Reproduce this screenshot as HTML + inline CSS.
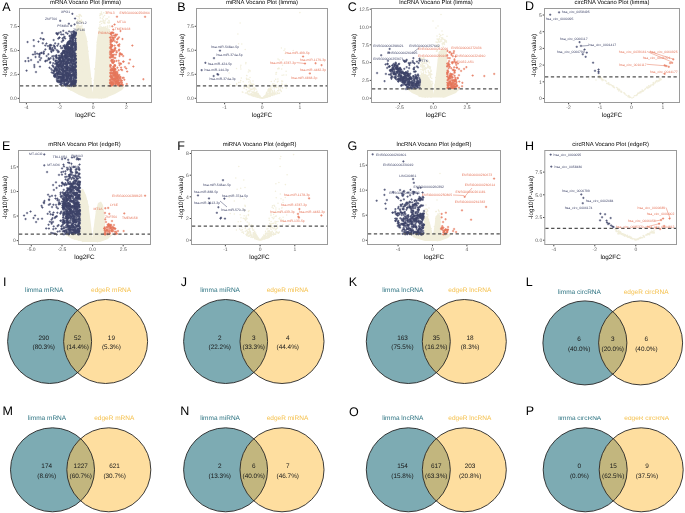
<!DOCTYPE html><html><head><meta charset="utf-8"><style>html,body{margin:0;padding:0;background:#fff}svg{display:block}</style></head><body>
<svg width="685" height="513" viewBox="0 0 685 513" style="font-family:'Liberation Sans',sans-serif;will-change:transform;text-rendering:geometricPrecision">
<defs><clipPath id="clipP"><rect x="540" y="416.3" width="145" height="10"/></clipPath></defs>
<polygon points="76,28 80,27 84,28 87,40 89.3,60 91.5,80 92.6,93 94,80 95.5,60 96.9,40 99,28 104,27 110,29 110,86 118,86 125,86.5 122,90 115,94 104,98.5 88,98.5 79,95 70,90 64,86.5 76,86" fill="#F1EEDB"/>
<path d="M72.2 87.6h0M103.7 83.4h0M91.2 78.6h0M77.2 57.2h0M78.2 43.5h0M77.3 59.9h0M81.7 28.5h0M103.2 40.3h0M108 77.9h0M82.5 69h0M117.8 87.5h0M94.8 69.1h0M106.9 75.2h0M86.9 58.4h0M95 82.7h0M94.6 97.2h0M95.3 95.1h0M99.2 59.8h0M80.4 66.2h0M98.2 57.5h0M98.8 41.3h0M85.8 51.7h0M96.8 71.6h0M101.4 59.8h0M79.6 87.2h0M105.1 33h0M107.4 59.5h0M83.6 60.9h0M100.9 85.4h0M105.4 65.9h0M77.6 73.4h0M88.1 68.2h0M83.6 72.1h0M82.7 88.4h0M82.9 94.2h0M109.4 56.8h0M79.4 27.6h0M98.8 39.3h0M106.9 63.4h0M87.1 51.8h0M76.6 75.2h0M82.1 62.7h0M83.8 89.3h0M76.3 50.4h0M84.7 42.2h0M105.1 86.9h0M93.6 97.5h0M78.3 78.9h0M84.8 47.8h0M68.5 88.9h0M112.1 86.2h0M84.8 71h0M98.8 43h0M80.9 83.3h0M104.9 33.6h0M71 90.3h0M78.7 80.2h0M87.1 96.4h0M79.5 61.1h0M100.4 59.2h0M83.1 31.5h0M77.1 71.2h0M106 74.3h0M79.8 65.7h0M82.7 44.6h0M103.8 73h0M82.7 50.4h0M83.3 87.6h0M84.4 65.9h0M99.3 69.6h0M79 28.5h0M78.9 32.2h0M81.7 83.6h0M94.1 88.7h0M83.3 91.6h0M113 91.9h0M106.1 39.7h0M107.6 74.7h0M79.4 31.6h0M97.5 65.7h0M88.1 51.2h0M79.7 28.7h0M103.4 56.8h0M98.8 31.5h0M85.7 36.9h0M88.5 70.8h0M78.2 27.5h0M96.3 62.8h0M103.6 58.3h0M105.9 79.3h0M78.5 62.4h0M89.1 67.1h0M80.8 73.2h0M95.2 89.7h0M106.2 87.7h0M86.7 77.1h0M108.9 69.5h0M116.2 91.1h0M77.3 67.7h0M105.6 78.3h0M85.2 63.8h0M80.3 92.3h0M111.3 87.2h0M104.2 77.1h0M91.1 93.1h0M100.6 56.2h0M79.1 80.6h0M102.3 70.3h0M81.4 65.8h0M80.7 68.9h0M79.3 75.9h0M93.9 88.2h0M87.4 47.3h0M97.3 96h0M98.9 49.3h0M82.6 55.6h0M87 41.6h0M100.5 90h0M82.6 39.2h0M101.8 65h0M87.7 57.4h0M88.7 88.6h0M99.7 79.5h0M94.1 80.3h0M103.1 73.4h0M102.4 56.1h0M102.4 72.3h0M85.3 45.9h0M107.2 89.5h0M95.1 80.2h0M104.1 28.4h0M94.9 94.6h0M106.1 55.7h0M106 70.3h0M76.7 41.9h0M68.6 86.4h0M95.2 79.7h0M107.5 85.3h0M80.5 70.6h0M78.2 67.1h0M107.1 87.3h0M102 49.6h0M90.3 81.5h0M102.2 38.8h0M101 45.7h0M86 80.7h0M78.7 78.3h0M107.8 48.8h0M100.4 90.6h0M77.2 29.5h0M106.9 85.3h0M84.9 86.9h0M99.4 42.2h0M107.6 50.6h0M100.2 92h0M112.6 88.3h0M83.5 54.4h0M99.4 92.7h0M88.4 89.9h0M115.2 91.8h0M80.7 35.4h0M102.9 80.2h0M105.9 87.5h0M104.4 54.9h0M102.5 96.3h0M103.1 44.4h0M100 52h0M100.9 67.1h0M85.5 56.5h0M76.2 89.9h0M89.9 74.4h0M107.5 80.1h0M108 80.8h0M116.1 87.9h0M86.6 97.4h0M88.1 77.6h0M108.7 49.4h0M113.2 88.2h0M82.5 57.4h0M79 66.8h0M84.1 51.2h0M99.6 34.5h0M103.8 59.1h0M96.7 91.1h0M85.1 68.1h0M103.7 49.4h0M82.2 52.2h0M83.8 80.5h0M83.9 50.4h0M93.3 92.3h0M113.8 93.2h0M99.1 98h0M109.5 52.9h0M88.6 60.2h0M105.9 67.2h0M89.1 79h0M97.3 46h0M102.6 64.6h0M74.6 88.6h0M81.3 90.7h0M100.5 88.9h0M105.2 65.9h0M108.3 85.2h0M76.3 80.4h0M99.7 29.9h0M98.9 66.4h0M96.1 65.8h0M88.9 72h0M82.8 48.6h0M94.9 68.9h0M97.5 96.8h0M98.5 53.3h0M88.5 94h0M86.7 80.6h0M85.6 56.7h0M79.9 88.3h0M100 47.5h0M95.3 79.9h0M106.2 58h0M107.6 62.1h0M93.3 95.1h0M88.3 78.7h0M101.3 98.2h0M97.5 65.2h0M85.1 94.6h0M97.7 57h0M105 35.5h0M80.2 46.9h0M105.3 33.2h0M87.8 74.8h0M81.9 63.3h0M87.6 91.7h0M76.3 64.2h0M89.4 90.5h0M94 91h0M97.2 42.3h0M80.3 65.6h0M90.9 81.3h0M80.7 77.5h0M100.5 95.6h0M96.5 70.5h0M81.1 76.7h0M80.3 42.3h0M86.4 60.6h0M84.6 70.3h0M75.1 89.9h0M106.3 65.2h0M106.1 73.1h0M113.5 90.7h0M83.2 62.3h0M84.1 36.1h0M106.9 67.3h0M105.8 43.2h0M76.2 67.6h0M82.6 71h0M105.5 97.4h0M84.8 70h0M84.1 37h0M79.3 82.1h0M105.6 29.9h0M80.4 30.6h0M88.4 93.8h0M102.9 44.3h0M105.5 46.6h0M105.4 71.4h0M96.2 67.4h0M96.7 55.2h0M77.1 58.1h0M97.3 44.9h0M80.5 64.9h0M103.9 65.9h0M97.2 87.3h0M108.1 75.9h0M105.6 38.1h0M115.3 87.6h0M84.5 90.5h0M73.7 87.7h0M87.3 58.4h0M80.5 74.7h0M87.1 67.2h0M89.8 93.7h0M88.9 70.3h0M79 84.8h0M78.6 67.2h0M85.8 38.3h0M111.4 92.5h0M83.1 89.9h0M85.1 74h0M87 48h0M106.7 72.4h0M105.1 90.7h0M107.3 96.7h0M87.4 86.6h0M97.1 67.9h0M120.5 87h0M102.7 79.6h0M84.9 44.1h0M111.3 93.9h0M99.7 63.7h0M90.1 83.8h0" stroke="#F1EEDB" stroke-width="1.6" stroke-linecap="round" fill="none"/>
<path d="M82 23.7h0M81.6 21.1h0M78.1 25.3h0M77 22.9h0M79.3 21.5h0M81.5 20.1h0M76.1 28.2h0M78.7 16.7h0M79.5 22.1h0M78.7 21.1h0M79.8 20.5h0M79.5 14.8h0M79.4 18.6h0M77.7 25.9h0M79.1 14.6h0M80.8 26.4h0M82.6 22.6h0M77.2 16.3h0M79 16.7h0M80 14.5h0M77.1 16.3h0M77.7 25.6h0M80.6 15.4h0M79.6 26.8h0M80.9 21.4h0M79.3 15.3h0M81.8 22h0M77.1 21.2h0M76.6 16.1h0M79.2 16.9h0M81.6 28.8h0M79 26.3h0M77.9 24.1h0M79 21.1h0M76.8 26.1h0M77.8 19.9h0M78.5 25.8h0M81 22.5h0M76.5 26.1h0M78.7 25.8h0M76.9 26.5h0M81.4 16.2h0M77.8 20.6h0M77 27.4h0M82 25.9h0" stroke="#F1EEDB" stroke-width="1.6" stroke-linecap="round" fill="none"/>
<path d="M102.9 28.6h0M100 24.9h0M101.4 12.1h0M99.9 15.6h0M107.3 18.8h0M104 23h0M101.6 23.5h0M106.2 28.6h0M104.3 27.4h0M109.6 25.8h0M103.3 16.9h0M99.6 27h0M100 22.1h0M103.7 12.8h0M101 26.8h0M104.7 28.6h0M106.3 12.8h0M103.4 20h0M109.5 22.7h0M100.7 21.2h0M104.5 15.5h0M102.6 27.8h0M109.8 26h0M99.2 28.3h0M103.8 27h0M100.5 14.7h0M108.9 17.1h0M109.9 27h0M103.1 29.9h0M107.7 27.2h0M105.9 19.1h0M108.9 20.5h0M109.2 21.9h0M109 20.6h0M103.4 22.6h0M102.1 14.7h0M105.3 27.3h0M101.7 27.6h0M107.6 26h0M103.3 30h0M107.6 22.4h0M99.8 22.3h0M98.7 28.2h0M102.4 18.6h0M104.8 23.5h0M105.2 20.7h0M105.8 27.2h0M103.6 21h0M100.3 17.9h0M101 28.1h0M100.2 13.9h0M102.1 21.2h0M107.9 29.9h0M108.3 23h0M105.8 26.8h0M101.6 29.4h0M104.8 22.3h0M105.6 13.3h0M100.5 28.9h0M101.6 13.5h0" stroke="#F1EEDB" stroke-width="1.6" stroke-linecap="round" fill="none"/>
<path d="M58.3 71.2h2.3m-1.1-1.1v2.3M58.2 57.9h2.3m-1.1-1.1v2.3M68.8 48.3h2.3m-1.1-1.1v2.3M71.9 84.7h2.3m-1.1-1.1v2.3M70.8 36.1h2.3m-1.1-1.1v2.3M59.1 82h2.3m-1.1-1.1v2.3M71.6 39.2h2.3m-1.1-1.1v2.3M62 51.7h2.3m-1.1-1.1v2.3M59.1 72.5h2.3m-1.1-1.1v2.3M72.2 34.2h2.3m-1.1-1.1v2.3M65.4 67.8h2.3m-1.1-1.1v2.3M71.9 54.9h2.3m-1.1-1.1v2.3M74.2 42.7h2.3m-1.1-1.1v2.3M59.6 84.1h2.3m-1.1-1.1v2.3M68.5 43.9h2.3m-1.1-1.1v2.3M74.4 33.7h2.3m-1.1-1.1v2.3M57.7 61.8h2.3m-1.1-1.1v2.3M52.1 73.3h2.3m-1.1-1.1v2.3M53.8 76.1h2.3m-1.1-1.1v2.3M63.1 52.1h2.3m-1.1-1.1v2.3M60.9 67.3h2.3m-1.1-1.1v2.3M67.6 48h2.3m-1.1-1.1v2.3M73.3 55h2.3m-1.1-1.1v2.3M66.2 67.9h2.3m-1.1-1.1v2.3M73.8 55.4h2.3m-1.1-1.1v2.3M68.1 50.6h2.3m-1.1-1.1v2.3M68 75.4h2.3m-1.1-1.1v2.3M73.7 76.9h2.3m-1.1-1.1v2.3M64.8 61.7h2.3m-1.1-1.1v2.3M63.4 57.8h2.3m-1.1-1.1v2.3M67.5 63.1h2.3m-1.1-1.1v2.3M71.6 56.3h2.3m-1.1-1.1v2.3M62.7 76.9h2.3m-1.1-1.1v2.3M67.4 60.3h2.3m-1.1-1.1v2.3M64.8 75.5h2.3m-1.1-1.1v2.3M65.8 46h2.3m-1.1-1.1v2.3M59 64.6h2.3m-1.1-1.1v2.3M72.4 44.5h2.3m-1.1-1.1v2.3M62.1 69.8h2.3m-1.1-1.1v2.3M73.1 69.6h2.3m-1.1-1.1v2.3M66.2 52.7h2.3m-1.1-1.1v2.3M61.9 66.7h2.3m-1.1-1.1v2.3M60 74.4h2.3m-1.1-1.1v2.3M52 72.6h2.3m-1.1-1.1v2.3M68.9 48.5h2.3m-1.1-1.1v2.3M65.4 74.5h2.3m-1.1-1.1v2.3M71.9 43.3h2.3m-1.1-1.1v2.3M74.6 66.9h2.3m-1.1-1.1v2.3M54.8 69.3h2.3m-1.1-1.1v2.3M73.9 64.8h2.3m-1.1-1.1v2.3M68 41.9h2.3m-1.1-1.1v2.3M69.5 59.2h2.3m-1.1-1.1v2.3M65.1 51.8h2.3m-1.1-1.1v2.3M64 56.9h2.3m-1.1-1.1v2.3M71.8 36h2.3m-1.1-1.1v2.3M65.8 65.3h2.3m-1.1-1.1v2.3M66.3 45.1h2.3m-1.1-1.1v2.3M69 79.5h2.3m-1.1-1.1v2.3M58.9 58.9h2.3m-1.1-1.1v2.3M60.4 61.9h2.3m-1.1-1.1v2.3M72 59.7h2.3m-1.1-1.1v2.3M59.2 64.6h2.3m-1.1-1.1v2.3M65.3 47.8h2.3m-1.1-1.1v2.3M64.5 46.9h2.3m-1.1-1.1v2.3M63.4 79h2.3m-1.1-1.1v2.3M69.1 72.5h2.3m-1.1-1.1v2.3M74.6 46.3h2.3m-1.1-1.1v2.3M73.1 84.8h2.3m-1.1-1.1v2.3M53.3 71.5h2.3m-1.1-1.1v2.3M71.5 35.6h2.3m-1.1-1.1v2.3M72.3 44.9h2.3m-1.1-1.1v2.3M64.6 56.4h2.3m-1.1-1.1v2.3M66.6 73.1h2.3m-1.1-1.1v2.3M72.7 37.3h2.3m-1.1-1.1v2.3M70.1 79.4h2.3m-1.1-1.1v2.3M55.2 77h2.3m-1.1-1.1v2.3M65.4 55.9h2.3m-1.1-1.1v2.3M70.1 67.9h2.3m-1.1-1.1v2.3M69 38.3h2.3m-1.1-1.1v2.3M73.8 75.8h2.3m-1.1-1.1v2.3M59.9 56.5h2.3m-1.1-1.1v2.3M72 67.6h2.3m-1.1-1.1v2.3M66 78.7h2.3m-1.1-1.1v2.3M60.7 55h2.3m-1.1-1.1v2.3M57.5 76.8h2.3m-1.1-1.1v2.3M72 81.2h2.3m-1.1-1.1v2.3M53.5 75.1h2.3m-1.1-1.1v2.3M72.2 60.7h2.3m-1.1-1.1v2.3M73 82.3h2.3m-1.1-1.1v2.3M69.2 52h2.3m-1.1-1.1v2.3M62.3 51h2.3m-1.1-1.1v2.3M61 57.5h2.3m-1.1-1.1v2.3M55.7 62.6h2.3m-1.1-1.1v2.3M71.9 70.4h2.3m-1.1-1.1v2.3M57.3 66.8h2.3m-1.1-1.1v2.3M55.8 78.2h2.3m-1.1-1.1v2.3M64.5 79.9h2.3m-1.1-1.1v2.3M72.9 77.6h2.3m-1.1-1.1v2.3M56.1 60.9h2.3m-1.1-1.1v2.3M74.5 71.2h2.3m-1.1-1.1v2.3M74 59.4h2.3m-1.1-1.1v2.3M71.9 78.3h2.3m-1.1-1.1v2.3M69.8 65.9h2.3m-1.1-1.1v2.3M67.2 50.5h2.3m-1.1-1.1v2.3M66 84.1h2.3m-1.1-1.1v2.3M71.4 49.7h2.3m-1.1-1.1v2.3M60.3 80.1h2.3m-1.1-1.1v2.3M59 59.6h2.3m-1.1-1.1v2.3M72.6 61.1h2.3m-1.1-1.1v2.3M72.6 61.3h2.3m-1.1-1.1v2.3M61.8 79.1h2.3m-1.1-1.1v2.3M65.2 57.6h2.3m-1.1-1.1v2.3M63.6 51.2h2.3m-1.1-1.1v2.3M56.6 73.2h2.3m-1.1-1.1v2.3M65.9 68.6h2.3m-1.1-1.1v2.3M71.8 36.7h2.3m-1.1-1.1v2.3M66.7 42.6h2.3m-1.1-1.1v2.3M59.7 63.1h2.3m-1.1-1.1v2.3M71.1 68.2h2.3m-1.1-1.1v2.3M74.5 33h2.3m-1.1-1.1v2.3M59.1 57.9h2.3m-1.1-1.1v2.3M60.3 62.2h2.3m-1.1-1.1v2.3M59.2 72h2.3m-1.1-1.1v2.3M64.9 85.8h2.3m-1.1-1.1v2.3M65.8 80.1h2.3m-1.1-1.1v2.3M65 58h2.3m-1.1-1.1v2.3M59.1 77h2.3m-1.1-1.1v2.3M63.1 83.3h2.3m-1.1-1.1v2.3M58.6 66.2h2.3m-1.1-1.1v2.3M73.2 43.7h2.3m-1.1-1.1v2.3M60 67.3h2.3m-1.1-1.1v2.3M64.9 63.1h2.3m-1.1-1.1v2.3M65.8 68.5h2.3m-1.1-1.1v2.3M61 60.2h2.3m-1.1-1.1v2.3M64.9 79.2h2.3m-1.1-1.1v2.3M61 56.3h2.3m-1.1-1.1v2.3M71 84.4h2.3m-1.1-1.1v2.3M57.4 71.4h2.3m-1.1-1.1v2.3M57.5 72h2.3m-1.1-1.1v2.3M65 69.8h2.3m-1.1-1.1v2.3M72.9 74.9h2.3m-1.1-1.1v2.3M64.8 58.8h2.3m-1.1-1.1v2.3M64.8 72.1h2.3m-1.1-1.1v2.3M55.7 63.8h2.3m-1.1-1.1v2.3M53 71.2h2.3m-1.1-1.1v2.3M70.7 55.6h2.3m-1.1-1.1v2.3M67.7 67.8h2.3m-1.1-1.1v2.3M69.3 51.3h2.3m-1.1-1.1v2.3M71 83.5h2.3m-1.1-1.1v2.3M64.9 84.4h2.3m-1.1-1.1v2.3M72 35.2h2.3m-1.1-1.1v2.3M66.9 59.5h2.3m-1.1-1.1v2.3M74.6 85.7h2.3m-1.1-1.1v2.3M74.7 49.8h2.3m-1.1-1.1v2.3M56 81.2h2.3m-1.1-1.1v2.3M66 48.6h2.3m-1.1-1.1v2.3M64.6 55.1h2.3m-1.1-1.1v2.3M62.4 61.8h2.3m-1.1-1.1v2.3M55.8 65.2h2.3m-1.1-1.1v2.3M73.8 64h2.3m-1.1-1.1v2.3M70 47.3h2.3m-1.1-1.1v2.3M74.4 38.4h2.3m-1.1-1.1v2.3M60.6 67.4h2.3m-1.1-1.1v2.3M68.7 65.4h2.3m-1.1-1.1v2.3M62 76h2.3m-1.1-1.1v2.3M62 77.1h2.3m-1.1-1.1v2.3M53.1 71h2.3m-1.1-1.1v2.3M62.2 78.1h2.3m-1.1-1.1v2.3M74.3 56.3h2.3m-1.1-1.1v2.3M60.8 81.3h2.3m-1.1-1.1v2.3M69.7 41.4h2.3m-1.1-1.1v2.3M69.7 62h2.3m-1.1-1.1v2.3M70.2 35.5h2.3m-1.1-1.1v2.3M73.2 44.4h2.3m-1.1-1.1v2.3M71.4 55.8h2.3m-1.1-1.1v2.3M72.3 37.5h2.3m-1.1-1.1v2.3M73.3 57.1h2.3m-1.1-1.1v2.3M64.3 55.1h2.3m-1.1-1.1v2.3M72.3 72h2.3m-1.1-1.1v2.3M65.9 44.1h2.3m-1.1-1.1v2.3M70.5 43.7h2.3m-1.1-1.1v2.3M62.3 79.4h2.3m-1.1-1.1v2.3M63.1 56h2.3m-1.1-1.1v2.3M68.9 48.4h2.3m-1.1-1.1v2.3M65.2 48.9h2.3m-1.1-1.1v2.3M69.2 41.4h2.3m-1.1-1.1v2.3M63.1 56.1h2.3m-1.1-1.1v2.3M62.4 61.1h2.3m-1.1-1.1v2.3M64.2 49.1h2.3m-1.1-1.1v2.3M70.8 83.4h2.3m-1.1-1.1v2.3M64.7 66.3h2.3m-1.1-1.1v2.3M68.5 49.3h2.3m-1.1-1.1v2.3M65.5 57h2.3m-1.1-1.1v2.3M63 53.3h2.3m-1.1-1.1v2.3M65.5 45.2h2.3m-1.1-1.1v2.3M69.8 80.9h2.3m-1.1-1.1v2.3M69.3 49.7h2.3m-1.1-1.1v2.3M73.5 50.6h2.3m-1.1-1.1v2.3M60.2 64.1h2.3m-1.1-1.1v2.3M67 54.1h2.3m-1.1-1.1v2.3M69.9 78.1h2.3m-1.1-1.1v2.3M61 69.7h2.3m-1.1-1.1v2.3M67.3 41.5h2.3m-1.1-1.1v2.3M60.8 80.7h2.3m-1.1-1.1v2.3M73.9 64.6h2.3m-1.1-1.1v2.3M69.8 77.3h2.3m-1.1-1.1v2.3M65.9 52.8h2.3m-1.1-1.1v2.3M68.2 47.9h2.3m-1.1-1.1v2.3M61.8 75.6h2.3m-1.1-1.1v2.3M68.7 85.3h2.3m-1.1-1.1v2.3M69.2 39.8h2.3m-1.1-1.1v2.3M61.9 61.3h2.3m-1.1-1.1v2.3M66.5 69.8h2.3m-1.1-1.1v2.3M74.2 82.9h2.3m-1.1-1.1v2.3M74.2 40.7h2.3m-1.1-1.1v2.3M74.1 38.5h2.3m-1.1-1.1v2.3M70.1 69.9h2.3m-1.1-1.1v2.3M57.3 58.8h2.3m-1.1-1.1v2.3M63.1 81.8h2.3m-1.1-1.1v2.3M72.4 50.8h2.3m-1.1-1.1v2.3M64 79.9h2.3m-1.1-1.1v2.3M68.4 43.1h2.3m-1.1-1.1v2.3M70.7 42.2h2.3m-1.1-1.1v2.3M70.2 75.9h2.3m-1.1-1.1v2.3M69.6 37.9h2.3m-1.1-1.1v2.3M68.4 85.7h2.3m-1.1-1.1v2.3M63.9 67.2h2.3m-1.1-1.1v2.3M69.1 54.2h2.3m-1.1-1.1v2.3M60.3 61.6h2.3m-1.1-1.1v2.3M67.2 56.7h2.3m-1.1-1.1v2.3M66 62.7h2.3m-1.1-1.1v2.3M53.1 76h2.3m-1.1-1.1v2.3M61.7 74.4h2.3m-1.1-1.1v2.3M61.4 78.4h2.3m-1.1-1.1v2.3M67.8 67.7h2.3m-1.1-1.1v2.3M72.7 74.1h2.3m-1.1-1.1v2.3M62.3 69.2h2.3m-1.1-1.1v2.3M63.9 63.6h2.3m-1.1-1.1v2.3M59.9 77.4h2.3m-1.1-1.1v2.3M57.5 66.5h2.3m-1.1-1.1v2.3M58.5 57.5h2.3m-1.1-1.1v2.3M70.2 84.9h2.3m-1.1-1.1v2.3M61.8 57.4h2.3m-1.1-1.1v2.3M64.2 68.4h2.3m-1.1-1.1v2.3M73.6 66.7h2.3m-1.1-1.1v2.3M64.4 54.1h2.3m-1.1-1.1v2.3M72.8 60.3h2.3m-1.1-1.1v2.3M62.8 71.6h2.3m-1.1-1.1v2.3M65.5 78.8h2.3m-1.1-1.1v2.3M54.4 67.3h2.3m-1.1-1.1v2.3M72.8 44.7h2.3m-1.1-1.1v2.3M58.9 65h2.3m-1.1-1.1v2.3M65 62.3h2.3m-1.1-1.1v2.3M65.5 46.9h2.3m-1.1-1.1v2.3M66.1 55.6h2.3m-1.1-1.1v2.3M59.2 84.4h2.3m-1.1-1.1v2.3M62.8 60.8h2.3m-1.1-1.1v2.3M68.1 56.6h2.3m-1.1-1.1v2.3M63.6 67.6h2.3m-1.1-1.1v2.3M69.3 68h2.3m-1.1-1.1v2.3M61.4 69h2.3m-1.1-1.1v2.3M65.6 57.8h2.3m-1.1-1.1v2.3M66.3 48.5h2.3m-1.1-1.1v2.3M74.2 80.2h2.3m-1.1-1.1v2.3M70.9 46h2.3m-1.1-1.1v2.3M71.1 74.6h2.3m-1.1-1.1v2.3M64.3 48.4h2.3m-1.1-1.1v2.3M74.8 77.9h2.3m-1.1-1.1v2.3M62.1 71.4h2.3m-1.1-1.1v2.3M72.8 61.3h2.3m-1.1-1.1v2.3M64.2 73.6h2.3m-1.1-1.1v2.3M67.8 62.5h2.3m-1.1-1.1v2.3M54.4 69h2.3m-1.1-1.1v2.3M65.8 66.4h2.3m-1.1-1.1v2.3M67.7 82.1h2.3m-1.1-1.1v2.3M62.1 65h2.3m-1.1-1.1v2.3M64 63.8h2.3m-1.1-1.1v2.3M67.5 42.2h2.3m-1.1-1.1v2.3M58.9 74.4h2.3m-1.1-1.1v2.3M71.8 36.8h2.3m-1.1-1.1v2.3M60 69.3h2.3m-1.1-1.1v2.3M64.8 46.4h2.3m-1.1-1.1v2.3M54.9 63.2h2.3m-1.1-1.1v2.3M57.6 78.2h2.3m-1.1-1.1v2.3M57.9 82.4h2.3m-1.1-1.1v2.3M58.3 57.6h2.3m-1.1-1.1v2.3M61.9 75.7h2.3m-1.1-1.1v2.3M56.1 73.5h2.3m-1.1-1.1v2.3M70.8 55.2h2.3m-1.1-1.1v2.3M71.4 51.2h2.3m-1.1-1.1v2.3M60 81.2h2.3m-1.1-1.1v2.3M74.6 74.6h2.3m-1.1-1.1v2.3M60.3 78.9h2.3m-1.1-1.1v2.3M57.8 69.3h2.3m-1.1-1.1v2.3M74.4 60.1h2.3m-1.1-1.1v2.3M54.3 69h2.3m-1.1-1.1v2.3M72.5 74.2h2.3m-1.1-1.1v2.3M69.7 69.9h2.3m-1.1-1.1v2.3M74.8 80.5h2.3m-1.1-1.1v2.3M70.2 69.2h2.3m-1.1-1.1v2.3M69.5 56.7h2.3m-1.1-1.1v2.3M71.7 39.1h2.3m-1.1-1.1v2.3M71.6 66.9h2.3m-1.1-1.1v2.3M72.2 69.9h2.3m-1.1-1.1v2.3M61.9 59.9h2.3m-1.1-1.1v2.3M60.1 66.7h2.3m-1.1-1.1v2.3M65.5 80.3h2.3m-1.1-1.1v2.3M61.8 61.9h2.3m-1.1-1.1v2.3M61.6 72.8h2.3m-1.1-1.1v2.3M66.2 83h2.3m-1.1-1.1v2.3M58.6 65.3h2.3m-1.1-1.1v2.3M66.5 42.9h2.3m-1.1-1.1v2.3M58.1 64.2h2.3m-1.1-1.1v2.3M57.9 76.8h2.3m-1.1-1.1v2.3M54.3 74.3h2.3m-1.1-1.1v2.3M55.4 70.6h2.3m-1.1-1.1v2.3M69.8 82.9h2.3m-1.1-1.1v2.3M72.6 33.3h2.3m-1.1-1.1v2.3M67.1 81.2h2.3m-1.1-1.1v2.3M69.6 56.5h2.3m-1.1-1.1v2.3M69.1 47.3h2.3m-1.1-1.1v2.3M70.3 53.9h2.3m-1.1-1.1v2.3M74.2 33.5h2.3m-1.1-1.1v2.3M69.5 84.4h2.3m-1.1-1.1v2.3M63.2 77.4h2.3m-1.1-1.1v2.3M70.3 54.2h2.3m-1.1-1.1v2.3M53.8 68.3h2.3m-1.1-1.1v2.3M72.6 36.5h2.3m-1.1-1.1v2.3M65.9 50.8h2.3m-1.1-1.1v2.3M58.9 61h2.3m-1.1-1.1v2.3M66.1 77.9h2.3m-1.1-1.1v2.3M71.5 41.2h2.3m-1.1-1.1v2.3M66.3 79.3h2.3m-1.1-1.1v2.3M57.6 64.6h2.3m-1.1-1.1v2.3M74.6 66.3h2.3m-1.1-1.1v2.3M68 48.8h2.3m-1.1-1.1v2.3M74.7 76.9h2.3m-1.1-1.1v2.3M71.9 74.4h2.3m-1.1-1.1v2.3M64.6 81.4h2.3m-1.1-1.1v2.3M71.5 65.6h2.3m-1.1-1.1v2.3M59.1 81.1h2.3m-1.1-1.1v2.3M56.8 74.7h2.3m-1.1-1.1v2.3M68 48.8h2.3m-1.1-1.1v2.3M56.9 66.4h2.3m-1.1-1.1v2.3M63.6 74.9h2.3m-1.1-1.1v2.3M63.9 70.6h2.3m-1.1-1.1v2.3M73.8 56.7h2.3m-1.1-1.1v2.3M65.8 81.1h2.3m-1.1-1.1v2.3M74.3 34.3h2.3m-1.1-1.1v2.3M71.9 42.4h2.3m-1.1-1.1v2.3M56.3 80.9h2.3m-1.1-1.1v2.3M66.2 69h2.3m-1.1-1.1v2.3M74.3 33.6h2.3m-1.1-1.1v2.3M71.1 83.3h2.3m-1.1-1.1v2.3M72.9 36.6h2.3m-1.1-1.1v2.3M57.8 61.3h2.3m-1.1-1.1v2.3M71.9 60.6h2.3m-1.1-1.1v2.3M64.1 47.1h2.3m-1.1-1.1v2.3M60.9 80.7h2.3m-1.1-1.1v2.3M72.1 71.3h2.3m-1.1-1.1v2.3M65.5 76.9h2.3m-1.1-1.1v2.3M72.1 35.5h2.3m-1.1-1.1v2.3M61.3 53h2.3m-1.1-1.1v2.3M56.3 70.1h2.3m-1.1-1.1v2.3M73.9 81.1h2.3m-1.1-1.1v2.3M70.3 77.3h2.3m-1.1-1.1v2.3M70.7 62.6h2.3m-1.1-1.1v2.3M70.5 82.5h2.3m-1.1-1.1v2.3M74.2 67.8h2.3m-1.1-1.1v2.3M71.9 35.4h2.3m-1.1-1.1v2.3M59.6 57.6h2.3m-1.1-1.1v2.3M63.6 51.8h2.3m-1.1-1.1v2.3M70.6 63.4h2.3m-1.1-1.1v2.3M71.3 55.9h2.3m-1.1-1.1v2.3M73.5 51.2h2.3m-1.1-1.1v2.3M74.7 62.6h2.3m-1.1-1.1v2.3M60.5 65.5h2.3m-1.1-1.1v2.3M54.3 69.1h2.3m-1.1-1.1v2.3M65.6 75.5h2.3m-1.1-1.1v2.3M69.4 80.6h2.3m-1.1-1.1v2.3M66.2 73.3h2.3m-1.1-1.1v2.3M73.6 56.6h2.3m-1.1-1.1v2.3M63.6 80h2.3m-1.1-1.1v2.3M67.4 46.9h2.3m-1.1-1.1v2.3M65.4 73.4h2.3m-1.1-1.1v2.3M71.3 39h2.3m-1.1-1.1v2.3M55.7 69.1h2.3m-1.1-1.1v2.3M68.3 71.4h2.3m-1.1-1.1v2.3M63.1 52.7h2.3m-1.1-1.1v2.3M73.9 45.8h2.3m-1.1-1.1v2.3M67.1 43.8h2.3m-1.1-1.1v2.3M68.9 41.2h2.3m-1.1-1.1v2.3M60.4 66.4h2.3m-1.1-1.1v2.3M69.7 56.5h2.3m-1.1-1.1v2.3M70.4 57.5h2.3m-1.1-1.1v2.3M67.1 77h2.3m-1.1-1.1v2.3M64.8 62.4h2.3m-1.1-1.1v2.3M73.3 33.8h2.3m-1.1-1.1v2.3M59 61h2.3m-1.1-1.1v2.3M66.1 68.8h2.3m-1.1-1.1v2.3M59.8 77.6h2.3m-1.1-1.1v2.3M63.6 53.3h2.3m-1.1-1.1v2.3M74.7 44.5h2.3m-1.1-1.1v2.3M71.1 44h2.3m-1.1-1.1v2.3M73.4 68.4h2.3m-1.1-1.1v2.3M74.2 55.6h2.3m-1.1-1.1v2.3M71.1 64.7h2.3m-1.1-1.1v2.3M68.3 54.2h2.3m-1.1-1.1v2.3M59.6 82h2.3m-1.1-1.1v2.3M53.7 76.9h2.3m-1.1-1.1v2.3M69.1 40.7h2.3m-1.1-1.1v2.3M61.8 77.1h2.3m-1.1-1.1v2.3M63.6 59.4h2.3m-1.1-1.1v2.3M74.6 72.4h2.3m-1.1-1.1v2.3M68.1 79h2.3m-1.1-1.1v2.3M64.5 47.5h2.3m-1.1-1.1v2.3M60.1 61.4h2.3m-1.1-1.1v2.3M72.2 70h2.3m-1.1-1.1v2.3M67 46.2h2.3m-1.1-1.1v2.3M72 40.7h2.3m-1.1-1.1v2.3M74.8 75.2h2.3m-1.1-1.1v2.3M70.7 38h2.3m-1.1-1.1v2.3M64.5 67.4h2.3m-1.1-1.1v2.3M68.9 43.2h2.3m-1.1-1.1v2.3M72.5 79.2h2.3m-1.1-1.1v2.3M73.4 53h2.3m-1.1-1.1v2.3M53.8 76.1h2.3m-1.1-1.1v2.3M62 50.9h2.3m-1.1-1.1v2.3M61.7 70.3h2.3m-1.1-1.1v2.3M68.6 55.5h2.3m-1.1-1.1v2.3M74.1 35.6h2.3m-1.1-1.1v2.3M65.5 84.5h2.3m-1.1-1.1v2.3M65.1 84.4h2.3m-1.1-1.1v2.3M55.2 70.8h2.3m-1.1-1.1v2.3M71.2 38.2h2.3m-1.1-1.1v2.3M57.2 65.3h2.3m-1.1-1.1v2.3M72.8 70.4h2.3m-1.1-1.1v2.3M69.6 48.1h2.3m-1.1-1.1v2.3M71.4 39.5h2.3m-1.1-1.1v2.3M61 58.4h2.3m-1.1-1.1v2.3M62.1 63.8h2.3m-1.1-1.1v2.3M61.7 78.4h2.3m-1.1-1.1v2.3M73.1 80.6h2.3m-1.1-1.1v2.3M69.7 81.5h2.3m-1.1-1.1v2.3M64.6 57.4h2.3m-1.1-1.1v2.3M68.4 53.7h2.3m-1.1-1.1v2.3M64.3 46.7h2.3m-1.1-1.1v2.3M74.2 81.7h2.3m-1.1-1.1v2.3M57.4 71.2h2.3m-1.1-1.1v2.3M59 69h2.3m-1.1-1.1v2.3M66.5 47.7h2.3m-1.1-1.1v2.3M69.6 78.7h2.3m-1.1-1.1v2.3M72.7 69.5h2.3m-1.1-1.1v2.3M61.9 63.6h2.3m-1.1-1.1v2.3M69.4 49.1h2.3m-1.1-1.1v2.3M72.2 74.5h2.3m-1.1-1.1v2.3M67.8 73h2.3m-1.1-1.1v2.3M53 75.9h2.3m-1.1-1.1v2.3M62.1 69.1h2.3m-1.1-1.1v2.3M66.8 54.9h2.3m-1.1-1.1v2.3M68.8 78.3h2.3m-1.1-1.1v2.3M74.7 32.9h2.3m-1.1-1.1v2.3M72.9 73.9h2.3m-1.1-1.1v2.3M65.5 73.2h2.3m-1.1-1.1v2.3M59.9 53.8h2.3m-1.1-1.1v2.3M70.4 59.9h2.3m-1.1-1.1v2.3M65.9 76.5h2.3m-1.1-1.1v2.3M55.7 62.8h2.3m-1.1-1.1v2.3M68.5 63.5h2.3m-1.1-1.1v2.3M74.3 45.8h2.3m-1.1-1.1v2.3M67.5 74.1h2.3m-1.1-1.1v2.3M60.8 82.8h2.3m-1.1-1.1v2.3M74.5 81.4h2.3m-1.1-1.1v2.3M72.5 67.8h2.3m-1.1-1.1v2.3M63.4 66.7h2.3m-1.1-1.1v2.3M65.8 83.6h2.3m-1.1-1.1v2.3M60.9 53.2h2.3m-1.1-1.1v2.3M68.6 75.4h2.3m-1.1-1.1v2.3M68.9 40.6h2.3m-1.1-1.1v2.3M66.4 46.5h2.3m-1.1-1.1v2.3M67.3 75h2.3m-1.1-1.1v2.3M62.6 74.3h2.3m-1.1-1.1v2.3M70.6 37.2h2.3m-1.1-1.1v2.3M70.6 38.2h2.3m-1.1-1.1v2.3M71.2 81.1h2.3m-1.1-1.1v2.3M74.3 65.2h2.3m-1.1-1.1v2.3M70.7 40.6h2.3m-1.1-1.1v2.3M65.1 79.3h2.3m-1.1-1.1v2.3M71.8 41.3h2.3m-1.1-1.1v2.3M70.9 53.5h2.3m-1.1-1.1v2.3M63.6 75.1h2.3m-1.1-1.1v2.3M67.2 49.6h2.3m-1.1-1.1v2.3M71.5 82.3h2.3m-1.1-1.1v2.3M71.9 34.6h2.3m-1.1-1.1v2.3M73.3 83.1h2.3m-1.1-1.1v2.3M69.9 56.8h2.3m-1.1-1.1v2.3M57 66.6h2.3m-1.1-1.1v2.3M69.8 59.5h2.3m-1.1-1.1v2.3M72.2 82.7h2.3m-1.1-1.1v2.3M60.3 70.3h2.3m-1.1-1.1v2.3M67.3 46.8h2.3m-1.1-1.1v2.3M60.4 73h2.3m-1.1-1.1v2.3M56.7 81.8h2.3m-1.1-1.1v2.3M66 44.4h2.3m-1.1-1.1v2.3M71.2 51.4h2.3m-1.1-1.1v2.3M54.8 68.1h2.3m-1.1-1.1v2.3M61.7 65.7h2.3m-1.1-1.1v2.3M58.6 59.8h2.3m-1.1-1.1v2.3M71.1 45.1h2.3m-1.1-1.1v2.3M59.8 79h2.3m-1.1-1.1v2.3M74.8 73.7h2.3m-1.1-1.1v2.3M55.1 73.3h2.3m-1.1-1.1v2.3M53.9 75.2h2.3m-1.1-1.1v2.3M67.2 76.4h2.3m-1.1-1.1v2.3M67.2 75.1h2.3m-1.1-1.1v2.3M71.1 49.6h2.3m-1.1-1.1v2.3M69 62.6h2.3m-1.1-1.1v2.3M73.1 80.7h2.3m-1.1-1.1v2.3M70.2 69.7h2.3m-1.1-1.1v2.3M57.8 81.1h2.3m-1.1-1.1v2.3M53.5 69.2h2.3m-1.1-1.1v2.3M67.7 52h2.3m-1.1-1.1v2.3M70.5 42.2h2.3m-1.1-1.1v2.3M74 82.4h2.3m-1.1-1.1v2.3M70.1 50.5h2.3m-1.1-1.1v2.3M65.4 69.3h2.3m-1.1-1.1v2.3M73.6 72.7h2.3m-1.1-1.1v2.3M53.6 75.4h2.3m-1.1-1.1v2.3M71.3 44h2.3m-1.1-1.1v2.3M62.7 50.7h2.3m-1.1-1.1v2.3M65.5 83.3h2.3m-1.1-1.1v2.3M55.8 72.7h2.3m-1.1-1.1v2.3M69.6 60.9h2.3m-1.1-1.1v2.3M71.4 54.9h2.3m-1.1-1.1v2.3M55.4 63.7h2.3m-1.1-1.1v2.3M71.2 57.6h2.3m-1.1-1.1v2.3M73.3 58.7h2.3m-1.1-1.1v2.3M61.3 74.3h2.3m-1.1-1.1v2.3M73 80.7h2.3m-1.1-1.1v2.3M67 43.6h2.3m-1.1-1.1v2.3M59 62.1h2.3m-1.1-1.1v2.3M70 45.6h2.3m-1.1-1.1v2.3M66.8 48.4h2.3m-1.1-1.1v2.3M59 81.6h2.3m-1.1-1.1v2.3M65.1 58.8h2.3m-1.1-1.1v2.3M70.2 50h2.3m-1.1-1.1v2.3M67.3 82.8h2.3m-1.1-1.1v2.3M71 58.7h2.3m-1.1-1.1v2.3M55.7 79.8h2.3m-1.1-1.1v2.3M74.2 49.1h2.3m-1.1-1.1v2.3M63.9 48.5h2.3m-1.1-1.1v2.3M66.1 69.9h2.3m-1.1-1.1v2.3M61.8 70.5h2.3m-1.1-1.1v2.3M55.7 75.6h2.3m-1.1-1.1v2.3M69 75.4h2.3m-1.1-1.1v2.3M70.1 47.6h2.3m-1.1-1.1v2.3M60.8 83.6h2.3m-1.1-1.1v2.3M67.6 67.6h2.3m-1.1-1.1v2.3M60.6 55.6h2.3m-1.1-1.1v2.3M72.8 85.9h2.3m-1.1-1.1v2.3M59.5 63.7h2.3m-1.1-1.1v2.3M70.2 53.9h2.3m-1.1-1.1v2.3M66.9 74.1h2.3m-1.1-1.1v2.3M74.5 58.2h2.3m-1.1-1.1v2.3M67.5 43.8h2.3m-1.1-1.1v2.3M69.7 47.2h2.3m-1.1-1.1v2.3M66.1 72.8h2.3m-1.1-1.1v2.3M67.8 48.5h2.3m-1.1-1.1v2.3M55.6 69.6h2.3m-1.1-1.1v2.3M53.5 74.1h2.3m-1.1-1.1v2.3M67.5 66.6h2.3m-1.1-1.1v2.3M64.1 71h2.3m-1.1-1.1v2.3M61.4 65.3h2.3m-1.1-1.1v2.3M74.1 77.3h2.3m-1.1-1.1v2.3M61 54.4h2.3m-1.1-1.1v2.3M62.2 61.4h2.3m-1.1-1.1v2.3M71.5 67.9h2.3m-1.1-1.1v2.3M56.3 64.2h2.3m-1.1-1.1v2.3M70.7 45.4h2.3m-1.1-1.1v2.3M74.2 39.9h2.3m-1.1-1.1v2.3M66.4 51.5h2.3m-1.1-1.1v2.3M68.5 59h2.3m-1.1-1.1v2.3M56.9 78.4h2.3m-1.1-1.1v2.3" stroke="#3E4468" stroke-width="0.95" fill="none" stroke-opacity="0.75"/>
<path d="M58.5 60.2h2.3m-1.1-1.1v2.3M68.3 51.9h2.3m-1.1-1.1v2.3M70.6 48h2.3m-1.1-1.1v2.3M56.8 52.1h2.3m-1.1-1.1v2.3M61.9 58.9h2.3m-1.1-1.1v2.3M67.9 31.4h2.3m-1.1-1.1v2.3M74.5 69.6h2.3m-1.1-1.1v2.3M69.5 68.9h2.3m-1.1-1.1v2.3M74.4 77h2.3m-1.1-1.1v2.3M67.4 52.5h2.3m-1.1-1.1v2.3M72.4 81.6h2.3m-1.1-1.1v2.3M72.4 75.3h2.3m-1.1-1.1v2.3M71.6 74.5h2.3m-1.1-1.1v2.3M57 73.3h2.3m-1.1-1.1v2.3M70.4 34.1h2.3m-1.1-1.1v2.3M53.7 47h2.3m-1.1-1.1v2.3M32.8 46h2.3m-1.1-1.1v2.3M65.5 70.1h2.3m-1.1-1.1v2.3M73.2 67.4h2.3m-1.1-1.1v2.3M74.3 47.3h2.3m-1.1-1.1v2.3M69.5 52.9h2.3m-1.1-1.1v2.3M74.1 75.8h2.3m-1.1-1.1v2.3M73 32.8h2.3m-1.1-1.1v2.3M69.6 78h2.3m-1.1-1.1v2.3M61.7 40.4h2.3m-1.1-1.1v2.3M65.8 56.7h2.3m-1.1-1.1v2.3M69.9 32h2.3m-1.1-1.1v2.3M72 66.6h2.3m-1.1-1.1v2.3M73.4 53.2h2.3m-1.1-1.1v2.3M70.4 57.4h2.3m-1.1-1.1v2.3M74.4 53.6h2.3m-1.1-1.1v2.3M67.8 55.1h2.3m-1.1-1.1v2.3M59 76.7h2.3m-1.1-1.1v2.3M47.8 59.2h2.3m-1.1-1.1v2.3M72.7 63h2.3m-1.1-1.1v2.3M72.3 83.9h2.3m-1.1-1.1v2.3M62.1 61h2.3m-1.1-1.1v2.3M74.6 62.4h2.3m-1.1-1.1v2.3M62.1 64.2h2.3m-1.1-1.1v2.3M66.4 84.9h2.3m-1.1-1.1v2.3M61.4 74.4h2.3m-1.1-1.1v2.3M57.3 76.7h2.3m-1.1-1.1v2.3M66.3 49.3h2.3m-1.1-1.1v2.3M64.3 54.7h2.3m-1.1-1.1v2.3M70.5 53.4h2.3m-1.1-1.1v2.3M58.1 67.9h2.3m-1.1-1.1v2.3M73.3 47h2.3m-1.1-1.1v2.3M56.4 33.9h2.3m-1.1-1.1v2.3M71.5 57.7h2.3m-1.1-1.1v2.3M58.1 37.8h2.3m-1.1-1.1v2.3M74.2 84.9h2.3m-1.1-1.1v2.3M49.1 62.2h2.3m-1.1-1.1v2.3M63.2 67.3h2.3m-1.1-1.1v2.3M73.4 24.4h2.3m-1.1-1.1v2.3M66.5 78.1h2.3m-1.1-1.1v2.3M57.2 62.5h2.3m-1.1-1.1v2.3M69.5 75.3h2.3m-1.1-1.1v2.3M67.2 77.4h2.3m-1.1-1.1v2.3M65.6 45.4h2.3m-1.1-1.1v2.3M66.3 63.5h2.3m-1.1-1.1v2.3M70.6 85.3h2.3m-1.1-1.1v2.3M67.1 59.4h2.3m-1.1-1.1v2.3M69.8 84.1h2.3m-1.1-1.1v2.3M69.5 75.5h2.3m-1.1-1.1v2.3M70.7 54.4h2.3m-1.1-1.1v2.3M71.3 74.7h2.3m-1.1-1.1v2.3M56.9 76.8h2.3m-1.1-1.1v2.3M52.6 70.7h2.3m-1.1-1.1v2.3M61.2 48h2.3m-1.1-1.1v2.3M69.9 74.4h2.3m-1.1-1.1v2.3M69.8 75.6h2.3m-1.1-1.1v2.3M64.2 64.1h2.3m-1.1-1.1v2.3M72.5 59.9h2.3m-1.1-1.1v2.3M72.2 42.7h2.3m-1.1-1.1v2.3M69.5 50.9h2.3m-1.1-1.1v2.3M62.3 75.3h2.3m-1.1-1.1v2.3M70.5 45.2h2.3m-1.1-1.1v2.3M65.1 51h2.3m-1.1-1.1v2.3M69.2 69.4h2.3m-1.1-1.1v2.3M49.1 44.9h2.3m-1.1-1.1v2.3M50 68.9h2.3m-1.1-1.1v2.3M74.6 32.3h2.3m-1.1-1.1v2.3M56.2 74.3h2.3m-1.1-1.1v2.3M64.5 73.3h2.3m-1.1-1.1v2.3M45.3 43.5h2.3m-1.1-1.1v2.3M67.2 60.8h2.3m-1.1-1.1v2.3M74.4 42.2h2.3m-1.1-1.1v2.3M58.7 76.6h2.3m-1.1-1.1v2.3M72.3 79.3h2.3m-1.1-1.1v2.3M59.7 81.8h2.3m-1.1-1.1v2.3M58.3 37.5h2.3m-1.1-1.1v2.3M37.3 41.6h2.3m-1.1-1.1v2.3M71 53h2.3m-1.1-1.1v2.3M68.7 36.3h2.3m-1.1-1.1v2.3M67.1 43.8h2.3m-1.1-1.1v2.3M57.8 73.4h2.3m-1.1-1.1v2.3M71.4 46.6h2.3m-1.1-1.1v2.3M71.5 51h2.3m-1.1-1.1v2.3M65.8 76.7h2.3m-1.1-1.1v2.3M56.6 68.3h2.3m-1.1-1.1v2.3M73.3 54.5h2.3m-1.1-1.1v2.3M62.9 46h2.3m-1.1-1.1v2.3M70.9 60.3h2.3m-1.1-1.1v2.3M68.1 75.2h2.3m-1.1-1.1v2.3M63.5 80.9h2.3m-1.1-1.1v2.3M74.5 70.9h2.3m-1.1-1.1v2.3M71 71.8h2.3m-1.1-1.1v2.3M63.8 71.9h2.3m-1.1-1.1v2.3M67.7 81.6h2.3m-1.1-1.1v2.3M52.3 50.2h2.3m-1.1-1.1v2.3M72.6 74.5h2.3m-1.1-1.1v2.3M63.4 55.9h2.3m-1.1-1.1v2.3M50.5 72.4h2.3m-1.1-1.1v2.3M72.2 64h2.3m-1.1-1.1v2.3M74.5 82.8h2.3m-1.1-1.1v2.3M74.5 70.2h2.3m-1.1-1.1v2.3M57.6 58.9h2.3m-1.1-1.1v2.3M74.5 59.1h2.3m-1.1-1.1v2.3M72.4 85.6h2.3m-1.1-1.1v2.3M55.8 66.8h2.3m-1.1-1.1v2.3M71.6 31.8h2.3m-1.1-1.1v2.3M66.4 33.7h2.3m-1.1-1.1v2.3M71.9 70.4h2.3m-1.1-1.1v2.3M61.3 68.3h2.3m-1.1-1.1v2.3M52.4 59.7h2.3m-1.1-1.1v2.3M63.5 62.2h2.3m-1.1-1.1v2.3M58.1 64.7h2.3m-1.1-1.1v2.3M62.9 52.5h2.3m-1.1-1.1v2.3M69 55.7h2.3m-1.1-1.1v2.3M50.3 51.9h2.3m-1.1-1.1v2.3M59.5 77.1h2.3m-1.1-1.1v2.3M73.8 84.2h2.3m-1.1-1.1v2.3M56.9 62.5h2.3m-1.1-1.1v2.3M48.6 46.8h2.3m-1.1-1.1v2.3M70.5 69.8h2.3m-1.1-1.1v2.3M61 53.3h2.3m-1.1-1.1v2.3M74.7 58.9h2.3m-1.1-1.1v2.3M58.3 68.9h2.3m-1.1-1.1v2.3M73.4 57.8h2.3m-1.1-1.1v2.3M69.5 70.5h2.3m-1.1-1.1v2.3M60.6 41.8h2.3m-1.1-1.1v2.3M69.6 44.6h2.3m-1.1-1.1v2.3M62.6 37.5h2.3m-1.1-1.1v2.3M74.1 33.9h2.3m-1.1-1.1v2.3M62.6 61.4h2.3m-1.1-1.1v2.3M70.9 66.8h2.3m-1.1-1.1v2.3M60.7 56.9h2.3m-1.1-1.1v2.3M60.9 54.3h2.3m-1.1-1.1v2.3M51.9 66.2h2.3m-1.1-1.1v2.3M64.5 60.7h2.3m-1.1-1.1v2.3M72.3 52.1h2.3m-1.1-1.1v2.3M68.3 80.1h2.3m-1.1-1.1v2.3M70.3 61h2.3m-1.1-1.1v2.3M73.7 48.7h2.3m-1.1-1.1v2.3M61.4 38.4h2.3m-1.1-1.1v2.3M55.1 55.9h2.3m-1.1-1.1v2.3M64 85.5h2.3m-1.1-1.1v2.3M52.5 40h2.3m-1.1-1.1v2.3M65 58.1h2.3m-1.1-1.1v2.3M60 55.5h2.3m-1.1-1.1v2.3M64.6 52.1h2.3m-1.1-1.1v2.3M72.7 56.2h2.3m-1.1-1.1v2.3M72 68.9h2.3m-1.1-1.1v2.3M72.3 75.2h2.3m-1.1-1.1v2.3M71 47.5h2.3m-1.1-1.1v2.3M55.1 57.1h2.3m-1.1-1.1v2.3M69.5 76.8h2.3m-1.1-1.1v2.3M68.7 60.8h2.3m-1.1-1.1v2.3M66.1 64.9h2.3m-1.1-1.1v2.3M62.1 40.3h2.3m-1.1-1.1v2.3M66.6 70h2.3m-1.1-1.1v2.3M52.7 45.4h2.3m-1.1-1.1v2.3M44.5 60.8h2.3m-1.1-1.1v2.3M66.2 60.7h2.3m-1.1-1.1v2.3M48.3 67.7h2.3m-1.1-1.1v2.3M55.2 33.1h2.3m-1.1-1.1v2.3M66.2 53.4h2.3m-1.1-1.1v2.3M65.3 63.9h2.3m-1.1-1.1v2.3M70.2 72h2.3m-1.1-1.1v2.3M71.7 52.6h2.3m-1.1-1.1v2.3M66.2 64.1h2.3m-1.1-1.1v2.3M65.9 53.3h2.3m-1.1-1.1v2.3M50 51h2.3m-1.1-1.1v2.3M66.2 58.9h2.3m-1.1-1.1v2.3M67.3 62.7h2.3m-1.1-1.1v2.3M65.4 67.3h2.3m-1.1-1.1v2.3M70.8 37.8h2.3m-1.1-1.1v2.3M69.4 60.1h2.3m-1.1-1.1v2.3M50.1 45.3h2.3m-1.1-1.1v2.3M68.4 73.6h2.3m-1.1-1.1v2.3M70.6 61.6h2.3m-1.1-1.1v2.3M69.1 64.8h2.3m-1.1-1.1v2.3M57.7 55.7h2.3m-1.1-1.1v2.3M73.5 35.9h2.3m-1.1-1.1v2.3M70.5 54h2.3m-1.1-1.1v2.3M62.1 30.8h2.3m-1.1-1.1v2.3M56.9 50.9h2.3m-1.1-1.1v2.3M74.5 66h2.3m-1.1-1.1v2.3M61.4 76.9h2.3m-1.1-1.1v2.3M63.4 50.8h2.3m-1.1-1.1v2.3M64.9 32.7h2.3m-1.1-1.1v2.3M71.6 71.1h2.3m-1.1-1.1v2.3M60 48.1h2.3m-1.1-1.1v2.3M62.6 81.5h2.3m-1.1-1.1v2.3M73.8 56.9h2.3m-1.1-1.1v2.3M74 42.4h2.3m-1.1-1.1v2.3M64.2 84.4h2.3m-1.1-1.1v2.3M73.5 76.5h2.3m-1.1-1.1v2.3M72.5 85.9h2.3m-1.1-1.1v2.3M73 83.1h2.3m-1.1-1.1v2.3M65.7 67h2.3m-1.1-1.1v2.3M70.3 54.6h2.3m-1.1-1.1v2.3M71.6 49.2h2.3m-1.1-1.1v2.3M54 43.3h2.3m-1.1-1.1v2.3M67.7 23.7h2.3m-1.1-1.1v2.3M71.3 63.9h2.3m-1.1-1.1v2.3M57.1 38.6h2.3m-1.1-1.1v2.3M50.9 70.2h2.3m-1.1-1.1v2.3M71.2 68.3h2.3m-1.1-1.1v2.3M66.7 73.3h2.3m-1.1-1.1v2.3M74.3 72.2h2.3m-1.1-1.1v2.3M55.5 66.1h2.3m-1.1-1.1v2.3M70 81.8h2.3m-1.1-1.1v2.3M59.5 32.1h2.3m-1.1-1.1v2.3M69.8 49.8h2.3m-1.1-1.1v2.3M74.4 48.1h2.3m-1.1-1.1v2.3M59.8 74.1h2.3m-1.1-1.1v2.3M61.6 69.1h2.3m-1.1-1.1v2.3M61.3 71.2h2.3m-1.1-1.1v2.3M72.5 73.2h2.3m-1.1-1.1v2.3M55.2 55.2h2.3m-1.1-1.1v2.3M73.5 80.9h2.3m-1.1-1.1v2.3M73.1 32.1h2.3m-1.1-1.1v2.3M46.1 60.4h2.3m-1.1-1.1v2.3M65.6 65.9h2.3m-1.1-1.1v2.3M73.9 82.1h2.3m-1.1-1.1v2.3M52 63.1h2.3m-1.1-1.1v2.3M60.5 61.7h2.3m-1.1-1.1v2.3M33.9 54.1h2.3m-1.1-1.1v2.3M61 74h2.3m-1.1-1.1v2.3M65.4 65.8h2.3m-1.1-1.1v2.3M72.7 63.7h2.3m-1.1-1.1v2.3M61.6 52.2h2.3m-1.1-1.1v2.3M59 79h2.3m-1.1-1.1v2.3M48 59.1h2.3m-1.1-1.1v2.3M61.6 76.7h2.3m-1.1-1.1v2.3M70 86h2.3m-1.1-1.1v2.3M63.8 84.8h2.3m-1.1-1.1v2.3M68.4 52.9h2.3m-1.1-1.1v2.3M62.7 74.8h2.3m-1.1-1.1v2.3M74.6 43.6h2.3m-1.1-1.1v2.3M72.5 59.7h2.3m-1.1-1.1v2.3M71.3 66.5h2.3m-1.1-1.1v2.3M74.2 63.4h2.3m-1.1-1.1v2.3M66.8 85.6h2.3m-1.1-1.1v2.3M42.8 51.4h2.3m-1.1-1.1v2.3M66.1 61.2h2.3m-1.1-1.1v2.3M71.9 76.2h2.3m-1.1-1.1v2.3M72.3 52.7h2.3m-1.1-1.1v2.3M71.9 84.4h2.3m-1.1-1.1v2.3M69.7 70.4h2.3m-1.1-1.1v2.3M44.2 61.3h2.3m-1.1-1.1v2.3M70.8 48.2h2.3m-1.1-1.1v2.3M68.5 43.2h2.3m-1.1-1.1v2.3M68.4 69.8h2.3m-1.1-1.1v2.3M57.6 51.8h2.3m-1.1-1.1v2.3M70.6 57h2.3m-1.1-1.1v2.3M51.8 50.6h2.3m-1.1-1.1v2.3M63 84.4h2.3m-1.1-1.1v2.3M61.3 69.9h2.3m-1.1-1.1v2.3M74.1 65.1h2.3m-1.1-1.1v2.3M74.7 62.2h2.3m-1.1-1.1v2.3M62.2 73h2.3m-1.1-1.1v2.3M51.3 65.4h2.3m-1.1-1.1v2.3M71.4 82.9h2.3m-1.1-1.1v2.3M52.4 66.9h2.3m-1.1-1.1v2.3M68.7 73.6h2.3m-1.1-1.1v2.3M65.8 79.4h2.3m-1.1-1.1v2.3M47.4 58.2h2.3m-1.1-1.1v2.3M71.5 70.3h2.3m-1.1-1.1v2.3M67.7 58.5h2.3m-1.1-1.1v2.3M38.1 54.2h2.3m-1.1-1.1v2.3M49.1 48.1h2.3m-1.1-1.1v2.3M63.6 70.5h2.3m-1.1-1.1v2.3M70.3 55h2.3m-1.1-1.1v2.3M57.7 65.1h2.3m-1.1-1.1v2.3M49 47.7h2.3m-1.1-1.1v2.3M57.6 66.3h2.3m-1.1-1.1v2.3M55.9 57.8h2.3m-1.1-1.1v2.3M52.7 56h2.3m-1.1-1.1v2.3M61.9 76.4h2.3m-1.1-1.1v2.3M56.5 72.7h2.3m-1.1-1.1v2.3M68.7 68.7h2.3m-1.1-1.1v2.3M66.2 76.1h2.3m-1.1-1.1v2.3M65.5 46.5h2.3m-1.1-1.1v2.3M65.1 74.7h2.3m-1.1-1.1v2.3M44.1 45.4h2.3m-1.1-1.1v2.3M67.3 60.1h2.3m-1.1-1.1v2.3M60.8 76.1h2.3m-1.1-1.1v2.3M62 34.5h2.3m-1.1-1.1v2.3M74.8 48h2.3m-1.1-1.1v2.3M66.1 61.6h2.3m-1.1-1.1v2.3M68.8 59.6h2.3m-1.1-1.1v2.3M49.5 58.1h2.3m-1.1-1.1v2.3M42.6 53.7h2.3m-1.1-1.1v2.3M48.7 45.4h2.3m-1.1-1.1v2.3M62.5 71.9h2.3m-1.1-1.1v2.3M65.5 77h2.3m-1.1-1.1v2.3M63.9 76.8h2.3m-1.1-1.1v2.3M72.2 48.4h2.3m-1.1-1.1v2.3M64.7 75.3h2.3m-1.1-1.1v2.3M59.3 46.2h2.3m-1.1-1.1v2.3M67.7 70.6h2.3m-1.1-1.1v2.3M58.4 74.3h2.3m-1.1-1.1v2.3M61.9 80.3h2.3m-1.1-1.1v2.3M54.3 69.1h2.3m-1.1-1.1v2.3M63.4 36.7h2.3m-1.1-1.1v2.3M72.1 71.7h2.3m-1.1-1.1v2.3M72.5 63.3h2.3m-1.1-1.1v2.3M54.3 61.1h2.3m-1.1-1.1v2.3M71.3 35.1h2.3m-1.1-1.1v2.3M52.3 58.3h2.3m-1.1-1.1v2.3M64 38.5h2.3m-1.1-1.1v2.3M70.9 52.2h2.3m-1.1-1.1v2.3M45.5 56h2.3m-1.1-1.1v2.3M38.1 56.9h2.3m-1.1-1.1v2.3M63.2 59.9h2.3m-1.1-1.1v2.3M61.6 58.2h2.3m-1.1-1.1v2.3M59.3 63.6h2.3m-1.1-1.1v2.3M56.3 34.3h2.3m-1.1-1.1v2.3M70.5 69.2h2.3m-1.1-1.1v2.3M68.1 79h2.3m-1.1-1.1v2.3M59.8 66.4h2.3m-1.1-1.1v2.3M67.6 42.7h2.3m-1.1-1.1v2.3M55.1 58h2.3m-1.1-1.1v2.3M73.4 70.6h2.3m-1.1-1.1v2.3M69.9 61.9h2.3m-1.1-1.1v2.3M55.8 33.6h2.3m-1.1-1.1v2.3M46.7 46h2.3m-1.1-1.1v2.3M53.2 46.3h2.3m-1.1-1.1v2.3M57.2 43.9h2.3m-1.1-1.1v2.3M68.1 47.6h2.3m-1.1-1.1v2.3M41.9 39.2h2.3m-1.1-1.1v2.3M54.6 56.1h2.3m-1.1-1.1v2.3M51.1 56.3h2.3m-1.1-1.1v2.3M66.8 77.6h2.3m-1.1-1.1v2.3M53.8 63.8h2.3m-1.1-1.1v2.3M68.2 70.8h2.3m-1.1-1.1v2.3M74.5 78.4h2.3m-1.1-1.1v2.3M69.6 77.1h2.3m-1.1-1.1v2.3M65.9 44.8h2.3m-1.1-1.1v2.3M53.9 48.6h2.3m-1.1-1.1v2.3M59.1 60.7h2.3m-1.1-1.1v2.3M58.1 55.7h2.3m-1.1-1.1v2.3M74.6 46h2.3m-1.1-1.1v2.3M74.3 49.5h2.3m-1.1-1.1v2.3M48.6 48.9h2.3m-1.1-1.1v2.3M40.4 52.8h2.3m-1.1-1.1v2.3M66.6 72.1h2.3m-1.1-1.1v2.3M51.4 47.9h2.3m-1.1-1.1v2.3M69.8 79.3h2.3m-1.1-1.1v2.3M57.6 32.9h2.3m-1.1-1.1v2.3M68.4 35.8h2.3m-1.1-1.1v2.3M70.7 69.3h2.3m-1.1-1.1v2.3M65.2 54.6h2.3m-1.1-1.1v2.3M73.5 81h2.3m-1.1-1.1v2.3M72.7 31.4h2.3m-1.1-1.1v2.3M74.1 35.6h2.3m-1.1-1.1v2.3M69.9 66.1h2.3m-1.1-1.1v2.3M59.3 81.6h2.3m-1.1-1.1v2.3M54.7 60.4h2.3m-1.1-1.1v2.3M64 47.3h2.3m-1.1-1.1v2.3M64.5 67.2h2.3m-1.1-1.1v2.3M62.2 46h2.3m-1.1-1.1v2.3M62.9 80.4h2.3m-1.1-1.1v2.3M73.2 43.4h2.3m-1.1-1.1v2.3M60.2 85.1h2.3m-1.1-1.1v2.3M66.1 80.4h2.3m-1.1-1.1v2.3M71.4 66.5h2.3m-1.1-1.1v2.3M64.6 71.9h2.3m-1.1-1.1v2.3M47.2 54.2h2.3m-1.1-1.1v2.3M57.5 80.4h2.3m-1.1-1.1v2.3M74.5 55.4h2.3m-1.1-1.1v2.3M73.7 77.7h2.3m-1.1-1.1v2.3M42.5 39.3h2.3m-1.1-1.1v2.3M72.6 54.5h2.3m-1.1-1.1v2.3M65.2 84.5h2.3m-1.1-1.1v2.3M71.5 60.3h2.3m-1.1-1.1v2.3M51 49.4h2.3m-1.1-1.1v2.3M68.8 76.2h2.3m-1.1-1.1v2.3M65.6 56.8h2.3m-1.1-1.1v2.3M56.2 45.7h2.3m-1.1-1.1v2.3M62.4 64.9h2.3m-1.1-1.1v2.3M63.5 45.2h2.3m-1.1-1.1v2.3M71.9 80.6h2.3m-1.1-1.1v2.3M65.9 70.5h2.3m-1.1-1.1v2.3M64.5 67.1h2.3m-1.1-1.1v2.3M55.9 64.5h2.3m-1.1-1.1v2.3M68.3 41.8h2.3m-1.1-1.1v2.3M54.5 61h2.3m-1.1-1.1v2.3M64.8 50.1h2.3m-1.1-1.1v2.3M63 83h2.3m-1.1-1.1v2.3M61.8 59.2h2.3m-1.1-1.1v2.3M49.6 49h2.3m-1.1-1.1v2.3M64.3 71.8h2.3m-1.1-1.1v2.3M60.6 76.9h2.3m-1.1-1.1v2.3M74.3 34.7h2.3m-1.1-1.1v2.3M48.9 62.8h2.3m-1.1-1.1v2.3M66.7 56.6h2.3m-1.1-1.1v2.3M55.7 50.1h2.3m-1.1-1.1v2.3M70.6 76.2h2.3m-1.1-1.1v2.3M63.6 47.1h2.3m-1.1-1.1v2.3M41.6 43.2h2.3m-1.1-1.1v2.3M61.6 56.5h2.3m-1.1-1.1v2.3M44.2 49.4h2.3m-1.1-1.1v2.3M58.5 69.9h2.3m-1.1-1.1v2.3M74.5 72.6h2.3m-1.1-1.1v2.3M60.1 34.4h2.3m-1.1-1.1v2.3M62 79.4h2.3m-1.1-1.1v2.3M71.9 67.4h2.3m-1.1-1.1v2.3" stroke="#3E4468" stroke-width="0.95" fill="none" stroke-opacity="0.75"/>
<path d="M38.8 66.6h2.3m-1.1-1.1v2.3M42.3 53h2.3m-1.1-1.1v2.3M31.8 54.5h2.3m-1.1-1.1v2.3M36 53.6h2.3m-1.1-1.1v2.3M25.4 70.6h2.3m-1.1-1.1v2.3M39.5 38.4h2.3m-1.1-1.1v2.3M39.9 58.1h2.3m-1.1-1.1v2.3M33.2 67h2.3m-1.1-1.1v2.3M32.5 40.1h2.3m-1.1-1.1v2.3M38.4 53.7h2.3m-1.1-1.1v2.3M24.2 61.1h2.3m-1.1-1.1v2.3M34.8 72h2.3m-1.1-1.1v2.3M33.1 65h2.3m-1.1-1.1v2.3" stroke="#3E4468" stroke-width="0.95" fill="none" stroke-opacity="0.75"/>
<path d="M120.8 83h2.3m-1.1-1.1v2.3M109.9 57.1h2.3m-1.1-1.1v2.3M114.3 78.9h2.3m-1.1-1.1v2.3M112.5 80.6h2.3m-1.1-1.1v2.3M112.2 66.6h2.3m-1.1-1.1v2.3M111.8 82.9h2.3m-1.1-1.1v2.3M117.4 79.2h2.3m-1.1-1.1v2.3M111 77.3h2.3m-1.1-1.1v2.3M111.1 83.9h2.3m-1.1-1.1v2.3M109 54.3h2.3m-1.1-1.1v2.3M109.5 73.7h2.3m-1.1-1.1v2.3M112.9 60.9h2.3m-1.1-1.1v2.3M109.7 83h2.3m-1.1-1.1v2.3M109.5 82.6h2.3m-1.1-1.1v2.3M113.7 75.7h2.3m-1.1-1.1v2.3M115.2 79.5h2.3m-1.1-1.1v2.3M111.6 55.3h2.3m-1.1-1.1v2.3M109.9 46.8h2.3m-1.1-1.1v2.3M113.6 73.6h2.3m-1.1-1.1v2.3M111.9 62.8h2.3m-1.1-1.1v2.3M111.1 79h2.3m-1.1-1.1v2.3M113.9 74.1h2.3m-1.1-1.1v2.3M114.6 83.8h2.3m-1.1-1.1v2.3M118.2 85.9h2.3m-1.1-1.1v2.3M119.3 82.1h2.3m-1.1-1.1v2.3M110.7 49.7h2.3m-1.1-1.1v2.3M111.6 54.9h2.3m-1.1-1.1v2.3M113.1 72h2.3m-1.1-1.1v2.3M118.2 84.1h2.3m-1.1-1.1v2.3M114.1 84.2h2.3m-1.1-1.1v2.3M117.6 80.3h2.3m-1.1-1.1v2.3M109.5 73.8h2.3m-1.1-1.1v2.3M109.5 70.1h2.3m-1.1-1.1v2.3M111.6 78.8h2.3m-1.1-1.1v2.3M112.1 79.2h2.3m-1.1-1.1v2.3M111.8 74.8h2.3m-1.1-1.1v2.3M109.5 42.5h2.3m-1.1-1.1v2.3M111.7 59.7h2.3m-1.1-1.1v2.3M113.5 69.4h2.3m-1.1-1.1v2.3M111.3 79.3h2.3m-1.1-1.1v2.3M108.9 85.8h2.3m-1.1-1.1v2.3M111.6 84.9h2.3m-1.1-1.1v2.3M118.3 78.2h2.3m-1.1-1.1v2.3M110.1 39.7h2.3m-1.1-1.1v2.3M109.6 70.1h2.3m-1.1-1.1v2.3M110.3 76.2h2.3m-1.1-1.1v2.3M116.5 74.7h2.3m-1.1-1.1v2.3M119.2 80.1h2.3m-1.1-1.1v2.3M114.5 73.1h2.3m-1.1-1.1v2.3M112.4 83.8h2.3m-1.1-1.1v2.3M112.8 78.4h2.3m-1.1-1.1v2.3M114.5 75.1h2.3m-1.1-1.1v2.3M110.5 85.5h2.3m-1.1-1.1v2.3M109.4 41.1h2.3m-1.1-1.1v2.3M115.6 77.7h2.3m-1.1-1.1v2.3M115.1 81.6h2.3m-1.1-1.1v2.3M108.9 52.8h2.3m-1.1-1.1v2.3M113.5 69.5h2.3m-1.1-1.1v2.3M109.7 68h2.3m-1.1-1.1v2.3M109.2 79.6h2.3m-1.1-1.1v2.3M114.4 75.1h2.3m-1.1-1.1v2.3M109 57.7h2.3m-1.1-1.1v2.3M111 49.9h2.3m-1.1-1.1v2.3M110.1 53.3h2.3m-1.1-1.1v2.3M121.5 85h2.3m-1.1-1.1v2.3M119.1 78.6h2.3m-1.1-1.1v2.3M111.1 45.4h2.3m-1.1-1.1v2.3M116 81.1h2.3m-1.1-1.1v2.3M111 72.9h2.3m-1.1-1.1v2.3M110.9 51.7h2.3m-1.1-1.1v2.3M115.7 75.2h2.3m-1.1-1.1v2.3M109.5 75.8h2.3m-1.1-1.1v2.3M109.6 43.9h2.3m-1.1-1.1v2.3M114.9 77.3h2.3m-1.1-1.1v2.3M114.5 69.1h2.3m-1.1-1.1v2.3M113.5 70.1h2.3m-1.1-1.1v2.3M113.2 68.8h2.3m-1.1-1.1v2.3M109.5 44.7h2.3m-1.1-1.1v2.3M116.4 77.9h2.3m-1.1-1.1v2.3M109.2 83.5h2.3m-1.1-1.1v2.3M113.9 73.8h2.3m-1.1-1.1v2.3M118.3 85.6h2.3m-1.1-1.1v2.3M109.8 40.4h2.3m-1.1-1.1v2.3M112.3 67.2h2.3m-1.1-1.1v2.3M119.3 84.9h2.3m-1.1-1.1v2.3M115.7 81.2h2.3m-1.1-1.1v2.3M113.2 65.1h2.3m-1.1-1.1v2.3M109.1 66.6h2.3m-1.1-1.1v2.3M114.2 72.5h2.3m-1.1-1.1v2.3M111 61.8h2.3m-1.1-1.1v2.3M110 79.1h2.3m-1.1-1.1v2.3M110.9 60.9h2.3m-1.1-1.1v2.3M112.1 75.6h2.3m-1.1-1.1v2.3M110 47.5h2.3m-1.1-1.1v2.3M110.4 49.6h2.3m-1.1-1.1v2.3M110.2 69.7h2.3m-1.1-1.1v2.3M110.2 52.5h2.3m-1.1-1.1v2.3M117.7 83.3h2.3m-1.1-1.1v2.3M117.5 80.2h2.3m-1.1-1.1v2.3M116.4 83h2.3m-1.1-1.1v2.3M110.8 41.5h2.3m-1.1-1.1v2.3M113.6 68.8h2.3m-1.1-1.1v2.3M115.7 83h2.3m-1.1-1.1v2.3M114.9 75.9h2.3m-1.1-1.1v2.3M114.8 73.9h2.3m-1.1-1.1v2.3M113.1 69.6h2.3m-1.1-1.1v2.3M114.6 81.6h2.3m-1.1-1.1v2.3M113.8 65.4h2.3m-1.1-1.1v2.3M110 77h2.3m-1.1-1.1v2.3M112 84.3h2.3m-1.1-1.1v2.3M110.7 80.9h2.3m-1.1-1.1v2.3M108.9 47.7h2.3m-1.1-1.1v2.3" stroke="#E6765B" stroke-width="0.95" fill="none" stroke-opacity="0.75"/>
<path d="M113.2 74.5h2.3m-1.1-1.1v2.3M117.2 82.3h2.3m-1.1-1.1v2.3M111.4 77.3h2.3m-1.1-1.1v2.3M115.9 82h2.3m-1.1-1.1v2.3M117.5 76h2.3m-1.1-1.1v2.3M110.8 85.1h2.3m-1.1-1.1v2.3M116.2 81.4h2.3m-1.1-1.1v2.3M114.1 81h2.3m-1.1-1.1v2.3M111.9 73.2h2.3m-1.1-1.1v2.3M114.8 83h2.3m-1.1-1.1v2.3M112.7 70.4h2.3m-1.1-1.1v2.3M109.9 82.8h2.3m-1.1-1.1v2.3M116.3 84h2.3m-1.1-1.1v2.3M117.5 82.9h2.3m-1.1-1.1v2.3M113.6 72.6h2.3m-1.1-1.1v2.3M112.3 72h2.3m-1.1-1.1v2.3M117.5 83.3h2.3m-1.1-1.1v2.3M113.5 78.2h2.3m-1.1-1.1v2.3M117.4 83h2.3m-1.1-1.1v2.3M110.3 82.1h2.3m-1.1-1.1v2.3M117 84.9h2.3m-1.1-1.1v2.3M111.6 83h2.3m-1.1-1.1v2.3M115.6 71.5h2.3m-1.1-1.1v2.3M114.1 79.8h2.3m-1.1-1.1v2.3M116.1 80.7h2.3m-1.1-1.1v2.3M111.1 84h2.3m-1.1-1.1v2.3M116.3 74.2h2.3m-1.1-1.1v2.3M117 76h2.3m-1.1-1.1v2.3M113.4 70.1h2.3m-1.1-1.1v2.3M113 79.8h2.3m-1.1-1.1v2.3M114.7 76.4h2.3m-1.1-1.1v2.3M114.5 83h2.3m-1.1-1.1v2.3M113.4 80h2.3m-1.1-1.1v2.3M110.5 70.7h2.3m-1.1-1.1v2.3M117.8 83.7h2.3m-1.1-1.1v2.3M113.8 76h2.3m-1.1-1.1v2.3M116.3 72.9h2.3m-1.1-1.1v2.3M109.9 77.3h2.3m-1.1-1.1v2.3M112.8 81.7h2.3m-1.1-1.1v2.3M116.4 81h2.3m-1.1-1.1v2.3M115.8 76.4h2.3m-1.1-1.1v2.3M110.5 73.5h2.3m-1.1-1.1v2.3M109.1 72.6h2.3m-1.1-1.1v2.3M120.3 80.6h2.3m-1.1-1.1v2.3M109.5 81.2h2.3m-1.1-1.1v2.3M115.5 73h2.3m-1.1-1.1v2.3M113.7 82.8h2.3m-1.1-1.1v2.3M112.6 73.5h2.3m-1.1-1.1v2.3M121.5 85.2h2.3m-1.1-1.1v2.3M118.2 82.5h2.3m-1.1-1.1v2.3M116.2 78.7h2.3m-1.1-1.1v2.3M111.4 82.1h2.3m-1.1-1.1v2.3M120.6 82.2h2.3m-1.1-1.1v2.3M109.1 76.5h2.3m-1.1-1.1v2.3M110 83.2h2.3m-1.1-1.1v2.3M109.1 85.8h2.3m-1.1-1.1v2.3" stroke="#E6765B" stroke-width="0.95" fill="none" stroke-opacity="0.75"/>
<path d="M125.6 84h2.3m-1.1-1.1v2.3M111.9 56.7h2.3m-1.1-1.1v2.3M109.7 55.3h2.3m-1.1-1.1v2.3M110.2 45.1h2.3m-1.1-1.1v2.3M108.9 37.5h2.3m-1.1-1.1v2.3M117.9 63.1h2.3m-1.1-1.1v2.3M114.7 54.6h2.3m-1.1-1.1v2.3M112.9 57.9h2.3m-1.1-1.1v2.3M112.7 73.2h2.3m-1.1-1.1v2.3M123.8 67h2.3m-1.1-1.1v2.3M112.8 49.8h2.3m-1.1-1.1v2.3M109.4 33.6h2.3m-1.1-1.1v2.3M112.2 39.9h2.3m-1.1-1.1v2.3M110.8 33.1h2.3m-1.1-1.1v2.3M122 61.7h2.3m-1.1-1.1v2.3M116.8 85.2h2.3m-1.1-1.1v2.3M112.7 67.9h2.3m-1.1-1.1v2.3M109.6 39.1h2.3m-1.1-1.1v2.3M113.5 45.6h2.3m-1.1-1.1v2.3M113.2 61.4h2.3m-1.1-1.1v2.3M110.4 77.9h2.3m-1.1-1.1v2.3M116.6 83.9h2.3m-1.1-1.1v2.3M112.7 35.5h2.3m-1.1-1.1v2.3M118 49.5h2.3m-1.1-1.1v2.3M114 71.7h2.3m-1.1-1.1v2.3M115.3 60.9h2.3m-1.1-1.1v2.3M117.5 60.7h2.3m-1.1-1.1v2.3M110.5 59.9h2.3m-1.1-1.1v2.3M109.5 37.3h2.3m-1.1-1.1v2.3M116.3 67.6h2.3m-1.1-1.1v2.3M122.5 77.7h2.3m-1.1-1.1v2.3M116.6 77.1h2.3m-1.1-1.1v2.3M126 71.5h2.3m-1.1-1.1v2.3M111.1 62.8h2.3m-1.1-1.1v2.3M116.9 83.3h2.3m-1.1-1.1v2.3M109.6 65.3h2.3m-1.1-1.1v2.3M113.3 75.4h2.3m-1.1-1.1v2.3M111.9 83.6h2.3m-1.1-1.1v2.3M115.5 52.5h2.3m-1.1-1.1v2.3M120 84.4h2.3m-1.1-1.1v2.3M116.2 78.5h2.3m-1.1-1.1v2.3M117.5 70.2h2.3m-1.1-1.1v2.3M109.7 51.5h2.3m-1.1-1.1v2.3M111.6 73.5h2.3m-1.1-1.1v2.3M111.4 55.9h2.3m-1.1-1.1v2.3M110 54.3h2.3m-1.1-1.1v2.3M119.3 54.1h2.3m-1.1-1.1v2.3M114.4 34.5h2.3m-1.1-1.1v2.3M122.4 61.5h2.3m-1.1-1.1v2.3M120.6 54.4h2.3m-1.1-1.1v2.3M113.9 35.7h2.3m-1.1-1.1v2.3M117.9 46.1h2.3m-1.1-1.1v2.3M113.7 48.2h2.3m-1.1-1.1v2.3M120 69.5h2.3m-1.1-1.1v2.3M115.5 51.2h2.3m-1.1-1.1v2.3M125.1 68.5h2.3m-1.1-1.1v2.3M109.9 34.5h2.3m-1.1-1.1v2.3M118.2 75h2.3m-1.1-1.1v2.3M111.5 40.8h2.3m-1.1-1.1v2.3M112.6 70.9h2.3m-1.1-1.1v2.3M109.9 84.7h2.3m-1.1-1.1v2.3M115.9 42.1h2.3m-1.1-1.1v2.3M110.7 32.6h2.3m-1.1-1.1v2.3M113.8 65.2h2.3m-1.1-1.1v2.3M114.8 35.7h2.3m-1.1-1.1v2.3M112.6 50.8h2.3m-1.1-1.1v2.3M116.7 38.5h2.3m-1.1-1.1v2.3M111 45.6h2.3m-1.1-1.1v2.3M110.1 32.8h2.3m-1.1-1.1v2.3M109.7 75.9h2.3m-1.1-1.1v2.3M113.9 66.1h2.3m-1.1-1.1v2.3M118.6 77.2h2.3m-1.1-1.1v2.3M112.3 39.3h2.3m-1.1-1.1v2.3M109.1 51.2h2.3m-1.1-1.1v2.3M119.8 63.8h2.3m-1.1-1.1v2.3M110.8 45.3h2.3m-1.1-1.1v2.3M111.3 70h2.3m-1.1-1.1v2.3M114 74.8h2.3m-1.1-1.1v2.3M113.6 50.6h2.3m-1.1-1.1v2.3M112.8 72.8h2.3m-1.1-1.1v2.3M109.5 46.7h2.3m-1.1-1.1v2.3M118.5 54.1h2.3m-1.1-1.1v2.3M121.2 77.9h2.3m-1.1-1.1v2.3M110.6 56.1h2.3m-1.1-1.1v2.3M110.6 35.8h2.3m-1.1-1.1v2.3M111.1 46h2.3m-1.1-1.1v2.3M114.3 48.1h2.3m-1.1-1.1v2.3M120.5 80.5h2.3m-1.1-1.1v2.3M119.9 67.5h2.3m-1.1-1.1v2.3M110.7 77.5h2.3m-1.1-1.1v2.3M111.4 51.5h2.3m-1.1-1.1v2.3M117.3 45h2.3m-1.1-1.1v2.3M109.5 48.6h2.3m-1.1-1.1v2.3M111.3 37.7h2.3m-1.1-1.1v2.3M108.9 80.4h2.3m-1.1-1.1v2.3M109.2 83.3h2.3m-1.1-1.1v2.3M113.6 41.2h2.3m-1.1-1.1v2.3M111.8 51.8h2.3m-1.1-1.1v2.3M114.8 77.6h2.3m-1.1-1.1v2.3M115.3 42.4h2.3m-1.1-1.1v2.3M109.7 40.9h2.3m-1.1-1.1v2.3M114.4 85.1h2.3m-1.1-1.1v2.3M111.6 37.6h2.3m-1.1-1.1v2.3M119.4 63.5h2.3m-1.1-1.1v2.3M113.5 78.6h2.3m-1.1-1.1v2.3M108.9 82.6h2.3m-1.1-1.1v2.3M113.8 49.1h2.3m-1.1-1.1v2.3M120.5 54.3h2.3m-1.1-1.1v2.3M114.1 57.9h2.3m-1.1-1.1v2.3M109.9 60.9h2.3m-1.1-1.1v2.3M112.2 70.4h2.3m-1.1-1.1v2.3M108.9 57.2h2.3m-1.1-1.1v2.3M112.1 70.2h2.3m-1.1-1.1v2.3M120.2 84.3h2.3m-1.1-1.1v2.3M117 76.8h2.3m-1.1-1.1v2.3M123.2 79.7h2.3m-1.1-1.1v2.3M111.9 51.6h2.3m-1.1-1.1v2.3M116.9 45.3h2.3m-1.1-1.1v2.3M116.1 39.4h2.3m-1.1-1.1v2.3M112.5 38h2.3m-1.1-1.1v2.3M118.3 56h2.3m-1.1-1.1v2.3M112.3 62.6h2.3m-1.1-1.1v2.3M118.3 65.1h2.3m-1.1-1.1v2.3M122 56h2.3m-1.1-1.1v2.3M112.8 54.6h2.3m-1.1-1.1v2.3M111 57h2.3m-1.1-1.1v2.3M110.8 60.2h2.3m-1.1-1.1v2.3M111.5 69h2.3m-1.1-1.1v2.3M109.8 72.3h2.3m-1.1-1.1v2.3M118.9 53.1h2.3m-1.1-1.1v2.3M109.4 65.6h2.3m-1.1-1.1v2.3M113.7 37.4h2.3m-1.1-1.1v2.3M110.7 83.5h2.3m-1.1-1.1v2.3M116.4 77.4h2.3m-1.1-1.1v2.3M119.3 76.9h2.3m-1.1-1.1v2.3M112.4 75.6h2.3m-1.1-1.1v2.3M120.9 70.1h2.3m-1.1-1.1v2.3M118.2 83h2.3m-1.1-1.1v2.3M111.5 32.5h2.3m-1.1-1.1v2.3M117.7 50.6h2.3m-1.1-1.1v2.3M115.5 77.9h2.3m-1.1-1.1v2.3M112.4 33h2.3m-1.1-1.1v2.3M111 68.7h2.3m-1.1-1.1v2.3M109.2 64.9h2.3m-1.1-1.1v2.3" stroke="#E6765B" stroke-width="0.95" fill="none" stroke-opacity="0.75"/>
<path d="M115.8 16.7h2.3m-1.1-1.1v2.3M143.9 16.8h2.3m-1.1-1.1v2.3M113.4 24.5h2.3m-1.1-1.1v2.3M111.1 26.3h2.3m-1.1-1.1v2.3M112.1 29.6h2.3m-1.1-1.1v2.3M119.3 31h2.3m-1.1-1.1v2.3M115.8 34.5h2.3m-1.1-1.1v2.3M117.8 37.3h2.3m-1.1-1.1v2.3M121.3 39h2.3m-1.1-1.1v2.3M131.2 45.5h2.3m-1.1-1.1v2.3M118.3 44.3h2.3m-1.1-1.1v2.3M128.8 59.6h2.3m-1.1-1.1v2.3M127.7 63.2h2.3m-1.1-1.1v2.3M132.2 66.5h2.3m-1.1-1.1v2.3M142.2 79.2h2.3m-1.1-1.1v2.3" stroke="#E6765B" stroke-width="0.95" fill="none" stroke-opacity="0.75"/>
<path d="M71.2 13.8h2.3m-1.1-1.1v2.3M59 20.8h2.3m-1.1-1.1v2.3M70 25.8h2.3m-1.1-1.1v2.3M73.9 18.5h2.3m-1.1-1.1v2.3M40.9 33h2.3m-1.1-1.1v2.3M26.4 42h2.3m-1.1-1.1v2.3M33.9 52h2.3m-1.1-1.1v2.3M26.9 58h2.3m-1.1-1.1v2.3M29.9 60h2.3m-1.1-1.1v2.3M27.4 61h2.3m-1.1-1.1v2.3M34.4 57h2.3m-1.1-1.1v2.3M38.9 60h2.3m-1.1-1.1v2.3M36.9 62h2.3m-1.1-1.1v2.3M38.4 55h2.3m-1.1-1.1v2.3M39.9 53h2.3m-1.1-1.1v2.3" stroke="#3E4468" stroke-width="0.95" fill="none" stroke-opacity="0.75"/>
<line x1="20" y1="85.9" x2="151" y2="85.9" stroke="#505050" stroke-width="1.25" stroke-dasharray="3.3 2.54"/>
<text x="61" y="13.2" font-size="3.4" fill="#3E4468" text-anchor="start">XPO1</text>
<text x="44.9" y="20" font-size="3.4" fill="#3E4468" text-anchor="start">ZNF706</text>
<text x="57.2" y="26.8" font-size="3.4" fill="#3E4468" text-anchor="start">PSMB4</text>
<text x="75.9" y="23.7" font-size="3.4" fill="#3E4468" text-anchor="start">SCYL2</text>
<text x="73" y="30.8" font-size="3.4" fill="#3E4468" text-anchor="start">ZNF146</text>
<text x="105.3" y="14.4" font-size="3.4" fill="#E6765B" text-anchor="start">TRIL3</text>
<text x="119.4" y="14.4" font-size="3.4" fill="#E6765B" text-anchor="start">ENSG00000250964</text>
<text x="117" y="22.6" font-size="3.4" fill="#E6765B" text-anchor="start">MT1A</text>
<text x="114.7" y="30.2" font-size="3.4" fill="#E6765B" text-anchor="start">TMEM168</text>
<text x="98.3" y="33.9" font-size="3.4" fill="#E6765B" text-anchor="start">RGMACH</text>
<line x1="17.7" y1="98.4" x2="19.5" y2="98.4" stroke="#333333" stroke-width="0.9"/>
<text x="16.9" y="100.2" font-size="5.0" fill="#555555" text-anchor="end">0.0</text>
<line x1="17.7" y1="74.4" x2="19.5" y2="74.4" stroke="#333333" stroke-width="0.9"/>
<text x="16.9" y="76.2" font-size="5.0" fill="#555555" text-anchor="end">2.5</text>
<line x1="17.7" y1="50.5" x2="19.5" y2="50.5" stroke="#333333" stroke-width="0.9"/>
<text x="16.9" y="52.3" font-size="5.0" fill="#555555" text-anchor="end">5.0</text>
<line x1="17.7" y1="26.5" x2="19.5" y2="26.5" stroke="#333333" stroke-width="0.9"/>
<text x="16.9" y="28.3" font-size="5.0" fill="#555555" text-anchor="end">7.5</text>
<line x1="26.4" y1="102.5" x2="26.4" y2="104.3" stroke="#333333" stroke-width="0.9"/>
<text x="26.4" y="109.1" font-size="5.0" fill="#555555" text-anchor="middle">-4</text>
<line x1="59.8" y1="102.5" x2="59.8" y2="104.3" stroke="#333333" stroke-width="0.9"/>
<text x="59.8" y="109.1" font-size="5.0" fill="#555555" text-anchor="middle">-2</text>
<line x1="93.1" y1="102.5" x2="93.1" y2="104.3" stroke="#333333" stroke-width="0.9"/>
<text x="93.1" y="109.1" font-size="5.0" fill="#555555" text-anchor="middle">0</text>
<line x1="126.4" y1="102.5" x2="126.4" y2="104.3" stroke="#333333" stroke-width="0.9"/>
<text x="126.4" y="109.1" font-size="5.0" fill="#555555" text-anchor="middle">2</text>
<text x="85.5" y="4.4" font-size="5.85" fill="#000" text-anchor="middle">mRNA Vocano Plot (limma)</text>
<text x="85.5" y="116.5" font-size="6.3" fill="#000" text-anchor="middle">log2FC</text>
<text transform="translate(7 55.5) rotate(-90)" font-size="6.3" text-anchor="middle" fill="#000">-log10(P-value)</text>
<text x="2.2" y="10.5" font-size="12.5" fill="#000" text-anchor="start">A</text>
<rect x="19.5" y="8.5" width="132" height="94" fill="none" stroke="#9a9a9a" stroke-width="1"/>
<path d="M254.7 87.8h0M271.6 94h0M246.4 78.2h0M250.1 91.1h0M252.7 85.5h0M252 94h0M267 97.2h0M275.6 87.1h0M257.8 94.8h0M264.8 97h0M262.8 98h0M244.9 84.5h0M278.5 86.7h0M262.4 98.2h0M264.7 96.1h0M259.6 96.1h0M278 90.8h0M249.7 94.4h0M263.8 97.4h0M242.3 92.1h0M268.7 96h0M260.6 97.8h0M248.7 88.1h0M265.5 97.5h0M240.9 69h0M262.1 98.3h0M272.3 92.5h0M254.8 96.3h0M260.1 96.7h0M249.4 84.4h0M260.1 97.8h0M255.7 92.5h0M270.4 96.2h0M257.1 96.4h0M248.6 91h0M261.8 98.2h0M259.3 96.9h0M269.3 96.5h0M259 97.4h0M259.1 97.3h0M268.3 96.1h0M258.2 93.6h0M257 93.7h0M254.8 96.2h0M273 94.8h0M270.7 89.4h0M267.9 94.7h0M284.7 85h0M272.7 83.9h0M264.3 97.6h0M276.2 91.9h0M270.8 95.4h0M263.3 97.4h0M269.2 93.2h0M278 59h0M268.7 88.9h0M261.8 98.1h0M248.3 71.9h0M249.9 85.7h0M274.3 93.4h0M264.6 97.6h0M277.7 92.7h0M251.3 93.5h0M254.3 94.8h0M263.6 97.5h0M272.1 95.3h0M269.6 89h0M252.5 92.2h0M256.5 92h0M270.7 94.1h0M260 97.1h0M276.5 72.5h0M263.8 96.8h0M268.7 89.9h0M263.6 97.8h0M229.9 84.4h0M260.5 98h0M263.5 97.4h0M274.4 91.2h0M247.8 91.3h0M248 79.1h0M250 70.5h0M268.6 88.9h0M257.6 96.7h0M265.2 96h0M268 93h0M266.4 94.7h0M249.7 84.6h0M260.6 97.7h0M267.9 96.9h0M286.1 84.2h0M249.9 90.9h0M267.7 91.1h0M250.2 80.9h0M269 89.4h0M265.7 96.6h0M252 95.4h0M255 96.6h0M256.2 94.1h0M279.2 59.9h0M264.2 97h0M271.3 81.6h0M248 86.2h0M251.2 84h0M269.1 94.9h0M270.5 91.8h0M266.3 97.3h0M279 68.8h0M271 93.6h0M252.4 94.5h0M270.1 92.4h0M266.3 93.7h0M266.2 97.2h0M244.1 88.2h0M240.1 22.9h0M251.6 93.9h0M245.8 84.7h0M254.4 95.7h0M271.9 88h0M249.5 94.7h0M260.1 97.7h0M281.7 69h0M253.3 88.5h0M253.5 92h0M262.8 98.1h0M275.3 93.4h0M254.9 88.3h0M237.9 34.1h0M293.2 50.6h0M266.6 97.2h0M264.2 97.9h0M258.7 95.8h0M257.5 94.2h0M254.1 92.7h0M247.2 87.2h0M272.9 95.4h0M271.3 94.8h0M273.4 93.4h0M269.9 90.7h0M272.1 94h0M254.5 92.8h0M281.9 83.2h0M261.6 97.8h0M259.6 97.3h0M263.2 98.1h0M267.9 95.1h0M274.4 87.6h0M255.7 95.8h0M236.5 68.5h0M272 94.4h0M259.8 97.4h0M263.8 97.2h0M240.2 82.3h0M248.5 94.5h0M271.8 93.6h0M274.8 92.5h0M263.1 98.1h0M250 71.4h0M245.4 93h0M260.2 97.8h0M246.9 93h0M278.9 90.7h0M274.4 81h0M261.7 97.9h0M247.2 92.3h0M272.3 90.8h0M274 83.9h0M250.6 82.7h0M257.1 97.1h0M263 97.9h0M262.6 98.2h0M251.9 91.3h0M246.3 89.7h0M257.7 96h0M269.9 85.9h0M278.8 68h0M271.3 94.8h0M264.7 97.4h0M251 94.1h0M266.2 94.5h0M257.6 95.3h0M253 81.1h0M264.3 97.4h0M272.7 91.8h0M260 97h0M240.9 65.2h0M270.2 94.7h0M248.2 93.9h0M263.6 97h0M266.5 96.6h0M253.6 95.3h0M255.8 96.4h0M252.9 84h0M254.7 94.1h0M253.9 95.7h0M266.9 94.8h0M247 75.8h0M254.3 90.8h0M264.4 97.8h0M278.1 81.3h0M275.7 84.7h0M260.3 97.4h0M266.3 94.4h0M253.4 95.8h0M265.5 97.5h0M247.1 93.6h0M267.9 93.9h0M268.9 91.1h0M267.1 96.4h0M254.8 95.8h0M269.7 90.6h0M267.9 94.5h0M247.3 92.5h0M249.5 94.5h0M281.6 80.9h0M252.1 94.2h0M236.6 83.4h0M280.2 89.6h0M242.9 92.3h0M258.1 96.8h0M277.4 82h0M256.7 97h0M266.5 95.4h0M238.6 43.8h0M265.7 97.5h0M264.1 97.2h0M264.1 97.2h0M282.5 88.1h0M250.6 89.1h0M254.2 95.8h0M260 97.1h0M258.7 95.1h0M277.9 78.9h0M266.7 93.7h0M259.9 96.6h0M262.1 98.3h0M274 86.7h0M262.4 98.2h0M270.6 91.2h0M248.8 70h0M276 74.2h0M269.3 95.9h0M252.6 84.4h0M240.6 67.1h0M259.1 97.3h0M253.5 96.2h0M255 93.1h0M246.7 79.4h0M264.8 97.6h0M249.9 90.3h0M253.6 96.2h0M283.8 75h0M260.7 97.5h0M258.8 94.9h0M261.7 98.2h0M280.6 87.7h0M281.4 91.6h0M270.7 95.4h0M266.7 92.3h0M270.4 88.3h0M268.7 90.8h0M259.8 97.8h0M257.9 96.6h0M285.2 53.5h0M269.6 93.8h0M256.5 95.2h0M260 96.1h0M270.1 95.8h0M286.2 74.9h0M252.6 84.8h0M241.3 78.1h0M266 94.4h0M266.3 94.7h0M269.6 92.8h0M264.8 97.3h0M277.6 90.8h0M243.2 81.7h0M268 91.3h0M258.8 97.3h0M256.8 94.6h0M256.6 93.9h0M251.4 89.3h0M267.2 96.7h0M267.7 95.2h0M248.8 82h0M265.4 95.8h0M229.1 72.9h0M257 91.3h0M246.5 87.1h0M264.4 97.4h0M269.3 95.2h0M249.1 92.1h0M249 88.1h0M280.7 90.5h0M267.9 96.6h0M259.6 96.2h0M260.4 96.7h0M252.9 86.7h0M251.5 95.4h0M286.1 71.3h0M258.9 95.9h0M267.6 96.3h0M282.5 65.3h0M274.2 88.1h0M253.8 92.2h0M259.9 97.5h0M250 77.5h0M259.5 97.7h0M253.6 88.6h0M255.2 93.3h0M274.3 90.2h0M268.9 96h0M258.7 97.1h0M265 96.9h0M250.2 86.5h0M253.7 88.2h0M263.6 97.6h0M266.7 96.3h0M274.1 85.6h0M269.6 96.1h0M275.7 79.2h0M249.8 94.3h0M251.2 93.2h0M259.5 97.6h0M269.4 92h0M284.9 48.9h0M264 97.2h0M258.6 97.1h0M270.1 91.8h0M251.2 94.5h0M266.5 92.8h0M256.9 92.8h0M259.3 97.1h0M259.3 97.1h0M265.1 97.6h0M254.1 95.6h0M251.8 95.3h0M267.7 97h0M269.9 96.2h0M267.3 96.9h0M279 87h0M258.1 94.9h0M249.1 79.6h0M277.7 68.8h0M268.5 95.5h0M252.8 95.9h0M269.8 92.7h0M251.3 84.5h0M263.9 97h0M241.8 44.1h0M258 97.3h0M260.5 97.7h0M258.9 96.4h0M257 95.6h0M261.7 98.1h0M265.2 97.3h0M247.6 91.6h0M262.7 98.1h0M264.7 96.1h0M268.4 95.1h0M269.9 94.6h0M245.9 62.6h0M240.7 80.4h0M276.6 85.6h0M270.9 86.6h0M256 94.7h0M277.6 93.6h0M255.9 96.7h0M270.3 94.3h0M277.7 81.4h0M274.5 94.8h0M248.8 94h0M246.8 86.4h0M264.7 96.7h0M261.7 98.2h0M279 93.5h0M263.1 98h0M265.1 97h0M258.8 96.9h0M251.4 94.3h0M266.8 93.7h0M276.7 94.1h0M266.4 97.1h0M257.8 97.2h0M253.9 84.5h0M262.6 98.2h0M282.1 75.2h0M266.8 96.3h0M259.2 95.2h0M263 97.6h0M269.5 93.2h0M253 94h0M262.2 98.3h0M248.5 85.5h0M260.7 97.9h0M270.5 92.8h0M270.7 91.5h0M276.7 87.6h0M259.8 97h0M236.6 85h0M272.8 93.1h0M270.1 87.9h0M275.1 85.2h0M279.6 93.1h0M264.7 97.3h0M254.4 93.1h0M258.6 96.4h0M254.3 89.8h0M266.4 96.9h0M282.2 84.5h0M256 89.3h0M255.2 96.6h0M282.6 81.3h0M246.6 75.5h0M255 95.5h0M247.7 86.2h0M278.6 89h0M249.1 87.9h0M257.4 97.2h0M262.6 98.2h0M250.4 94.7h0M261.9 98.2h0M245.8 63.8h0M249.3 88h0M253.1 95.9h0M273.2 92.5h0M259.9 97.6h0M258.6 97.2h0M252.1 89.2h0M272.3 93.5h0M275.5 86.3h0M228.7 78.3h0M262.4 98.2h0M274.7 87.3h0M254.5 94.9h0M267.2 96.3h0M238.7 82.4h0M259.6 97h0M264.1 96.6h0M272.2 93.1h0M258.4 97h0M271.5 89.8h0M281.4 48h0M252.9 95.7h0M255.5 94h0M264 96.5h0M263.4 97.8h0M261.4 97.8h0M258.6 96.5h0M286.2 88.1h0M244.2 87.1h0M255.1 95h0M258.6 95h0M255.2 94.8h0M282.3 87.4h0M253.3 92.8h0M264.2 97.5h0M263.3 98.1h0M284 50.5h0M263.2 98h0M282.8 59.7h0M255.1 96.2h0M257.9 96.4h0M255.5 93.7h0M261.7 98.1h0M257.6 94.1h0M267.6 96.3h0M281.6 85h0M252.3 94.7h0M267.4 96.4h0M268 89.7h0M279.1 68.6h0M272.1 85.6h0M245.2 49.6h0M275.3 93.9h0M257.2 95.6h0M276 72.8h0" stroke="#F1EEDB" stroke-width="1.5" stroke-linecap="round" fill="none"/>
<path d="M299.9 12.6h0" stroke="#F1EEDB" stroke-width="1.6" stroke-linecap="round" fill="none"/>
<path d="M218.8 50.6h2.3m-1.1-1.1v2.3M212.8 58.1h2.3m-1.1-1.1v2.3M204.2 62.8h2.3m-1.1-1.1v2.3M200.5 70.1h2.3m-1.1-1.1v2.3M216.2 74.1h2.3m-1.1-1.1v2.3M217 74.6h2.3m-1.1-1.1v2.3M212.5 76h2.3m-1.1-1.1v2.3" stroke="#3E4468" stroke-width="0.95" fill="none" stroke-opacity="0.75"/>
<path d="M301.9 56.5h2.3m-1.1-1.1v2.3M303.8 63.5h2.3m-1.1-1.1v2.3M314.4 63.2h2.3m-1.1-1.1v2.3M320.4 65.1h2.3m-1.1-1.1v2.3M308.7 73.4h2.3m-1.1-1.1v2.3" stroke="#E6765B" stroke-width="0.95" fill="none" stroke-opacity="0.75"/>
<line x1="197" y1="85.8" x2="327" y2="85.8" stroke="#505050" stroke-width="1.25" stroke-dasharray="3.3 2.54"/>
<text x="225.1" y="48" font-size="3.4" fill="#3E4468" text-anchor="middle">hsa-miR-548ac-5p</text>
<text x="229.5" y="55.8" font-size="3.4" fill="#3E4468" text-anchor="middle">hsa-miR-374a-5p</text>
<text x="219.8" y="64.7" font-size="3.4" fill="#3E4468" text-anchor="middle">hsa-miR-424-5p</text>
<text x="216.7" y="71.4" font-size="3.4" fill="#3E4468" text-anchor="middle">hsa-miR-144-3p</text>
<text x="222.6" y="79.6" font-size="3.4" fill="#3E4468" text-anchor="middle">hsa-miR-374a-3p</text>
<text x="297.6" y="54.3" font-size="3.4" fill="#E6765B" text-anchor="middle">hsa-miR-499-5p</text>
<text x="283" y="64" font-size="3.4" fill="#E6765B" text-anchor="middle">hsa-miR-6787-3p</text>
<text x="313" y="61.2" font-size="3.4" fill="#E6765B" text-anchor="middle">hsa-miR-1179-3p</text>
<text x="313" y="70.5" font-size="3.4" fill="#E6765B" text-anchor="middle">hsa-miR-4482-3p</text>
<text x="304.3" y="78.5" font-size="3.4" fill="#E6765B" text-anchor="middle">hsa-miR-6868-3p</text>
<line x1="296.5" y1="62.6" x2="304" y2="63.4" stroke="#E6765B" stroke-width="0.5"/>
<line x1="194.7" y1="98.3" x2="196.5" y2="98.3" stroke="#333333" stroke-width="0.9"/>
<text x="193.9" y="100.1" font-size="5.0" fill="#555555" text-anchor="end">0.0</text>
<line x1="194.7" y1="74.3" x2="196.5" y2="74.3" stroke="#333333" stroke-width="0.9"/>
<text x="193.9" y="76.1" font-size="5.0" fill="#555555" text-anchor="end">2.5</text>
<line x1="194.7" y1="50.3" x2="196.5" y2="50.3" stroke="#333333" stroke-width="0.9"/>
<text x="193.9" y="52.1" font-size="5.0" fill="#555555" text-anchor="end">5.0</text>
<line x1="194.7" y1="26.3" x2="196.5" y2="26.3" stroke="#333333" stroke-width="0.9"/>
<text x="193.9" y="28.1" font-size="5.0" fill="#555555" text-anchor="end">7.5</text>
<line x1="224.6" y1="102.5" x2="224.6" y2="104.3" stroke="#333333" stroke-width="0.9"/>
<text x="224.6" y="109.1" font-size="5.0" fill="#555555" text-anchor="middle">-1</text>
<line x1="262.2" y1="102.5" x2="262.2" y2="104.3" stroke="#333333" stroke-width="0.9"/>
<text x="262.2" y="109.1" font-size="5.0" fill="#555555" text-anchor="middle">0</text>
<line x1="299.8" y1="102.5" x2="299.8" y2="104.3" stroke="#333333" stroke-width="0.9"/>
<text x="299.8" y="109.1" font-size="5.0" fill="#555555" text-anchor="middle">1</text>
<text x="262" y="4.4" font-size="5.85" fill="#000" text-anchor="middle">miRNA Vocano Plot (limma)</text>
<text x="262" y="116.5" font-size="6.3" fill="#000" text-anchor="middle">log2FC</text>
<text transform="translate(183.6 55.5) rotate(-90)" font-size="6.3" text-anchor="middle" fill="#000">-log10(P-value)</text>
<text x="177.2" y="10.5" font-size="12.5" fill="#000" text-anchor="start">B</text>
<rect x="196.5" y="8.5" width="131" height="94" fill="none" stroke="#9a9a9a" stroke-width="1"/>
<polygon points="420,76 424,74 428,76 430.5,80 432.5,86 433.4,94 434.6,85 436.5,70 438.5,52 442,49 447,51 447,88.5 460,88.5 456,93 445,97.5 422,97.5 412,93 406.8,89 420,88.5" fill="#F1EEDB"/>
<path d="M423.1 73.4h0M424.8 75.3h0M420.2 82.8h0M423.4 63.5h0M430.9 71.2h0M428.3 60.8h0M428.3 83.8h0M426.8 79.7h0M429.9 74.9h0M423.9 57h0M431.3 71.1h0M429.3 84.1h0M429.3 85.5h0M425.1 81.6h0M425.8 85.9h0M421.8 62.9h0M428.1 65.6h0M426.6 68.3h0M424.6 74.7h0M427.6 84.9h0M428.9 85.7h0M431.1 87.7h0M428.7 61.2h0M431.2 86.9h0M431.8 74.2h0M429.3 62.8h0M430.8 74.4h0M423.7 58h0M431.1 87.7h0M421.2 81.6h0M425.3 60.8h0M423.8 80.6h0M429.3 66.6h0M431.5 87.4h0M426.6 88h0M424 58.5h0M422.6 69.1h0M427.9 61h0M420.6 83.8h0M424.1 86.7h0M426 72.6h0M428.4 75.1h0M427.3 75.8h0M425.6 79h0M423.1 65.6h0M425.4 74.6h0M420.3 75.7h0M428.2 70.9h0M428.8 67.3h0M429.2 79.6h0M420.3 57.9h0M428.8 86.8h0M423.3 70.6h0M427.7 66.2h0M424.7 66h0M424.8 75.1h0M423.9 68.1h0M427.4 79.5h0M424 63.1h0M422.4 69.9h0M424.2 66.7h0M430.8 70h0M424.4 76.8h0M422.9 59.9h0M426.9 62.1h0M430.5 82.8h0M422.4 64.9h0M430.5 76.5h0M430.5 67h0M421.7 65.3h0M424.5 69.3h0M425.5 69.1h0M420.1 86.2h0M431.4 87.6h0M425.6 86.4h0M429.7 82.8h0M428.6 72.6h0M423.8 66.9h0M423 58.2h0M427.7 65.2h0M431.7 78.2h0M432 84.7h0M431.7 74.5h0M420.2 79.8h0M422.2 65.6h0M428.6 72.8h0M425.4 86h0M428 66.9h0M423.3 83.6h0M426.2 81h0M424.6 62.3h0M427 82.1h0M422.2 81.3h0M432 81.8h0M428.2 83.6h0M420.6 64.7h0M423.5 72.9h0M425.5 71.1h0M420.7 60.1h0M421.6 58.2h0M432.7 83.3h0M421.1 72.1h0M424.1 66.1h0M424.6 76.7h0M427.6 67.5h0M422.5 66.5h0M421.6 73.8h0M429.3 68.2h0M421 61.7h0M424.9 75.3h0M430.2 68.2h0M430.4 75.9h0M425.6 67.9h0M426.4 78.5h0M425.5 78.2h0M426 63.8h0M427 78.2h0M420.9 69.6h0M425.5 84.1h0M431.7 81.3h0M423.4 70.9h0M421.6 82h0M428.6 84.4h0M430.3 77.4h0M429.5 74h0M421.3 74.8h0M420.1 60.6h0M421.2 59.2h0M420.3 82.9h0M421.6 83h0M428.8 82.8h0M430 72.4h0M429.7 85.9h0M420.8 66.4h0M427.3 82.5h0M423.1 61.8h0M423.2 75.7h0M429.8 68.6h0M424.8 68.7h0M424.6 69.4h0M421.1 72h0M429 80.2h0M428.8 72.5h0M426.3 76.6h0M421.2 79.9h0M425.8 79h0M422.4 64.6h0M422.6 74.7h0M424.1 63.4h0M429 86.5h0M423.8 78.6h0M425.4 83.3h0M427.6 64.5h0M426.2 68.2h0M422.2 67.5h0M424.2 80.8h0M421.9 87.7h0M426.2 75.2h0M426.1 82.7h0M430.7 73.8h0M426.3 79.1h0M429.5 86.7h0M426.1 63.3h0M423.1 79h0M428.8 86.7h0M422.5 64.3h0M422.4 78.6h0M431.2 84.8h0M423.3 83.7h0M424.1 69.5h0" stroke="#F1EEDB" stroke-width="1.6" stroke-linecap="round" fill="none"/>
<path d="M445.6 53.2h0M411.7 89.4h0M437.7 81.8h0M421.4 81.3h0M412.8 92h0M422.5 81.8h0M441.6 88.1h0M420.9 85.6h0M445 81.9h0M441.1 79.6h0M416.3 92.2h0M441.7 55h0M424.4 83.9h0M438.6 75.9h0M441.2 71.2h0M446.9 75.3h0M446.1 66.4h0M435.6 86.4h0M425.6 90.1h0M429 85.1h0M438.3 56.1h0M449.5 92.2h0M436.2 77.3h0M440.5 96.4h0M443.3 63.5h0M438.8 84.3h0M442 72.9h0M441.2 70.5h0M436.9 95.5h0M435.5 94.1h0M424 91.2h0M443.8 55.5h0M446.2 65.7h0M449.7 94.2h0M444 75.1h0M429.3 80.5h0M416.4 92.6h0M445.1 66.8h0M438.5 59.9h0M444.2 51.5h0M439.9 65.8h0M445.5 62.3h0M443.1 96h0M449.6 93.5h0M423 78.4h0M422.4 90.2h0M424.6 82h0M446.2 84.6h0M445.1 78.4h0M444.6 67.8h0M444.6 50.1h0M431.6 85.8h0M442.8 53.7h0M419.4 89.9h0M441 91.6h0M419 95.9h0M429.1 86.9h0M439 87.2h0M417.4 92.3h0M418.7 89.2h0M439.5 80.1h0M447.3 91.3h0M425.2 78.3h0M445.5 52.7h0M445.9 69.5h0M441.3 78.4h0M439.4 94.2h0M422.3 94.3h0M445.2 63.3h0M425.1 85h0M446.5 62.9h0M444.1 96.4h0M425.9 90.4h0M440.2 81.7h0M441 92.5h0M442.2 94h0M443.2 97.1h0M423.6 74.3h0M428.7 90.3h0M450.8 94.2h0M437.4 75.7h0M444.5 93.2h0M441 58.5h0M427.2 89.2h0M420.1 96.5h0M434.8 85h0M421.8 95.6h0M419.4 95.4h0M414.5 92.9h0M442.7 80.4h0M416.9 88.9h0M427.5 96.9h0M425.5 93.4h0M425.7 95.1h0M425.2 85.3h0M438.4 94.2h0M458.1 89.7h0M443.3 74.5h0M425.9 78.2h0M452.7 89.5h0M422.1 96.4h0M424.9 80.3h0M421.8 95.9h0M435.1 91.4h0M410 90.4h0M427.2 96.6h0M436 91.9h0M429.7 91.1h0M444.6 66.5h0M441.5 91.4h0M439.5 55.8h0M435.5 93.7h0M435.2 84.8h0M450.9 89.6h0M443.1 54.9h0M432.1 92.2h0M440.2 81h0M454.4 89.1h0M437.8 91.9h0M431.7 90.6h0M422.7 92.6h0M439.8 66.2h0M447.7 93.1h0M417.1 91.3h0M418.3 88.9h0M427.2 90.3h0M420.8 82.7h0M444 59.4h0M442.5 78.6h0M438.6 79.5h0M448.7 90.7h0M421.1 92.6h0M443.3 59.8h0M425.2 97.3h0M444.9 65.4h0M445.8 77.3h0M435.5 90.9h0M437.8 89h0M422.9 92.3h0M446.6 63.1h0M445.9 66h0M420.1 82.8h0M423.8 84.2h0M435.4 93.8h0M437.2 73.8h0M445.8 92.8h0M446.7 59.9h0M431.1 96.3h0M424.2 86h0M426.6 91.2h0M446.4 73.5h0M443.4 69.7h0M435.7 77.4h0M433.7 95.2h0M436.4 85.2h0M446.1 72.5h0M446.1 56.2h0M435.7 81.4h0M438.9 56.8h0M431 97.2h0" stroke="#F1EEDB" stroke-width="1.5" stroke-linecap="round" fill="none"/>
<path d="M440.5 40h0M437 36h0M442 31h0M438 26h0M441 14.5h0M433 21h0M436 28h0" stroke="#F1EEDB" stroke-width="1.5" stroke-linecap="round" fill="none"/>
<path d="M442.7 38h0M439.1 46.3h0M441.7 39.2h0M444.8 40.4h0M444.9 41.5h0M443.3 39.2h0M438.5 41.6h0M444.8 39.6h0M438.5 40.9h0M437.1 39h0M442.3 43.4h0M442.6 38.5h0M439.7 36.7h0M442.3 38h0M444.4 44.4h0M443.3 47h0M441.7 41.1h0M439.4 34.2h0M444.7 42.5h0M437.1 50.6h0M442.4 44.8h0M440.8 35.4h0M447 36.2h0M440 52h0M437.3 42.5h0M441.3 37.7h0M446.2 40.9h0M436.1 42h0M436.1 46.5h0M445.6 50.2h0M436.5 45.8h0M439.4 42h0M439.3 38.8h0M437.5 44.9h0M437 51.3h0M436.5 51.3h0M444.2 43.1h0M444.5 42.7h0M442.9 34.6h0M443.4 42.7h0M436.8 45.8h0M446.2 41h0M443.8 43.7h0M440.3 41.8h0M439.4 47h0M438.8 42h0M438.8 39.8h0M443.2 47.1h0M446.5 42.1h0M438.2 39.4h0" stroke="#F1EEDB" stroke-width="1.6" stroke-linecap="round" fill="none"/>
<path d="M390.1 69.5h2.3m-1.1-1.1v2.3M406.2 78.8h2.3m-1.1-1.1v2.3M395.7 68h2.3m-1.1-1.1v2.3M391.3 68h2.3m-1.1-1.1v2.3M415.3 77.6h2.3m-1.1-1.1v2.3M398.7 74.3h2.3m-1.1-1.1v2.3M395 69.2h2.3m-1.1-1.1v2.3M394.3 78.6h2.3m-1.1-1.1v2.3M407.9 81.7h2.3m-1.1-1.1v2.3M402.9 73h2.3m-1.1-1.1v2.3M403.7 74.3h2.3m-1.1-1.1v2.3M394.5 73.4h2.3m-1.1-1.1v2.3M408.1 81.4h2.3m-1.1-1.1v2.3M415.5 83.5h2.3m-1.1-1.1v2.3M410.1 88h2.3m-1.1-1.1v2.3M406.5 87.2h2.3m-1.1-1.1v2.3M392.8 68.9h2.3m-1.1-1.1v2.3M398 74.6h2.3m-1.1-1.1v2.3M398 73.1h2.3m-1.1-1.1v2.3M395.8 69h2.3m-1.1-1.1v2.3M397.6 68.9h2.3m-1.1-1.1v2.3M404.9 77.5h2.3m-1.1-1.1v2.3M400.5 76.2h2.3m-1.1-1.1v2.3M416.8 82.3h2.3m-1.1-1.1v2.3M396 68.6h2.3m-1.1-1.1v2.3M416 86.4h2.3m-1.1-1.1v2.3M397.8 80.1h2.3m-1.1-1.1v2.3M400.5 72.1h2.3m-1.1-1.1v2.3M408.3 78.3h2.3m-1.1-1.1v2.3M396 66.6h2.3m-1.1-1.1v2.3M393.5 71.7h2.3m-1.1-1.1v2.3M391.8 71.4h2.3m-1.1-1.1v2.3M404.9 73.7h2.3m-1.1-1.1v2.3M398.5 70.8h2.3m-1.1-1.1v2.3M403.2 83h2.3m-1.1-1.1v2.3M401.7 82.7h2.3m-1.1-1.1v2.3M403 73.1h2.3m-1.1-1.1v2.3M404.1 84.7h2.3m-1.1-1.1v2.3M399.8 72.5h2.3m-1.1-1.1v2.3M405 75.5h2.3m-1.1-1.1v2.3M403.5 74.8h2.3m-1.1-1.1v2.3M402.8 81.4h2.3m-1.1-1.1v2.3M404.8 84.5h2.3m-1.1-1.1v2.3M414.1 85.4h2.3m-1.1-1.1v2.3M411 83.4h2.3m-1.1-1.1v2.3M418.8 80.4h2.3m-1.1-1.1v2.3M415 77.2h2.3m-1.1-1.1v2.3M391.1 65.6h2.3m-1.1-1.1v2.3M409.8 82.1h2.3m-1.1-1.1v2.3M407.3 82.7h2.3m-1.1-1.1v2.3M394.2 76.9h2.3m-1.1-1.1v2.3M404.3 80.2h2.3m-1.1-1.1v2.3M412.7 85h2.3m-1.1-1.1v2.3M396.9 69.4h2.3m-1.1-1.1v2.3M401.7 73.2h2.3m-1.1-1.1v2.3M404.2 81h2.3m-1.1-1.1v2.3M398.1 71.9h2.3m-1.1-1.1v2.3M411.7 82.9h2.3m-1.1-1.1v2.3M416.7 81.7h2.3m-1.1-1.1v2.3M406.5 73.6h2.3m-1.1-1.1v2.3M395 66h2.3m-1.1-1.1v2.3M399.1 78.5h2.3m-1.1-1.1v2.3M408.2 75h2.3m-1.1-1.1v2.3M408.5 78.5h2.3m-1.1-1.1v2.3M407.2 75.9h2.3m-1.1-1.1v2.3M404.3 75.8h2.3m-1.1-1.1v2.3M403.1 74.6h2.3m-1.1-1.1v2.3M396.4 66.8h2.3m-1.1-1.1v2.3M405.5 77.9h2.3m-1.1-1.1v2.3M402.2 77.6h2.3m-1.1-1.1v2.3M397.2 80h2.3m-1.1-1.1v2.3M413.1 80.3h2.3m-1.1-1.1v2.3M397.3 79.1h2.3m-1.1-1.1v2.3M406.2 75.9h2.3m-1.1-1.1v2.3M414.6 76.5h2.3m-1.1-1.1v2.3M405.2 72.6h2.3m-1.1-1.1v2.3M404.7 72.2h2.3m-1.1-1.1v2.3M393.2 65.8h2.3m-1.1-1.1v2.3M414.3 78h2.3m-1.1-1.1v2.3M397.1 69.7h2.3m-1.1-1.1v2.3M414.6 84h2.3m-1.1-1.1v2.3M401.4 81h2.3m-1.1-1.1v2.3M414 86.8h2.3m-1.1-1.1v2.3M409.7 78.9h2.3m-1.1-1.1v2.3M411.5 80.7h2.3m-1.1-1.1v2.3M396.4 72.7h2.3m-1.1-1.1v2.3M401.4 80.3h2.3m-1.1-1.1v2.3M415.2 82h2.3m-1.1-1.1v2.3M416.7 80.9h2.3m-1.1-1.1v2.3M399.2 76.2h2.3m-1.1-1.1v2.3M411.2 83.9h2.3m-1.1-1.1v2.3M399.6 72.4h2.3m-1.1-1.1v2.3M408.1 75.6h2.3m-1.1-1.1v2.3M394.3 77.8h2.3m-1.1-1.1v2.3M415.3 78.2h2.3m-1.1-1.1v2.3M414.9 85.6h2.3m-1.1-1.1v2.3M413.8 88.3h2.3m-1.1-1.1v2.3M405.9 84.1h2.3m-1.1-1.1v2.3M399.2 71.1h2.3m-1.1-1.1v2.3M415.9 80.1h2.3m-1.1-1.1v2.3M399.9 77.5h2.3m-1.1-1.1v2.3M401.6 79.6h2.3m-1.1-1.1v2.3M418.2 85.6h2.3m-1.1-1.1v2.3M413.4 79.8h2.3m-1.1-1.1v2.3M404.3 72.8h2.3m-1.1-1.1v2.3M406.3 74.7h2.3m-1.1-1.1v2.3M408.1 82.3h2.3m-1.1-1.1v2.3M405.8 87.1h2.3m-1.1-1.1v2.3M408.4 78h2.3m-1.1-1.1v2.3M412.5 79.1h2.3m-1.1-1.1v2.3M416.8 83.6h2.3m-1.1-1.1v2.3M402.8 82.4h2.3m-1.1-1.1v2.3M400.1 76.6h2.3m-1.1-1.1v2.3M411.7 82.5h2.3m-1.1-1.1v2.3M390.5 69.8h2.3m-1.1-1.1v2.3M404.9 85h2.3m-1.1-1.1v2.3M411.5 84.1h2.3m-1.1-1.1v2.3M406 79.2h2.3m-1.1-1.1v2.3M398.2 73.7h2.3m-1.1-1.1v2.3M418.6 87.8h2.3m-1.1-1.1v2.3M394.5 67.7h2.3m-1.1-1.1v2.3M415.8 84h2.3m-1.1-1.1v2.3M395.6 79.6h2.3m-1.1-1.1v2.3M407.3 84.1h2.3m-1.1-1.1v2.3M412.2 85.5h2.3m-1.1-1.1v2.3M414.5 84.4h2.3m-1.1-1.1v2.3M405.3 85.4h2.3m-1.1-1.1v2.3M409.6 77.4h2.3m-1.1-1.1v2.3M391.1 69.7h2.3m-1.1-1.1v2.3M417.9 77.9h2.3m-1.1-1.1v2.3M410.9 85.8h2.3m-1.1-1.1v2.3M415.5 83.5h2.3m-1.1-1.1v2.3M400.8 78.6h2.3m-1.1-1.1v2.3M391.8 69.4h2.3m-1.1-1.1v2.3M401.1 82.1h2.3m-1.1-1.1v2.3M413.3 87.4h2.3m-1.1-1.1v2.3M402.7 81h2.3m-1.1-1.1v2.3M390.4 70h2.3m-1.1-1.1v2.3M389.2 70.5h2.3m-1.1-1.1v2.3M410 88.2h2.3m-1.1-1.1v2.3M407.6 84.9h2.3m-1.1-1.1v2.3M413.4 81.4h2.3m-1.1-1.1v2.3M400.1 69.8h2.3m-1.1-1.1v2.3M393.1 77.2h2.3m-1.1-1.1v2.3M398.1 78h2.3m-1.1-1.1v2.3M405 79.2h2.3m-1.1-1.1v2.3M393.1 69.9h2.3m-1.1-1.1v2.3M408.8 87.6h2.3m-1.1-1.1v2.3M407.1 87.1h2.3m-1.1-1.1v2.3M404.4 82.3h2.3m-1.1-1.1v2.3M404.1 78h2.3m-1.1-1.1v2.3M402.5 80h2.3m-1.1-1.1v2.3M416.1 83.4h2.3m-1.1-1.1v2.3M409.8 79.2h2.3m-1.1-1.1v2.3M399.7 81.1h2.3m-1.1-1.1v2.3M406.4 73.4h2.3m-1.1-1.1v2.3M401.7 77.6h2.3m-1.1-1.1v2.3M410.1 78.6h2.3m-1.1-1.1v2.3M411 85.5h2.3m-1.1-1.1v2.3M410 85.2h2.3m-1.1-1.1v2.3M393.3 66.2h2.3m-1.1-1.1v2.3M399.9 75.9h2.3m-1.1-1.1v2.3M410.8 78.1h2.3m-1.1-1.1v2.3M394.1 64.6h2.3m-1.1-1.1v2.3M402.9 76.5h2.3m-1.1-1.1v2.3M416.7 83.1h2.3m-1.1-1.1v2.3M391.6 67.9h2.3m-1.1-1.1v2.3M399.7 80.4h2.3m-1.1-1.1v2.3M399.1 79.8h2.3m-1.1-1.1v2.3M417.3 83.3h2.3m-1.1-1.1v2.3M407.5 79.1h2.3m-1.1-1.1v2.3M397.8 79.5h2.3m-1.1-1.1v2.3M408.1 78.2h2.3m-1.1-1.1v2.3M403.3 82.3h2.3m-1.1-1.1v2.3M416.5 85.9h2.3m-1.1-1.1v2.3M392.5 73.6h2.3m-1.1-1.1v2.3M391.3 65.3h2.3m-1.1-1.1v2.3M395.9 71.6h2.3m-1.1-1.1v2.3M402 77.3h2.3m-1.1-1.1v2.3M398.7 75.4h2.3m-1.1-1.1v2.3M398.8 67.9h2.3m-1.1-1.1v2.3M407.4 76.5h2.3m-1.1-1.1v2.3M403.7 73.4h2.3m-1.1-1.1v2.3M415.7 77.6h2.3m-1.1-1.1v2.3M394.5 67.8h2.3m-1.1-1.1v2.3M407.4 84.3h2.3m-1.1-1.1v2.3M412.5 82.4h2.3m-1.1-1.1v2.3M412.4 86.8h2.3m-1.1-1.1v2.3M414.5 85h2.3m-1.1-1.1v2.3M409.3 78h2.3m-1.1-1.1v2.3M403.1 77.7h2.3m-1.1-1.1v2.3M397.7 68.4h2.3m-1.1-1.1v2.3M403.9 80.4h2.3m-1.1-1.1v2.3M393.8 74.6h2.3m-1.1-1.1v2.3M392.3 67.2h2.3m-1.1-1.1v2.3M404.3 72.6h2.3m-1.1-1.1v2.3M397.8 71.5h2.3m-1.1-1.1v2.3M392.5 63.9h2.3m-1.1-1.1v2.3M401.7 85h2.3m-1.1-1.1v2.3M397 70.6h2.3m-1.1-1.1v2.3M396.7 79.1h2.3m-1.1-1.1v2.3M395.7 72.9h2.3m-1.1-1.1v2.3M395.1 65.5h2.3m-1.1-1.1v2.3M392.2 68.9h2.3m-1.1-1.1v2.3M417.8 82.6h2.3m-1.1-1.1v2.3M395.7 71.7h2.3m-1.1-1.1v2.3M398.9 68.8h2.3m-1.1-1.1v2.3M406.8 74.6h2.3m-1.1-1.1v2.3M402.7 78.8h2.3m-1.1-1.1v2.3M401.8 72.9h2.3m-1.1-1.1v2.3M390.9 70.5h2.3m-1.1-1.1v2.3M416.1 87h2.3m-1.1-1.1v2.3M395.7 68.6h2.3m-1.1-1.1v2.3M399.7 79.5h2.3m-1.1-1.1v2.3M401.3 80h2.3m-1.1-1.1v2.3M402.2 79.4h2.3m-1.1-1.1v2.3M399 68.3h2.3m-1.1-1.1v2.3M397 76.5h2.3m-1.1-1.1v2.3M400.5 72.3h2.3m-1.1-1.1v2.3M398.2 68.9h2.3m-1.1-1.1v2.3M403.7 78.5h2.3m-1.1-1.1v2.3M416.1 83.2h2.3m-1.1-1.1v2.3M407.8 88h2.3m-1.1-1.1v2.3M405.3 80.4h2.3m-1.1-1.1v2.3M408.3 85h2.3m-1.1-1.1v2.3M394.7 77.1h2.3m-1.1-1.1v2.3M414.6 84.7h2.3m-1.1-1.1v2.3M409.3 76.9h2.3m-1.1-1.1v2.3M415.9 79.1h2.3m-1.1-1.1v2.3M396.8 68.3h2.3m-1.1-1.1v2.3M406.6 75.1h2.3m-1.1-1.1v2.3M401.8 82h2.3m-1.1-1.1v2.3M406.8 74.6h2.3m-1.1-1.1v2.3M397.3 75.1h2.3m-1.1-1.1v2.3M389.3 69.9h2.3m-1.1-1.1v2.3M399.8 76.7h2.3m-1.1-1.1v2.3M406.3 81.4h2.3m-1.1-1.1v2.3M397.8 79.1h2.3m-1.1-1.1v2.3M399.8 78.6h2.3m-1.1-1.1v2.3M411.4 87.1h2.3m-1.1-1.1v2.3M395.6 68.3h2.3m-1.1-1.1v2.3M416.7 87.6h2.3m-1.1-1.1v2.3M412.4 76.2h2.3m-1.1-1.1v2.3M408.3 81h2.3m-1.1-1.1v2.3M391.1 70h2.3m-1.1-1.1v2.3M418.7 82.1h2.3m-1.1-1.1v2.3M415.7 82.2h2.3m-1.1-1.1v2.3M392.4 73.1h2.3m-1.1-1.1v2.3M417.3 84.8h2.3m-1.1-1.1v2.3M418.6 84h2.3m-1.1-1.1v2.3M410 82.6h2.3m-1.1-1.1v2.3M389.4 71.3h2.3m-1.1-1.1v2.3M388.8 70.3h2.3m-1.1-1.1v2.3M395.9 65.9h2.3m-1.1-1.1v2.3M399.3 76.4h2.3m-1.1-1.1v2.3M406.4 87.1h2.3m-1.1-1.1v2.3M390.5 69.9h2.3m-1.1-1.1v2.3M407.6 79.9h2.3m-1.1-1.1v2.3M407.5 73.6h2.3m-1.1-1.1v2.3M396.8 69.7h2.3m-1.1-1.1v2.3M393.1 72.4h2.3m-1.1-1.1v2.3M405.7 72.8h2.3m-1.1-1.1v2.3M406.4 84.6h2.3m-1.1-1.1v2.3" stroke="#3E4468" stroke-width="0.95" fill="none" stroke-opacity="0.75"/>
<path d="M406.3 82.8h2.3m-1.1-1.1v2.3M416.8 74.4h2.3m-1.1-1.1v2.3M410.4 84.9h2.3m-1.1-1.1v2.3M409.2 73.7h2.3m-1.1-1.1v2.3M404.8 89h2.3m-1.1-1.1v2.3M391 76.9h2.3m-1.1-1.1v2.3M413.6 78.2h2.3m-1.1-1.1v2.3M396.1 65.4h2.3m-1.1-1.1v2.3M409.5 86.8h2.3m-1.1-1.1v2.3M409.9 83.2h2.3m-1.1-1.1v2.3M397 81.4h2.3m-1.1-1.1v2.3M397.4 64.2h2.3m-1.1-1.1v2.3M386 67.9h2.3m-1.1-1.1v2.3M390.5 76.1h2.3m-1.1-1.1v2.3M403.1 68.8h2.3m-1.1-1.1v2.3M413.8 71.6h2.3m-1.1-1.1v2.3M401.8 78.7h2.3m-1.1-1.1v2.3M398 63.8h2.3m-1.1-1.1v2.3M417.2 81.3h2.3m-1.1-1.1v2.3M402.9 73.4h2.3m-1.1-1.1v2.3M405.5 67.1h2.3m-1.1-1.1v2.3M418.8 81.9h2.3m-1.1-1.1v2.3M393.4 64.6h2.3m-1.1-1.1v2.3M414.9 88.4h2.3m-1.1-1.1v2.3M412 76.1h2.3m-1.1-1.1v2.3M402.9 82.3h2.3m-1.1-1.1v2.3M412.6 83.9h2.3m-1.1-1.1v2.3M417.2 75.8h2.3m-1.1-1.1v2.3M406.6 71.2h2.3m-1.1-1.1v2.3M416 77.9h2.3m-1.1-1.1v2.3M402.2 80h2.3m-1.1-1.1v2.3M415.9 86h2.3m-1.1-1.1v2.3M393.1 73.6h2.3m-1.1-1.1v2.3M386.3 63.6h2.3m-1.1-1.1v2.3M408.6 83.6h2.3m-1.1-1.1v2.3M407.9 82.7h2.3m-1.1-1.1v2.3M408.4 84.8h2.3m-1.1-1.1v2.3M412.5 77h2.3m-1.1-1.1v2.3M414.2 74.9h2.3m-1.1-1.1v2.3M387.6 66.8h2.3m-1.1-1.1v2.3M400.4 85.1h2.3m-1.1-1.1v2.3M407.8 82.5h2.3m-1.1-1.1v2.3M400.3 73.7h2.3m-1.1-1.1v2.3M386.5 64.2h2.3m-1.1-1.1v2.3M389.4 74.7h2.3m-1.1-1.1v2.3M412.9 71.7h2.3m-1.1-1.1v2.3M393.5 74h2.3m-1.1-1.1v2.3M406.2 88.8h2.3m-1.1-1.1v2.3M388.3 66.3h2.3m-1.1-1.1v2.3M408 79.5h2.3m-1.1-1.1v2.3M392.3 74.1h2.3m-1.1-1.1v2.3M402.5 77.5h2.3m-1.1-1.1v2.3M389.9 73.7h2.3m-1.1-1.1v2.3M404.7 73.1h2.3m-1.1-1.1v2.3M401.6 72.6h2.3m-1.1-1.1v2.3M390.8 72.1h2.3m-1.1-1.1v2.3M399.7 69.6h2.3m-1.1-1.1v2.3M410.9 88.6h2.3m-1.1-1.1v2.3M386.8 60.8h2.3m-1.1-1.1v2.3M401.5 71.4h2.3m-1.1-1.1v2.3M418.6 79.3h2.3m-1.1-1.1v2.3M415.8 75.6h2.3m-1.1-1.1v2.3M394.7 63.6h2.3m-1.1-1.1v2.3M394.5 62.6h2.3m-1.1-1.1v2.3M413.5 83.3h2.3m-1.1-1.1v2.3M396.2 72h2.3m-1.1-1.1v2.3M402.9 82.4h2.3m-1.1-1.1v2.3M394.5 73.9h2.3m-1.1-1.1v2.3M403.1 84.1h2.3m-1.1-1.1v2.3M390 77.4h2.3m-1.1-1.1v2.3M388.5 66.4h2.3m-1.1-1.1v2.3M399.7 76.2h2.3m-1.1-1.1v2.3M397.4 81.4h2.3m-1.1-1.1v2.3M410.5 81.4h2.3m-1.1-1.1v2.3M404.7 76.3h2.3m-1.1-1.1v2.3M403.7 80.9h2.3m-1.1-1.1v2.3M406.6 80h2.3m-1.1-1.1v2.3M400 85.8h2.3m-1.1-1.1v2.3M394.9 75.1h2.3m-1.1-1.1v2.3M403.8 76.7h2.3m-1.1-1.1v2.3M390.3 78.7h2.3m-1.1-1.1v2.3M387.9 74.5h2.3m-1.1-1.1v2.3" stroke="#3E4468" stroke-width="0.95" fill="none" stroke-opacity="0.75"/>
<path d="M407.9 68.1h2.3m-1.1-1.1v2.3M408.3 65.1h2.3m-1.1-1.1v2.3M403.4 61.4h2.3m-1.1-1.1v2.3M405 60.7h2.3m-1.1-1.1v2.3M404.6 61.6h2.3m-1.1-1.1v2.3M409.5 62.8h2.3m-1.1-1.1v2.3M417.5 63h2.3m-1.1-1.1v2.3M412.5 68.7h2.3m-1.1-1.1v2.3M413.3 63.4h2.3m-1.1-1.1v2.3M412 62.6h2.3m-1.1-1.1v2.3M412.2 58.1h2.3m-1.1-1.1v2.3M414.5 71.4h2.3m-1.1-1.1v2.3M418.3 58.8h2.3m-1.1-1.1v2.3M412.7 69.5h2.3m-1.1-1.1v2.3M402.6 60.5h2.3m-1.1-1.1v2.3M415.8 66.4h2.3m-1.1-1.1v2.3M416.8 67.4h2.3m-1.1-1.1v2.3M405.5 59.8h2.3m-1.1-1.1v2.3M407.6 63h2.3m-1.1-1.1v2.3M411.6 61.1h2.3m-1.1-1.1v2.3M413.1 67.6h2.3m-1.1-1.1v2.3" stroke="#3E4468" stroke-width="0.95" fill="none" stroke-opacity="0.75"/>
<path d="M375.9 73h2.3m-1.1-1.1v2.3M384.7 73.9h2.3m-1.1-1.1v2.3M383.4 81.1h2.3m-1.1-1.1v2.3M380 55.2h2.3m-1.1-1.1v2.3M388.5 48.9h2.3m-1.1-1.1v2.3M384.4 64.4h2.3m-1.1-1.1v2.3M408.2 63.7h2.3m-1.1-1.1v2.3M403.5 61.6h2.3m-1.1-1.1v2.3M415.8 61.6h2.3m-1.1-1.1v2.3M418.2 60.7h2.3m-1.1-1.1v2.3M419.2 60.3h2.3m-1.1-1.1v2.3M387.8 52.7h2.3m-1.1-1.1v2.3" stroke="#3E4468" stroke-width="0.95" fill="none" stroke-opacity="0.75"/>
<path d="M452.6 87h2.3m-1.1-1.1v2.3M453.8 80.4h2.3m-1.1-1.1v2.3M453.7 83.6h2.3m-1.1-1.1v2.3M449.4 76.4h2.3m-1.1-1.1v2.3M449.8 84.4h2.3m-1.1-1.1v2.3M452.1 80.5h2.3m-1.1-1.1v2.3M453.9 86.5h2.3m-1.1-1.1v2.3M446.4 88h2.3m-1.1-1.1v2.3M447.7 88h2.3m-1.1-1.1v2.3M448.9 76.1h2.3m-1.1-1.1v2.3M455.4 85h2.3m-1.1-1.1v2.3M456 85.7h2.3m-1.1-1.1v2.3M449.6 85.2h2.3m-1.1-1.1v2.3M449.6 78.8h2.3m-1.1-1.1v2.3M450.3 84.2h2.3m-1.1-1.1v2.3M449.2 82.1h2.3m-1.1-1.1v2.3M451.8 85.5h2.3m-1.1-1.1v2.3M450.8 80.1h2.3m-1.1-1.1v2.3M451.7 80.7h2.3m-1.1-1.1v2.3M450.2 86.3h2.3m-1.1-1.1v2.3M452.1 83.2h2.3m-1.1-1.1v2.3M455.7 85.9h2.3m-1.1-1.1v2.3M448.9 77.2h2.3m-1.1-1.1v2.3M451.5 77.3h2.3m-1.1-1.1v2.3M450 84.5h2.3m-1.1-1.1v2.3M448.5 76.2h2.3m-1.1-1.1v2.3M455.3 82.9h2.3m-1.1-1.1v2.3M455.2 81.7h2.3m-1.1-1.1v2.3M451 77.7h2.3m-1.1-1.1v2.3M446.5 87.8h2.3m-1.1-1.1v2.3M448.1 75.2h2.3m-1.1-1.1v2.3M452 87.3h2.3m-1.1-1.1v2.3M448.8 83.5h2.3m-1.1-1.1v2.3M448.5 81.4h2.3m-1.1-1.1v2.3M446.5 85.7h2.3m-1.1-1.1v2.3M451.9 82.6h2.3m-1.1-1.1v2.3M446.8 80.2h2.3m-1.1-1.1v2.3M454.2 80.6h2.3m-1.1-1.1v2.3M450.5 76.6h2.3m-1.1-1.1v2.3M448.4 78.4h2.3m-1.1-1.1v2.3M447.4 78.1h2.3m-1.1-1.1v2.3M451.7 87.8h2.3m-1.1-1.1v2.3M453.4 87.8h2.3m-1.1-1.1v2.3M447 83.6h2.3m-1.1-1.1v2.3M448.4 87.6h2.3m-1.1-1.1v2.3M451.1 84.5h2.3m-1.1-1.1v2.3M446.9 85.8h2.3m-1.1-1.1v2.3M454.4 80.3h2.3m-1.1-1.1v2.3M446.1 74.4h2.3m-1.1-1.1v2.3M454.3 84.1h2.3m-1.1-1.1v2.3M449.8 83.8h2.3m-1.1-1.1v2.3M453.7 88.2h2.3m-1.1-1.1v2.3M455 86.8h2.3m-1.1-1.1v2.3M450.5 82.8h2.3m-1.1-1.1v2.3M447 85.5h2.3m-1.1-1.1v2.3M452.8 79.9h2.3m-1.1-1.1v2.3M446.4 76.6h2.3m-1.1-1.1v2.3M450.1 87.4h2.3m-1.1-1.1v2.3M450.8 86.6h2.3m-1.1-1.1v2.3M447.8 77.7h2.3m-1.1-1.1v2.3M448.3 78.2h2.3m-1.1-1.1v2.3M449.2 83.9h2.3m-1.1-1.1v2.3M450.5 86.7h2.3m-1.1-1.1v2.3M453.2 86.1h2.3m-1.1-1.1v2.3" stroke="#E6765B" stroke-width="0.95" fill="none" stroke-opacity="0.75"/>
<path d="M457.8 69h2.3m-1.1-1.1v2.3M450.6 87.8h2.3m-1.1-1.1v2.3M459.9 70.9h2.3m-1.1-1.1v2.3M446.1 72.9h2.3m-1.1-1.1v2.3M448.6 58.1h2.3m-1.1-1.1v2.3M453.3 72h2.3m-1.1-1.1v2.3M453.4 81.5h2.3m-1.1-1.1v2.3M446 66.4h2.3m-1.1-1.1v2.3M447.4 64.1h2.3m-1.1-1.1v2.3M446.4 80.1h2.3m-1.1-1.1v2.3M453 67.3h2.3m-1.1-1.1v2.3M446.1 66.2h2.3m-1.1-1.1v2.3M456.8 63.4h2.3m-1.1-1.1v2.3M446.4 84.3h2.3m-1.1-1.1v2.3M449.7 74.9h2.3m-1.1-1.1v2.3M457.8 75.2h2.3m-1.1-1.1v2.3M456.5 77.8h2.3m-1.1-1.1v2.3M455.8 67.7h2.3m-1.1-1.1v2.3M446 63.6h2.3m-1.1-1.1v2.3M446.9 87.3h2.3m-1.1-1.1v2.3M453.3 59.3h2.3m-1.1-1.1v2.3M456.6 78.3h2.3m-1.1-1.1v2.3M452.7 84.8h2.3m-1.1-1.1v2.3M452.5 53h2.3m-1.1-1.1v2.3M447.2 71.8h2.3m-1.1-1.1v2.3M454.8 79.8h2.3m-1.1-1.1v2.3M449 88h2.3m-1.1-1.1v2.3M447.5 68.2h2.3m-1.1-1.1v2.3M458.1 81.5h2.3m-1.1-1.1v2.3M448.6 85.2h2.3m-1.1-1.1v2.3M453.4 75.7h2.3m-1.1-1.1v2.3M447.3 78.8h2.3m-1.1-1.1v2.3M450.4 74.1h2.3m-1.1-1.1v2.3M447.3 87.9h2.3m-1.1-1.1v2.3M453.5 72.7h2.3m-1.1-1.1v2.3M447.9 61.1h2.3m-1.1-1.1v2.3M454.1 77.7h2.3m-1.1-1.1v2.3M448.4 81.7h2.3m-1.1-1.1v2.3M448.6 66.8h2.3m-1.1-1.1v2.3M447.2 62.8h2.3m-1.1-1.1v2.3M449.2 73.6h2.3m-1.1-1.1v2.3M454.2 79.2h2.3m-1.1-1.1v2.3M453.2 70.7h2.3m-1.1-1.1v2.3M451.3 88h2.3m-1.1-1.1v2.3M452.3 69.8h2.3m-1.1-1.1v2.3M446.1 76.5h2.3m-1.1-1.1v2.3M454.5 63h2.3m-1.1-1.1v2.3M448.7 82.2h2.3m-1.1-1.1v2.3M451.7 70h2.3m-1.1-1.1v2.3M448.9 82.7h2.3m-1.1-1.1v2.3M451.6 62.3h2.3m-1.1-1.1v2.3M446.3 73.5h2.3m-1.1-1.1v2.3M446.8 65h2.3m-1.1-1.1v2.3M448.2 82.1h2.3m-1.1-1.1v2.3M451.6 56.1h2.3m-1.1-1.1v2.3M450.6 86.3h2.3m-1.1-1.1v2.3M453.7 84.5h2.3m-1.1-1.1v2.3M452.3 86.4h2.3m-1.1-1.1v2.3M455.1 64.9h2.3m-1.1-1.1v2.3M455.6 67.5h2.3m-1.1-1.1v2.3M453.2 61.1h2.3m-1.1-1.1v2.3M453.8 70.4h2.3m-1.1-1.1v2.3M446.1 72.6h2.3m-1.1-1.1v2.3M450.1 68.2h2.3m-1.1-1.1v2.3M454.4 86.7h2.3m-1.1-1.1v2.3M447.5 84h2.3m-1.1-1.1v2.3M447.5 78.7h2.3m-1.1-1.1v2.3M450.5 75h2.3m-1.1-1.1v2.3M448.2 52.3h2.3m-1.1-1.1v2.3M448.2 64.5h2.3m-1.1-1.1v2.3M446.3 71.1h2.3m-1.1-1.1v2.3M452.6 88h2.3m-1.1-1.1v2.3M446.3 50.9h2.3m-1.1-1.1v2.3M450.1 87.8h2.3m-1.1-1.1v2.3M450.5 53.5h2.3m-1.1-1.1v2.3M446.1 55.2h2.3m-1.1-1.1v2.3M451.7 74.2h2.3m-1.1-1.1v2.3M451.5 83.3h2.3m-1.1-1.1v2.3M448.1 66.3h2.3m-1.1-1.1v2.3M446.6 70.3h2.3m-1.1-1.1v2.3M447.3 83.3h2.3m-1.1-1.1v2.3M454.4 56.5h2.3m-1.1-1.1v2.3M450.7 62.3h2.3m-1.1-1.1v2.3M446.1 82.6h2.3m-1.1-1.1v2.3M446.8 58h2.3m-1.1-1.1v2.3M454.9 62.2h2.3m-1.1-1.1v2.3M451.2 63.2h2.3m-1.1-1.1v2.3M453.8 81.5h2.3m-1.1-1.1v2.3M451.4 80.7h2.3m-1.1-1.1v2.3M447.4 88.2h2.3m-1.1-1.1v2.3M453.6 81h2.3m-1.1-1.1v2.3M447.3 65h2.3m-1.1-1.1v2.3M449.2 76.3h2.3m-1.1-1.1v2.3M449.3 81.2h2.3m-1.1-1.1v2.3M447.1 84h2.3m-1.1-1.1v2.3" stroke="#E6765B" stroke-width="0.95" fill="none" stroke-opacity="0.75"/>
<path d="M465.2 67.1h2.3m-1.1-1.1v2.3M462.9 68.9h2.3m-1.1-1.1v2.3M471.5 75.5h2.3m-1.1-1.1v2.3M483.1 76h2.3m-1.1-1.1v2.3M493 73.9h2.3m-1.1-1.1v2.3M461.2 82.8h2.3m-1.1-1.1v2.3M460.9 86.2h2.3m-1.1-1.1v2.3M457.8 87.6h2.3m-1.1-1.1v2.3M448.9 52h2.3m-1.1-1.1v2.3M452.8 51.1h2.3m-1.1-1.1v2.3M450.2 54.8h2.3m-1.1-1.1v2.3" stroke="#E6765B" stroke-width="0.95" fill="none" stroke-opacity="0.75"/>
<line x1="372" y1="88.9" x2="500" y2="88.9" stroke="#505050" stroke-width="1.25" stroke-dasharray="3.3 2.54"/>
<text x="388.4" y="46.7" font-size="3.4" fill="#3E4468" text-anchor="middle">ENSG00000298021</text>
<text x="424.4" y="46.7" font-size="3.4" fill="#3E4468" text-anchor="middle">ENSG00000257642</text>
<text x="402.2" y="53.7" font-size="3.4" fill="#3E4468" text-anchor="middle">ENSG00000260895</text>
<text x="388.4" y="60.4" font-size="3.4" fill="#3E4468" text-anchor="middle">ENSG00000253671</text>
<text x="424.8" y="61.5" font-size="3.4" fill="#3E4468" text-anchor="middle">TTK</text>
<text x="433.1" y="50.1" font-size="3.4" fill="#E6765B" text-anchor="middle">ENSG00000262096</text>
<text x="433.1" y="56.7" font-size="3.4" fill="#E6765B" text-anchor="middle">ENSG00000290166</text>
<text x="466.4" y="48.8" font-size="3.4" fill="#E6765B" text-anchor="middle">ENSG00000272036</text>
<text x="470.3" y="56.7" font-size="3.4" fill="#E6765B" text-anchor="middle">ENSG00000224910</text>
<text x="463" y="63.2" font-size="3.4" fill="#E6765B" text-anchor="middle">ACF0032-AS1</text>
<line x1="418.8" y1="48.1" x2="414.4" y2="51.4" stroke="#3E4468" stroke-width="0.5"/>
<line x1="369.7" y1="98.2" x2="371.5" y2="98.2" stroke="#333333" stroke-width="0.9"/>
<text x="368.9" y="100" font-size="5.0" fill="#555555" text-anchor="end">0.0</text>
<line x1="369.7" y1="80.4" x2="371.5" y2="80.4" stroke="#333333" stroke-width="0.9"/>
<text x="368.9" y="82.2" font-size="5.0" fill="#555555" text-anchor="end">2.5</text>
<line x1="369.7" y1="62.6" x2="371.5" y2="62.6" stroke="#333333" stroke-width="0.9"/>
<text x="368.9" y="64.4" font-size="5.0" fill="#555555" text-anchor="end">5.0</text>
<line x1="369.7" y1="44.8" x2="371.5" y2="44.8" stroke="#333333" stroke-width="0.9"/>
<text x="368.9" y="46.6" font-size="5.0" fill="#555555" text-anchor="end">7.5</text>
<line x1="369.7" y1="27" x2="371.5" y2="27" stroke="#333333" stroke-width="0.9"/>
<text x="368.9" y="28.8" font-size="5.0" fill="#555555" text-anchor="end">10.0</text>
<line x1="369.7" y1="9.2" x2="371.5" y2="9.2" stroke="#333333" stroke-width="0.9"/>
<text x="368.9" y="11" font-size="5.0" fill="#555555" text-anchor="end">12.5</text>
<line x1="399.6" y1="102.5" x2="399.6" y2="104.3" stroke="#333333" stroke-width="0.9"/>
<text x="399.6" y="109.1" font-size="5.0" fill="#555555" text-anchor="middle">-2.5</text>
<line x1="433.3" y1="102.5" x2="433.3" y2="104.3" stroke="#333333" stroke-width="0.9"/>
<text x="433.3" y="109.1" font-size="5.0" fill="#555555" text-anchor="middle">0.0</text>
<line x1="467.1" y1="102.5" x2="467.1" y2="104.3" stroke="#333333" stroke-width="0.9"/>
<text x="467.1" y="109.1" font-size="5.0" fill="#555555" text-anchor="middle">2.5</text>
<text x="436" y="4.4" font-size="5.85" fill="#000" text-anchor="middle">lncRNA Vocano Plot (limma)</text>
<text x="436" y="116.5" font-size="6.3" fill="#000" text-anchor="middle">log2FC</text>
<text transform="translate(356.2 55.5) rotate(-90)" font-size="6.3" text-anchor="middle" fill="#000">-log10(P-value)</text>
<text x="347.8" y="10.5" font-size="12.5" fill="#000" text-anchor="start">C</text>
<rect x="371.5" y="8.5" width="129" height="94" fill="none" stroke="#9a9a9a" stroke-width="1"/>
<path d="M613.3 87h0M608.2 84h0M656.1 81h0M612.4 85.9h0M609.3 84.8h0M656.7 80.5h0M648.7 87.6h0M637.8 93.4h0M653.7 84.2h0M640.6 92.6h0M628.2 95.6h0M652.8 84.3h0M655.5 81.7h0M651.7 85h0M636 95.6h0M617.6 89.4h0M601.3 78.4h0M632 98h0M661.1 79.6h0M611.2 85h0M620.8 91.2h0M633.5 97.2h0M602.3 79.4h0M637.1 94.8h0M609.6 84.6h0M642.2 90.1h0M644.6 89.7h0M616.6 87.5h0M624.2 93h0M649.8 86.9h0M626.3 95.2h0M658.8 81.3h0M601.2 78.9h0M621.2 92.2h0M660.1 80h0M602.2 80.6h0M640.9 92.8h0M629.2 96.1h0M606.1 81.2h0M624.1 93.1h0M613.6 87.3h0M624.9 93.5h0M650.6 86.2h0M614.4 87.8h0M613 86h0M601.6 77.5h0M660.6 78.7h0M639.5 92.3h0M629.5 97.4h0M653.3 82.5h0M619.6 89.9h0M638.8 93.1h0M639.5 93h0M656.4 81.4h0M659.4 78.5h0M601.2 77.9h0M659.3 80.1h0M608.9 83.1h0M645.3 88.9h0M598.6 76.2h0M653.5 84h0M647.6 87h0M653.6 84h0M619.2 89.4h0M628 96.6h0M600.6 77.7h0M652.7 84.5h0M621.2 91.2h0M599.1 75.6h0M603.8 80.1h0M647.9 88h0M629 97h0M605.6 80.5h0M630.6 97.2h0M647.2 87.9h0M610.7 84.5h0M625 94.2h0M653.3 84.9h0M629.5 96.9h0M655.2 82.8h0M618 89.4h0M643.4 90.9h0M613.8 86.3h0M646.6 87.4h0M640.9 92.1h0M655.8 81.7h0M617.6 88.3h0M636.9 95.1h0M646.9 88h0M606.8 83.4h0M649.2 86.4h0M621.8 92h0M637.4 94.6h0M657.2 81.8h0M618.9 90.9h0M599.7 75.7h0M648.7 85.7h0M608.4 82.9h0M634.5 95.7h0M659.3 80.6h0M640.8 91.6h0M650.6 85.3h0M623.9 92.7h0M642.6 91.4h0M618.9 89.2h0M654.9 83.1h0M649.8 86.6h0M599.3 77.9h0M642 91.3h0M658.2 80.8h0" stroke="#F1EEDB" stroke-width="1.6" stroke-linecap="round" fill="none"/>
<path d="M592 76.5h0M596 80h0M589 79h0" stroke="#F1EEDB" stroke-width="1.6" stroke-linecap="round" fill="none"/>
<path d="M549 14.7h2.3m-1.1-1.1v2.3M557.9 12.3h2.3m-1.1-1.1v2.3M578.4 42.1h2.3m-1.1-1.1v2.3M575.6 46.8h2.3m-1.1-1.1v2.3M579.8 45.9h2.3m-1.1-1.1v2.3M583.4 49.5h2.3m-1.1-1.1v2.3M581.6 54.2h2.3m-1.1-1.1v2.3M584.5 56.8h2.3m-1.1-1.1v2.3M585.6 52.6h2.3m-1.1-1.1v2.3M591.9 62.7h2.3m-1.1-1.1v2.3M593.8 70.8h2.3m-1.1-1.1v2.3M597.4 69.5h2.3m-1.1-1.1v2.3M597.4 71.5h2.3m-1.1-1.1v2.3M597.4 73h2.3m-1.1-1.1v2.3" stroke="#3E4468" stroke-width="0.95" fill="none" stroke-opacity="0.75"/>
<path d="M672.1 59.3h2.3m-1.1-1.1v2.3M670.9 62.8h2.3m-1.1-1.1v2.3M663.5 65.3h2.3m-1.1-1.1v2.3M667.6 66.8h2.3m-1.1-1.1v2.3M663.5 73.8h2.3m-1.1-1.1v2.3M668.9 63h2.3m-1.1-1.1v2.3M664.9 66h2.3m-1.1-1.1v2.3" stroke="#E6765B" stroke-width="0.95" fill="none" stroke-opacity="0.75"/>
<line x1="545" y1="76.8" x2="679" y2="76.8" stroke="#505050" stroke-width="1.25" stroke-dasharray="3.3 2.54"/>
<text x="575.7" y="13.2" font-size="3.4" fill="#3E4468" text-anchor="middle">hsa_circ_0058495</text>
<text x="559.5" y="20.2" font-size="3.4" fill="#3E4468" text-anchor="middle">hsa_circ_0000095</text>
<text x="573.8" y="39.7" font-size="3.4" fill="#3E4468" text-anchor="middle">hsa_circ_0006117</text>
<text x="602.4" y="46.4" font-size="3.4" fill="#3E4468" text-anchor="middle">hsa_circ_0001417</text>
<text x="570.9" y="52.5" font-size="3.4" fill="#3E4468" text-anchor="middle">hsa_circ_0000799</text>
<text x="632.7" y="52.6" font-size="3.4" fill="#E6765B" text-anchor="middle">hsa_circ_0039161</text>
<text x="663.7" y="52.6" font-size="3.4" fill="#E6765B" text-anchor="middle">hsa_circ_0060925</text>
<text x="656.5" y="59.3" font-size="3.4" fill="#E6765B" text-anchor="middle">hsa_circ_0046701</text>
<text x="632.9" y="65.5" font-size="3.4" fill="#E6765B" text-anchor="middle">hsa_circ_0010117</text>
<text x="663.9" y="72.5" font-size="3.4" fill="#E6765B" text-anchor="middle">hsa_circ_0044177</text>
<line x1="582" y1="46" x2="588.5" y2="45.5" stroke="#3E4468" stroke-width="0.5"/>
<line x1="647" y1="51.5" x2="672" y2="62" stroke="#E6765B" stroke-width="0.5"/>
<line x1="649.5" y1="51.5" x2="673" y2="59" stroke="#E6765B" stroke-width="0.5"/>
<line x1="647" y1="64.3" x2="668" y2="66" stroke="#E6765B" stroke-width="0.5"/>
<line x1="542.7" y1="98.5" x2="544.5" y2="98.5" stroke="#333333" stroke-width="0.9"/>
<text x="541.9" y="100.3" font-size="5.0" fill="#555555" text-anchor="end">0</text>
<line x1="542.7" y1="81.8" x2="544.5" y2="81.8" stroke="#333333" stroke-width="0.9"/>
<text x="541.9" y="83.6" font-size="5.0" fill="#555555" text-anchor="end">1</text>
<line x1="542.7" y1="65.1" x2="544.5" y2="65.1" stroke="#333333" stroke-width="0.9"/>
<text x="541.9" y="66.9" font-size="5.0" fill="#555555" text-anchor="end">2</text>
<line x1="542.7" y1="48.4" x2="544.5" y2="48.4" stroke="#333333" stroke-width="0.9"/>
<text x="541.9" y="50.2" font-size="5.0" fill="#555555" text-anchor="end">3</text>
<line x1="542.7" y1="31.7" x2="544.5" y2="31.7" stroke="#333333" stroke-width="0.9"/>
<text x="541.9" y="33.5" font-size="5.0" fill="#555555" text-anchor="end">4</text>
<line x1="542.7" y1="15" x2="544.5" y2="15" stroke="#333333" stroke-width="0.9"/>
<text x="541.9" y="16.8" font-size="5.0" fill="#555555" text-anchor="end">5</text>
<line x1="568.6" y1="102.5" x2="568.6" y2="104.3" stroke="#333333" stroke-width="0.9"/>
<text x="568.6" y="109.1" font-size="5.0" fill="#555555" text-anchor="middle">-2</text>
<line x1="600" y1="102.5" x2="600" y2="104.3" stroke="#333333" stroke-width="0.9"/>
<text x="600" y="109.1" font-size="5.0" fill="#555555" text-anchor="middle">-1</text>
<line x1="631.4" y1="102.5" x2="631.4" y2="104.3" stroke="#333333" stroke-width="0.9"/>
<text x="631.4" y="109.1" font-size="5.0" fill="#555555" text-anchor="middle">0</text>
<line x1="662.8" y1="102.5" x2="662.8" y2="104.3" stroke="#333333" stroke-width="0.9"/>
<text x="662.8" y="109.1" font-size="5.0" fill="#555555" text-anchor="middle">1</text>
<text x="612" y="4.4" font-size="5.85" fill="#000" text-anchor="middle">circRNA Vocano Plot (limma)</text>
<text x="612" y="116.5" font-size="6.3" fill="#000" text-anchor="middle">log2FC</text>
<text transform="translate(535.5 55.5) rotate(-90)" font-size="6.3" text-anchor="middle" fill="#000">-log10(P-value)</text>
<text x="524.9" y="10.2" font-size="12.5" fill="#000" text-anchor="start">D</text>
<rect x="544.5" y="8.5" width="135" height="94" fill="none" stroke="#9a9a9a" stroke-width="1"/>
<polygon points="80,190 83,189 86,195 88.5,205 91,225 92.5,238 94,225 96,210 98,203 101,201.5 103,205 104.5,215 105.5,234 112,234.5 108,239 100,242 84,242 72,239 65,234.5 80,234" fill="#F1EEDB"/>
<path d="M94.3 228.3h0M102.4 238.9h0M99.8 237.9h0M87 202.1h0M78.1 237.6h0M111.2 235.2h0M78.6 240h0M90.3 224.9h0M74.6 238.9h0M97.5 240.2h0M82 197.8h0M80.9 205.4h0M103.5 214.5h0M100.2 233.8h0M82.2 219.7h0M81.2 207.8h0M89.7 230.1h0M102.5 234.6h0M93.7 237.7h0M81 238h0M97.4 241.8h0M84.1 201.6h0M86.4 211.4h0M99.4 239.3h0M94.6 230.8h0M87.9 227.7h0M87.5 204.4h0M84 196.8h0M82.7 241.4h0M88.5 206.9h0M101.8 235h0M82 230.7h0M101.4 225.8h0M96.2 229.3h0M82.1 226.3h0M101.2 225.6h0M78.8 239.1h0M95.5 219.8h0M86.8 232.3h0M95.4 231.3h0M81.4 223.1h0M99.7 232.9h0M81.5 233.7h0M89.4 217.1h0M97.5 227.1h0M101.7 219.8h0M96.3 211.3h0M94.3 230.1h0M94.9 227.2h0M85.7 223.5h0M87.2 201h0M86.9 209.2h0M76.2 236.9h0M82.6 190.9h0M92.3 239.8h0M103.5 211.2h0M103.2 223h0M82.4 196.5h0M94.6 236.2h0M82.7 211.9h0M84.5 205.9h0M85.8 204.5h0M101.7 232.8h0M77.9 238.6h0M95.3 221h0M100.7 204.9h0M86.8 208.1h0M100 220.3h0M86.4 237.6h0M85.1 219.5h0M98.3 222.5h0M87.6 237.3h0M83.1 209.8h0M97.6 211.9h0M87.5 218.1h0M88.4 206.5h0M102.2 224.2h0M95.3 239.5h0M78.7 237.7h0M84.5 197.5h0M85.3 205.7h0M88.8 237.3h0M98.5 223.7h0M80.2 231.2h0M83.1 196.2h0M104.1 223.3h0M102.8 212h0M99.8 210h0M87.1 236.2h0M82.6 209.4h0M82.3 238.7h0M97.3 224.7h0M87.2 239.1h0M83.9 240.6h0M82.1 205.5h0M87 204h0M99.4 227.1h0M96.6 238.8h0M90.8 241.4h0M83.7 192.2h0M83.9 217.2h0M87.9 219.3h0M82.7 222.1h0M99.1 237.4h0M85.1 219.6h0M82.6 194.2h0M84.8 205.6h0M100.4 218.5h0M100.7 219.5h0M85.8 232.3h0M95.8 239.6h0M99.2 226.2h0M83 195.9h0M100.9 218.5h0M105.4 239.3h0M85.2 208.2h0M98.3 212.6h0M85.4 212.4h0M101.1 238.6h0M90 240.4h0M103.3 211.2h0M87.7 235.7h0M83.5 200.4h0M81.5 202.2h0M83.8 196.6h0M104.1 215h0M102.5 206.2h0M97.1 234.7h0M94.3 231.4h0M82.7 189.5h0M89.1 220.1h0M87.4 226.3h0M83.8 241.1h0M103.3 238h0M97.6 224.5h0M90.2 231.3h0M82.1 220.5h0M96.9 216.7h0M98.6 205.3h0M100.4 224.5h0M110 236.5h0M97.3 233.4h0M99.7 221.4h0M83.3 198.4h0M95.7 236.7h0M83.2 194.8h0M97.4 218.3h0M98.6 208.8h0M94.2 236.6h0M104 235.6h0" stroke="#F1EEDB" stroke-width="1.5" stroke-linecap="round" fill="none"/>
<path d="M74 203.3h2.3m-1.1-1.1v2.3M68.5 209.3h2.3m-1.1-1.1v2.3M77.1 197.2h2.3m-1.1-1.1v2.3M65.9 213.4h2.3m-1.1-1.1v2.3M78.2 191h2.3m-1.1-1.1v2.3M71 213.3h2.3m-1.1-1.1v2.3M71.6 215.6h2.3m-1.1-1.1v2.3M73.3 220h2.3m-1.1-1.1v2.3M62 206.9h2.3m-1.1-1.1v2.3M75.9 232.2h2.3m-1.1-1.1v2.3M66.6 226.5h2.3m-1.1-1.1v2.3M72.5 230.6h2.3m-1.1-1.1v2.3M65 218.3h2.3m-1.1-1.1v2.3M76 206.5h2.3m-1.1-1.1v2.3M63.6 213.9h2.3m-1.1-1.1v2.3M62.7 221.6h2.3m-1.1-1.1v2.3M74.1 224.7h2.3m-1.1-1.1v2.3M75.3 219.2h2.3m-1.1-1.1v2.3M77.5 232.2h2.3m-1.1-1.1v2.3M72.1 232.6h2.3m-1.1-1.1v2.3M67.6 205.5h2.3m-1.1-1.1v2.3M73.1 220.7h2.3m-1.1-1.1v2.3M62.4 202.6h2.3m-1.1-1.1v2.3M70.6 201.1h2.3m-1.1-1.1v2.3M63 212.9h2.3m-1.1-1.1v2.3M67.6 217.6h2.3m-1.1-1.1v2.3M69.8 232.5h2.3m-1.1-1.1v2.3M77.9 184.9h2.3m-1.1-1.1v2.3M74.5 219.6h2.3m-1.1-1.1v2.3M69.5 199.9h2.3m-1.1-1.1v2.3M74.1 230.1h2.3m-1.1-1.1v2.3M67.7 196.5h2.3m-1.1-1.1v2.3M69.8 218.3h2.3m-1.1-1.1v2.3M75.1 211.8h2.3m-1.1-1.1v2.3M66.2 199h2.3m-1.1-1.1v2.3M76.1 208.8h2.3m-1.1-1.1v2.3M61.8 203.5h2.3m-1.1-1.1v2.3M65.1 216.6h2.3m-1.1-1.1v2.3M62.6 206.5h2.3m-1.1-1.1v2.3M78.6 210h2.3m-1.1-1.1v2.3M67.8 231h2.3m-1.1-1.1v2.3M62.5 200h2.3m-1.1-1.1v2.3M74.6 200.3h2.3m-1.1-1.1v2.3M69.1 201.5h2.3m-1.1-1.1v2.3M70.2 183.8h2.3m-1.1-1.1v2.3M64.8 233.1h2.3m-1.1-1.1v2.3M68.8 206.2h2.3m-1.1-1.1v2.3M78 217.8h2.3m-1.1-1.1v2.3M70 183.8h2.3m-1.1-1.1v2.3M67.9 222.6h2.3m-1.1-1.1v2.3M68.7 212.8h2.3m-1.1-1.1v2.3M77.1 215.5h2.3m-1.1-1.1v2.3M72.3 182.9h2.3m-1.1-1.1v2.3M61.3 222.2h2.3m-1.1-1.1v2.3M68.3 227.8h2.3m-1.1-1.1v2.3M75.7 230h2.3m-1.1-1.1v2.3M67.7 234.4h2.3m-1.1-1.1v2.3M74.5 228.7h2.3m-1.1-1.1v2.3M63.5 222.8h2.3m-1.1-1.1v2.3M68.4 233h2.3m-1.1-1.1v2.3M78.7 192.6h2.3m-1.1-1.1v2.3M68.4 195.5h2.3m-1.1-1.1v2.3M69.3 196.3h2.3m-1.1-1.1v2.3M72.8 187.6h2.3m-1.1-1.1v2.3M63.9 205.5h2.3m-1.1-1.1v2.3M62.2 201.4h2.3m-1.1-1.1v2.3M77 228.4h2.3m-1.1-1.1v2.3M75.8 232.4h2.3m-1.1-1.1v2.3M71.6 188.3h2.3m-1.1-1.1v2.3M65.1 230.2h2.3m-1.1-1.1v2.3M64.2 204h2.3m-1.1-1.1v2.3M65.7 221.3h2.3m-1.1-1.1v2.3M67.6 222.5h2.3m-1.1-1.1v2.3M63.6 208.7h2.3m-1.1-1.1v2.3M78.4 218.6h2.3m-1.1-1.1v2.3M72.4 201.1h2.3m-1.1-1.1v2.3M67.5 206.6h2.3m-1.1-1.1v2.3M71.3 232.7h2.3m-1.1-1.1v2.3M65.2 211.4h2.3m-1.1-1.1v2.3M65.6 210.2h2.3m-1.1-1.1v2.3M74 188.1h2.3m-1.1-1.1v2.3M69.5 218.8h2.3m-1.1-1.1v2.3M68.4 208h2.3m-1.1-1.1v2.3M71.8 223.4h2.3m-1.1-1.1v2.3M61.9 207.8h2.3m-1.1-1.1v2.3M66.2 205.1h2.3m-1.1-1.1v2.3M72.6 230.5h2.3m-1.1-1.1v2.3M67.5 209.4h2.3m-1.1-1.1v2.3M73.7 231.1h2.3m-1.1-1.1v2.3M77.9 233.9h2.3m-1.1-1.1v2.3M66.3 189.9h2.3m-1.1-1.1v2.3M77.6 185.1h2.3m-1.1-1.1v2.3M68.9 220.4h2.3m-1.1-1.1v2.3M70.4 201.8h2.3m-1.1-1.1v2.3M77.5 197h2.3m-1.1-1.1v2.3M70.8 225.4h2.3m-1.1-1.1v2.3M63.3 199.8h2.3m-1.1-1.1v2.3M69.7 211.3h2.3m-1.1-1.1v2.3M64.6 205.3h2.3m-1.1-1.1v2.3M67 188.7h2.3m-1.1-1.1v2.3M78.3 195.1h2.3m-1.1-1.1v2.3M65.8 222.9h2.3m-1.1-1.1v2.3M74.2 195h2.3m-1.1-1.1v2.3M75.8 214.5h2.3m-1.1-1.1v2.3M67.8 214.6h2.3m-1.1-1.1v2.3M65.3 195.1h2.3m-1.1-1.1v2.3M76.6 204.5h2.3m-1.1-1.1v2.3M77 190.5h2.3m-1.1-1.1v2.3M74.2 211h2.3m-1.1-1.1v2.3M75.7 207.4h2.3m-1.1-1.1v2.3M76.5 183.1h2.3m-1.1-1.1v2.3M71.4 187.3h2.3m-1.1-1.1v2.3M73.8 213.7h2.3m-1.1-1.1v2.3M71.9 192.9h2.3m-1.1-1.1v2.3M77.9 186.9h2.3m-1.1-1.1v2.3M62 217.6h2.3m-1.1-1.1v2.3M69.1 215.7h2.3m-1.1-1.1v2.3M76.9 219.6h2.3m-1.1-1.1v2.3M62.1 215.4h2.3m-1.1-1.1v2.3M76 187.4h2.3m-1.1-1.1v2.3M74.4 194.8h2.3m-1.1-1.1v2.3M74.5 208.6h2.3m-1.1-1.1v2.3M77.1 205.9h2.3m-1.1-1.1v2.3M65.6 231.7h2.3m-1.1-1.1v2.3M68.5 214.3h2.3m-1.1-1.1v2.3M72.6 190.4h2.3m-1.1-1.1v2.3M63.3 207.3h2.3m-1.1-1.1v2.3M73.2 204.9h2.3m-1.1-1.1v2.3M71.2 229.8h2.3m-1.1-1.1v2.3M63.5 195.3h2.3m-1.1-1.1v2.3M69.7 209.7h2.3m-1.1-1.1v2.3M77.1 210.7h2.3m-1.1-1.1v2.3M72.8 203.4h2.3m-1.1-1.1v2.3M75 225.7h2.3m-1.1-1.1v2.3M65.5 200.1h2.3m-1.1-1.1v2.3M76.9 195.2h2.3m-1.1-1.1v2.3M72.2 215.3h2.3m-1.1-1.1v2.3M78.1 187.2h2.3m-1.1-1.1v2.3M74.7 199h2.3m-1.1-1.1v2.3M62.7 214.8h2.3m-1.1-1.1v2.3M76 212.2h2.3m-1.1-1.1v2.3M67.8 215h2.3m-1.1-1.1v2.3M73.9 194.9h2.3m-1.1-1.1v2.3M68.2 198.6h2.3m-1.1-1.1v2.3M73.8 203h2.3m-1.1-1.1v2.3M76.5 184.4h2.3m-1.1-1.1v2.3M66.3 190.6h2.3m-1.1-1.1v2.3M77.8 223.3h2.3m-1.1-1.1v2.3M77 208.1h2.3m-1.1-1.1v2.3M62.7 203.3h2.3m-1.1-1.1v2.3M71 196.5h2.3m-1.1-1.1v2.3M62.8 208.4h2.3m-1.1-1.1v2.3M77.6 231.6h2.3m-1.1-1.1v2.3M69.2 186.5h2.3m-1.1-1.1v2.3M74.7 187.1h2.3m-1.1-1.1v2.3M70.5 185.5h2.3m-1.1-1.1v2.3M78.6 210h2.3m-1.1-1.1v2.3M68.7 195.6h2.3m-1.1-1.1v2.3M70.8 233.1h2.3m-1.1-1.1v2.3M68.6 192.2h2.3m-1.1-1.1v2.3M70.1 230.1h2.3m-1.1-1.1v2.3M67.7 214.9h2.3m-1.1-1.1v2.3M77.4 198.4h2.3m-1.1-1.1v2.3M75.4 209.3h2.3m-1.1-1.1v2.3M77.8 205.9h2.3m-1.1-1.1v2.3M68.8 230.1h2.3m-1.1-1.1v2.3M71.2 207.8h2.3m-1.1-1.1v2.3M66 220.8h2.3m-1.1-1.1v2.3M65.5 206.2h2.3m-1.1-1.1v2.3M74.5 213.4h2.3m-1.1-1.1v2.3M73.4 220h2.3m-1.1-1.1v2.3M62.7 234.4h2.3m-1.1-1.1v2.3M62.5 204.9h2.3m-1.1-1.1v2.3M72 226.9h2.3m-1.1-1.1v2.3M63.8 218.4h2.3m-1.1-1.1v2.3M62.7 212.1h2.3m-1.1-1.1v2.3M65.4 200.1h2.3m-1.1-1.1v2.3M61.8 219.6h2.3m-1.1-1.1v2.3M63.1 221.9h2.3m-1.1-1.1v2.3M66.9 212.7h2.3m-1.1-1.1v2.3M72.4 207.1h2.3m-1.1-1.1v2.3M76.6 230.2h2.3m-1.1-1.1v2.3M65.9 198.9h2.3m-1.1-1.1v2.3M76.6 188.1h2.3m-1.1-1.1v2.3M68.4 203.2h2.3m-1.1-1.1v2.3M78.4 187.9h2.3m-1.1-1.1v2.3M72.6 221.5h2.3m-1.1-1.1v2.3M77.8 197.7h2.3m-1.1-1.1v2.3M76.2 216.4h2.3m-1.1-1.1v2.3M68.4 225.8h2.3m-1.1-1.1v2.3M73 199.2h2.3m-1.1-1.1v2.3M74 208h2.3m-1.1-1.1v2.3M73.7 213.9h2.3m-1.1-1.1v2.3M75.2 189.5h2.3m-1.1-1.1v2.3M75.1 222.3h2.3m-1.1-1.1v2.3M75.9 183.3h2.3m-1.1-1.1v2.3M70.5 206.6h2.3m-1.1-1.1v2.3M78.4 226.6h2.3m-1.1-1.1v2.3M65.1 225.4h2.3m-1.1-1.1v2.3M72.6 201.6h2.3m-1.1-1.1v2.3M72.5 193.3h2.3m-1.1-1.1v2.3M72.7 212.1h2.3m-1.1-1.1v2.3M74.2 208h2.3m-1.1-1.1v2.3M68.7 197.4h2.3m-1.1-1.1v2.3M74.1 200.9h2.3m-1.1-1.1v2.3M71.6 221.5h2.3m-1.1-1.1v2.3M68.9 217.7h2.3m-1.1-1.1v2.3M76 188.9h2.3m-1.1-1.1v2.3M74.6 186.7h2.3m-1.1-1.1v2.3M69.1 204.5h2.3m-1.1-1.1v2.3M75.3 206.5h2.3m-1.1-1.1v2.3M75.2 222.1h2.3m-1.1-1.1v2.3M72.1 225.7h2.3m-1.1-1.1v2.3M71.9 219.3h2.3m-1.1-1.1v2.3M76.2 214h2.3m-1.1-1.1v2.3M78.7 191.8h2.3m-1.1-1.1v2.3M62 199.2h2.3m-1.1-1.1v2.3M62.7 200.8h2.3m-1.1-1.1v2.3M66.3 220h2.3m-1.1-1.1v2.3M67.8 189.9h2.3m-1.1-1.1v2.3M78 228.9h2.3m-1.1-1.1v2.3M73.3 192.6h2.3m-1.1-1.1v2.3M68.1 205.1h2.3m-1.1-1.1v2.3M69.1 222.1h2.3m-1.1-1.1v2.3M73.3 227h2.3m-1.1-1.1v2.3M73.1 221.8h2.3m-1.1-1.1v2.3M76.5 230.1h2.3m-1.1-1.1v2.3M75.1 203.3h2.3m-1.1-1.1v2.3M72.7 216.2h2.3m-1.1-1.1v2.3M76.7 219.2h2.3m-1.1-1.1v2.3M68.8 191.2h2.3m-1.1-1.1v2.3M66.7 194.4h2.3m-1.1-1.1v2.3M73.1 222.2h2.3m-1.1-1.1v2.3M64.3 209.5h2.3m-1.1-1.1v2.3M76 200.6h2.3m-1.1-1.1v2.3M62.6 213.4h2.3m-1.1-1.1v2.3M67.4 188.7h2.3m-1.1-1.1v2.3M63.5 203.8h2.3m-1.1-1.1v2.3M70.7 232.2h2.3m-1.1-1.1v2.3M75.9 198.4h2.3m-1.1-1.1v2.3M77.5 185.3h2.3m-1.1-1.1v2.3M61.9 213.2h2.3m-1.1-1.1v2.3M74.5 206.6h2.3m-1.1-1.1v2.3M75.3 205.1h2.3m-1.1-1.1v2.3M77.4 213.5h2.3m-1.1-1.1v2.3M70.5 190.1h2.3m-1.1-1.1v2.3M68.5 204.6h2.3m-1.1-1.1v2.3M75.7 193.3h2.3m-1.1-1.1v2.3M66.2 224.7h2.3m-1.1-1.1v2.3M62.1 209.7h2.3m-1.1-1.1v2.3M64.8 216.6h2.3m-1.1-1.1v2.3M71.5 186h2.3m-1.1-1.1v2.3M74 202.8h2.3m-1.1-1.1v2.3M66.6 226.8h2.3m-1.1-1.1v2.3M74.9 197.6h2.3m-1.1-1.1v2.3M73 187.6h2.3m-1.1-1.1v2.3M70.2 185.4h2.3m-1.1-1.1v2.3M72.4 230h2.3m-1.1-1.1v2.3M72.3 183.2h2.3m-1.1-1.1v2.3M70.1 206.1h2.3m-1.1-1.1v2.3M68.8 189.1h2.3m-1.1-1.1v2.3M65.9 205h2.3m-1.1-1.1v2.3M62.1 217.1h2.3m-1.1-1.1v2.3M65.2 196.5h2.3m-1.1-1.1v2.3M62.5 197.2h2.3m-1.1-1.1v2.3M77.6 196.6h2.3m-1.1-1.1v2.3M62.6 199.5h2.3m-1.1-1.1v2.3M77.9 185.7h2.3m-1.1-1.1v2.3M67 192.2h2.3m-1.1-1.1v2.3M73.1 205.7h2.3m-1.1-1.1v2.3M62.6 227.1h2.3m-1.1-1.1v2.3M66.8 217.7h2.3m-1.1-1.1v2.3M69 227.6h2.3m-1.1-1.1v2.3M66 195.1h2.3m-1.1-1.1v2.3M75.6 207.9h2.3m-1.1-1.1v2.3M67.1 208.1h2.3m-1.1-1.1v2.3M76.1 211.5h2.3m-1.1-1.1v2.3M69 216.1h2.3m-1.1-1.1v2.3M71.9 202.7h2.3m-1.1-1.1v2.3M68.5 188h2.3m-1.1-1.1v2.3M68.8 228h2.3m-1.1-1.1v2.3M66.4 200.5h2.3m-1.1-1.1v2.3M71.7 212.6h2.3m-1.1-1.1v2.3M64 204.9h2.3m-1.1-1.1v2.3M74.1 183.2h2.3m-1.1-1.1v2.3M62.8 221.4h2.3m-1.1-1.1v2.3M77.1 184.6h2.3m-1.1-1.1v2.3M62.3 214.5h2.3m-1.1-1.1v2.3M66 216.1h2.3m-1.1-1.1v2.3M61.5 205.4h2.3m-1.1-1.1v2.3M63.8 198.8h2.3m-1.1-1.1v2.3M73.3 208.3h2.3m-1.1-1.1v2.3M76.2 226h2.3m-1.1-1.1v2.3M72 226.3h2.3m-1.1-1.1v2.3M64 206.4h2.3m-1.1-1.1v2.3M66.6 214.4h2.3m-1.1-1.1v2.3M62.9 228.4h2.3m-1.1-1.1v2.3M67.5 222.9h2.3m-1.1-1.1v2.3M77.8 231.3h2.3m-1.1-1.1v2.3M67.9 226.8h2.3m-1.1-1.1v2.3M78.8 188h2.3m-1.1-1.1v2.3M74.3 219.9h2.3m-1.1-1.1v2.3M69.1 195.9h2.3m-1.1-1.1v2.3M64 203h2.3m-1.1-1.1v2.3M77.6 202.5h2.3m-1.1-1.1v2.3M65.4 214.1h2.3m-1.1-1.1v2.3M68.7 213.8h2.3m-1.1-1.1v2.3M69 196.3h2.3m-1.1-1.1v2.3M61.5 224.8h2.3m-1.1-1.1v2.3M72.7 194h2.3m-1.1-1.1v2.3M69.8 212.1h2.3m-1.1-1.1v2.3M69.9 229.2h2.3m-1.1-1.1v2.3M74.9 197.4h2.3m-1.1-1.1v2.3M66.9 213.7h2.3m-1.1-1.1v2.3M63.8 231h2.3m-1.1-1.1v2.3M61.7 207.7h2.3m-1.1-1.1v2.3M65.8 209.1h2.3m-1.1-1.1v2.3M78.7 223.2h2.3m-1.1-1.1v2.3M64.8 205.4h2.3m-1.1-1.1v2.3M64.3 233.7h2.3m-1.1-1.1v2.3M66.5 194.3h2.3m-1.1-1.1v2.3M78.8 220.6h2.3m-1.1-1.1v2.3M77.4 225.7h2.3m-1.1-1.1v2.3M74.9 194.6h2.3m-1.1-1.1v2.3M63.9 195.4h2.3m-1.1-1.1v2.3M73.8 207.3h2.3m-1.1-1.1v2.3M76.1 226.5h2.3m-1.1-1.1v2.3M74 220.1h2.3m-1.1-1.1v2.3M77.3 210.8h2.3m-1.1-1.1v2.3M67.7 211.7h2.3m-1.1-1.1v2.3M65.5 205.5h2.3m-1.1-1.1v2.3M65.3 200.7h2.3m-1.1-1.1v2.3M78.1 207.1h2.3m-1.1-1.1v2.3M75.9 220.8h2.3m-1.1-1.1v2.3M71.5 198.2h2.3m-1.1-1.1v2.3M67.9 198h2.3m-1.1-1.1v2.3M72.3 226.7h2.3m-1.1-1.1v2.3M75.1 196.8h2.3m-1.1-1.1v2.3M71.4 193.2h2.3m-1.1-1.1v2.3M65 192h2.3m-1.1-1.1v2.3M72.8 212.3h2.3m-1.1-1.1v2.3M65.9 220.1h2.3m-1.1-1.1v2.3M64.6 230.3h2.3m-1.1-1.1v2.3M63 212.7h2.3m-1.1-1.1v2.3M73.5 220.2h2.3m-1.1-1.1v2.3M69.6 227.6h2.3m-1.1-1.1v2.3M72.2 218h2.3m-1.1-1.1v2.3M69.2 210.2h2.3m-1.1-1.1v2.3M62.6 220.7h2.3m-1.1-1.1v2.3M67.1 206.4h2.3m-1.1-1.1v2.3M70.2 225.9h2.3m-1.1-1.1v2.3M66.3 210.9h2.3m-1.1-1.1v2.3M71.7 216.1h2.3m-1.1-1.1v2.3M66.5 195.9h2.3m-1.1-1.1v2.3M69.3 213.2h2.3m-1.1-1.1v2.3M72.5 188.2h2.3m-1.1-1.1v2.3M68.9 211h2.3m-1.1-1.1v2.3M69.8 196.8h2.3m-1.1-1.1v2.3M63.8 202.4h2.3m-1.1-1.1v2.3M77.2 185.2h2.3m-1.1-1.1v2.3M67.2 218.2h2.3m-1.1-1.1v2.3M72.1 182.1h2.3m-1.1-1.1v2.3M65 196h2.3m-1.1-1.1v2.3M77 204.7h2.3m-1.1-1.1v2.3M65.5 206.7h2.3m-1.1-1.1v2.3M69.6 189h2.3m-1.1-1.1v2.3M72.9 219.6h2.3m-1.1-1.1v2.3M69.4 209.8h2.3m-1.1-1.1v2.3M74.7 232.2h2.3m-1.1-1.1v2.3M71.9 183.4h2.3m-1.1-1.1v2.3M69.9 216.4h2.3m-1.1-1.1v2.3M66.8 217.6h2.3m-1.1-1.1v2.3M67.5 214h2.3m-1.1-1.1v2.3M71.9 216.8h2.3m-1.1-1.1v2.3M77.5 218.9h2.3m-1.1-1.1v2.3M73.6 218.7h2.3m-1.1-1.1v2.3M65 213.9h2.3m-1.1-1.1v2.3M72 184.3h2.3m-1.1-1.1v2.3M74.4 193.1h2.3m-1.1-1.1v2.3M69.7 209h2.3m-1.1-1.1v2.3M73.8 221.9h2.3m-1.1-1.1v2.3M69.3 231.3h2.3m-1.1-1.1v2.3M68.8 211.3h2.3m-1.1-1.1v2.3M78.7 198.3h2.3m-1.1-1.1v2.3M73.7 232.2h2.3m-1.1-1.1v2.3M62.4 222.6h2.3m-1.1-1.1v2.3M72.6 209.9h2.3m-1.1-1.1v2.3M75.1 227h2.3m-1.1-1.1v2.3M63.5 207h2.3m-1.1-1.1v2.3M71.9 218.4h2.3m-1.1-1.1v2.3M78.1 224h2.3m-1.1-1.1v2.3M75.8 184.5h2.3m-1.1-1.1v2.3M68.5 229.9h2.3m-1.1-1.1v2.3M77.9 221.4h2.3m-1.1-1.1v2.3M66.9 222.2h2.3m-1.1-1.1v2.3M70.4 216.7h2.3m-1.1-1.1v2.3M72.3 227.3h2.3m-1.1-1.1v2.3M73.7 232.9h2.3m-1.1-1.1v2.3M69.7 207.4h2.3m-1.1-1.1v2.3M72.7 211.1h2.3m-1.1-1.1v2.3M66.6 207.7h2.3m-1.1-1.1v2.3M77.6 195.8h2.3m-1.1-1.1v2.3M66.2 224.4h2.3m-1.1-1.1v2.3M65.2 216.7h2.3m-1.1-1.1v2.3M71.1 229h2.3m-1.1-1.1v2.3M69.4 198.6h2.3m-1.1-1.1v2.3M65.5 200.5h2.3m-1.1-1.1v2.3M63.5 197.8h2.3m-1.1-1.1v2.3M74.7 231.4h2.3m-1.1-1.1v2.3M67.2 194.4h2.3m-1.1-1.1v2.3M66.1 214.7h2.3m-1.1-1.1v2.3M69.5 187.3h2.3m-1.1-1.1v2.3M70.3 195.4h2.3m-1.1-1.1v2.3M63.4 223h2.3m-1.1-1.1v2.3M62.7 204.5h2.3m-1.1-1.1v2.3M74.6 210h2.3m-1.1-1.1v2.3M76.6 198h2.3m-1.1-1.1v2.3M77 203.7h2.3m-1.1-1.1v2.3M78.6 219.3h2.3m-1.1-1.1v2.3M74.1 224.4h2.3m-1.1-1.1v2.3M69.2 229.6h2.3m-1.1-1.1v2.3M77.2 189h2.3m-1.1-1.1v2.3M78.6 210.7h2.3m-1.1-1.1v2.3M68.5 208.9h2.3m-1.1-1.1v2.3M69 197.6h2.3m-1.1-1.1v2.3M77.9 206.4h2.3m-1.1-1.1v2.3M66.4 222.6h2.3m-1.1-1.1v2.3M65.2 203.6h2.3m-1.1-1.1v2.3M78.8 214.2h2.3m-1.1-1.1v2.3M70.3 217h2.3m-1.1-1.1v2.3M72.9 208.9h2.3m-1.1-1.1v2.3M67.5 188.9h2.3m-1.1-1.1v2.3M73 199h2.3m-1.1-1.1v2.3M65.1 197.8h2.3m-1.1-1.1v2.3M69.7 192.2h2.3m-1.1-1.1v2.3M76.2 206.8h2.3m-1.1-1.1v2.3M76.9 211.9h2.3m-1.1-1.1v2.3M66.1 219.1h2.3m-1.1-1.1v2.3M61.7 228.6h2.3m-1.1-1.1v2.3M77.7 216.5h2.3m-1.1-1.1v2.3M61.8 203.8h2.3m-1.1-1.1v2.3M75.9 212.7h2.3m-1.1-1.1v2.3M64.6 193.5h2.3m-1.1-1.1v2.3M62 208.9h2.3m-1.1-1.1v2.3M64.1 204.8h2.3m-1.1-1.1v2.3M77 229.2h2.3m-1.1-1.1v2.3M69.7 222.9h2.3m-1.1-1.1v2.3M63.3 231.7h2.3m-1.1-1.1v2.3M76.4 206.8h2.3m-1.1-1.1v2.3M76.8 196.9h2.3m-1.1-1.1v2.3M78.5 198.3h2.3m-1.1-1.1v2.3M77.5 225.8h2.3m-1.1-1.1v2.3M77.7 219.9h2.3m-1.1-1.1v2.3M72.7 229.6h2.3m-1.1-1.1v2.3M73.1 183.1h2.3m-1.1-1.1v2.3M67.1 199.5h2.3m-1.1-1.1v2.3M63.9 193h2.3m-1.1-1.1v2.3M70.1 200.9h2.3m-1.1-1.1v2.3M65.7 203h2.3m-1.1-1.1v2.3M77.9 212.9h2.3m-1.1-1.1v2.3M74.4 230.9h2.3m-1.1-1.1v2.3M74.2 221.3h2.3m-1.1-1.1v2.3M71.9 206.5h2.3m-1.1-1.1v2.3M73.8 203.9h2.3m-1.1-1.1v2.3M64.3 192.7h2.3m-1.1-1.1v2.3M78 231.8h2.3m-1.1-1.1v2.3M67.1 203.1h2.3m-1.1-1.1v2.3M65.9 222.8h2.3m-1.1-1.1v2.3M69.7 190.1h2.3m-1.1-1.1v2.3M76.8 230.7h2.3m-1.1-1.1v2.3M61.7 205.6h2.3m-1.1-1.1v2.3M64.8 215.2h2.3m-1.1-1.1v2.3M67.3 196.9h2.3m-1.1-1.1v2.3M66.3 213.5h2.3m-1.1-1.1v2.3M69.9 207.1h2.3m-1.1-1.1v2.3" stroke="#3E4468" stroke-width="0.95" fill="none" stroke-opacity="0.75"/>
<path d="M69.6 171.2h2.3m-1.1-1.1v2.3M68.8 181.8h2.3m-1.1-1.1v2.3M68.3 184.1h2.3m-1.1-1.1v2.3M68.5 227.2h2.3m-1.1-1.1v2.3M53.9 233.6h2.3m-1.1-1.1v2.3M65.4 206.6h2.3m-1.1-1.1v2.3M75.3 203.9h2.3m-1.1-1.1v2.3M66.6 213.9h2.3m-1.1-1.1v2.3M67.9 193h2.3m-1.1-1.1v2.3M67.8 176.6h2.3m-1.1-1.1v2.3M78.1 204.7h2.3m-1.1-1.1v2.3M78.4 195h2.3m-1.1-1.1v2.3M65.7 201.2h2.3m-1.1-1.1v2.3M71.3 186.4h2.3m-1.1-1.1v2.3M69.1 177.5h2.3m-1.1-1.1v2.3M65.7 218h2.3m-1.1-1.1v2.3M78.4 173.9h2.3m-1.1-1.1v2.3M60.8 201.6h2.3m-1.1-1.1v2.3M76 203.4h2.3m-1.1-1.1v2.3M67.7 205.3h2.3m-1.1-1.1v2.3M62.5 220.1h2.3m-1.1-1.1v2.3M60.5 225.8h2.3m-1.1-1.1v2.3M76.8 181.8h2.3m-1.1-1.1v2.3M67.4 233.8h2.3m-1.1-1.1v2.3M77.2 195.1h2.3m-1.1-1.1v2.3M75.1 209.4h2.3m-1.1-1.1v2.3M70.2 227h2.3m-1.1-1.1v2.3M65.8 167.7h2.3m-1.1-1.1v2.3M67 159.8h2.3m-1.1-1.1v2.3M72.1 201.2h2.3m-1.1-1.1v2.3M64.9 220.6h2.3m-1.1-1.1v2.3M71.3 211.7h2.3m-1.1-1.1v2.3M78.2 169.9h2.3m-1.1-1.1v2.3M70.2 186.4h2.3m-1.1-1.1v2.3M73.6 232.6h2.3m-1.1-1.1v2.3M52.7 189.9h2.3m-1.1-1.1v2.3M54.8 182.3h2.3m-1.1-1.1v2.3M68.6 197h2.3m-1.1-1.1v2.3M55 216.6h2.3m-1.1-1.1v2.3M74.2 230.2h2.3m-1.1-1.1v2.3M75.2 192.4h2.3m-1.1-1.1v2.3M75.1 211.5h2.3m-1.1-1.1v2.3M75.4 230.8h2.3m-1.1-1.1v2.3M72.1 192.1h2.3m-1.1-1.1v2.3M76.9 199.3h2.3m-1.1-1.1v2.3M77 234.5h2.3m-1.1-1.1v2.3M77.3 159.4h2.3m-1.1-1.1v2.3M51.4 214.5h2.3m-1.1-1.1v2.3M52.2 204.7h2.3m-1.1-1.1v2.3M73.5 207h2.3m-1.1-1.1v2.3M70.1 213.4h2.3m-1.1-1.1v2.3M60.4 185.8h2.3m-1.1-1.1v2.3M76 190.2h2.3m-1.1-1.1v2.3M67 162.5h2.3m-1.1-1.1v2.3M65.3 218h2.3m-1.1-1.1v2.3M75.6 202.9h2.3m-1.1-1.1v2.3M64.8 199.6h2.3m-1.1-1.1v2.3M64.1 195h2.3m-1.1-1.1v2.3M64.5 179.4h2.3m-1.1-1.1v2.3M68.2 175.1h2.3m-1.1-1.1v2.3M77.5 159h2.3m-1.1-1.1v2.3M70.5 185.1h2.3m-1.1-1.1v2.3M71.7 233.1h2.3m-1.1-1.1v2.3M69.4 168h2.3m-1.1-1.1v2.3M78.6 228.5h2.3m-1.1-1.1v2.3M71.9 212.2h2.3m-1.1-1.1v2.3M67.1 228.7h2.3m-1.1-1.1v2.3M77.3 211.7h2.3m-1.1-1.1v2.3M68.7 189.6h2.3m-1.1-1.1v2.3M70.1 189.7h2.3m-1.1-1.1v2.3M59.5 192.5h2.3m-1.1-1.1v2.3M67 225.7h2.3m-1.1-1.1v2.3M72.4 186.8h2.3m-1.1-1.1v2.3M72.5 201.3h2.3m-1.1-1.1v2.3M75.4 194.6h2.3m-1.1-1.1v2.3M78.4 181.7h2.3m-1.1-1.1v2.3M77.8 210.7h2.3m-1.1-1.1v2.3M68.7 204.3h2.3m-1.1-1.1v2.3M59.3 220.7h2.3m-1.1-1.1v2.3M74.1 175.2h2.3m-1.1-1.1v2.3M62.8 166.4h2.3m-1.1-1.1v2.3M76.1 231.5h2.3m-1.1-1.1v2.3M74.7 189.3h2.3m-1.1-1.1v2.3M70.9 211.2h2.3m-1.1-1.1v2.3M58.6 231.2h2.3m-1.1-1.1v2.3M74.7 169.5h2.3m-1.1-1.1v2.3M70.1 191.5h2.3m-1.1-1.1v2.3M63.3 184.3h2.3m-1.1-1.1v2.3M70.3 163.7h2.3m-1.1-1.1v2.3M71.9 195.8h2.3m-1.1-1.1v2.3M70.8 220h2.3m-1.1-1.1v2.3M59.2 213.6h2.3m-1.1-1.1v2.3M61.1 233.9h2.3m-1.1-1.1v2.3M77 225.6h2.3m-1.1-1.1v2.3M65.1 222.1h2.3m-1.1-1.1v2.3M62.8 231h2.3m-1.1-1.1v2.3M71.9 234.1h2.3m-1.1-1.1v2.3M66.4 215h2.3m-1.1-1.1v2.3M76.4 197.3h2.3m-1.1-1.1v2.3M67.4 234h2.3m-1.1-1.1v2.3M75.2 217.4h2.3m-1.1-1.1v2.3M69.9 171.5h2.3m-1.1-1.1v2.3M73.5 187.8h2.3m-1.1-1.1v2.3M58.2 203.1h2.3m-1.1-1.1v2.3M64.9 201h2.3m-1.1-1.1v2.3M55.4 187.9h2.3m-1.1-1.1v2.3M67.2 189.5h2.3m-1.1-1.1v2.3M77.9 230.9h2.3m-1.1-1.1v2.3M73 206.5h2.3m-1.1-1.1v2.3M64.7 201.9h2.3m-1.1-1.1v2.3M75.8 231h2.3m-1.1-1.1v2.3M56.2 212.7h2.3m-1.1-1.1v2.3M64.3 183.1h2.3m-1.1-1.1v2.3M60.8 174.6h2.3m-1.1-1.1v2.3M68.1 229.6h2.3m-1.1-1.1v2.3M59.3 194.1h2.3m-1.1-1.1v2.3M69.4 183.3h2.3m-1.1-1.1v2.3M51.3 218.2h2.3m-1.1-1.1v2.3M75.9 172.4h2.3m-1.1-1.1v2.3M65.9 211.2h2.3m-1.1-1.1v2.3M65.4 197.6h2.3m-1.1-1.1v2.3M74.4 182h2.3m-1.1-1.1v2.3M73.5 213.5h2.3m-1.1-1.1v2.3M63.5 201.9h2.3m-1.1-1.1v2.3M60.9 182.8h2.3m-1.1-1.1v2.3M71.6 189.6h2.3m-1.1-1.1v2.3M70 187.4h2.3m-1.1-1.1v2.3M70.3 179h2.3m-1.1-1.1v2.3M76.8 202.3h2.3m-1.1-1.1v2.3M78.4 182.1h2.3m-1.1-1.1v2.3M78.4 164.5h2.3m-1.1-1.1v2.3M75.8 178.6h2.3m-1.1-1.1v2.3M69.4 200.4h2.3m-1.1-1.1v2.3M59.8 220.7h2.3m-1.1-1.1v2.3M67.4 213.9h2.3m-1.1-1.1v2.3M68 232h2.3m-1.1-1.1v2.3M78.2 169.1h2.3m-1.1-1.1v2.3M74.8 197.9h2.3m-1.1-1.1v2.3M56.4 226h2.3m-1.1-1.1v2.3M70.5 194.9h2.3m-1.1-1.1v2.3M62.6 189.8h2.3m-1.1-1.1v2.3M57.7 204.3h2.3m-1.1-1.1v2.3M64.2 173.9h2.3m-1.1-1.1v2.3M75.4 180.4h2.3m-1.1-1.1v2.3M75.7 198.8h2.3m-1.1-1.1v2.3M73.4 206.8h2.3m-1.1-1.1v2.3M56.2 200.1h2.3m-1.1-1.1v2.3M76.8 196.2h2.3m-1.1-1.1v2.3M78.3 204.7h2.3m-1.1-1.1v2.3M73.9 205.2h2.3m-1.1-1.1v2.3M74.9 180.8h2.3m-1.1-1.1v2.3M62.1 171.7h2.3m-1.1-1.1v2.3M72.4 222.6h2.3m-1.1-1.1v2.3M72.5 181.9h2.3m-1.1-1.1v2.3M75.8 176.3h2.3m-1.1-1.1v2.3M60.2 226.5h2.3m-1.1-1.1v2.3M75.9 209.4h2.3m-1.1-1.1v2.3M71 224.8h2.3m-1.1-1.1v2.3M64.3 195.8h2.3m-1.1-1.1v2.3M77.6 167.6h2.3m-1.1-1.1v2.3M77 176h2.3m-1.1-1.1v2.3M77.4 191.9h2.3m-1.1-1.1v2.3M57.8 200.1h2.3m-1.1-1.1v2.3M76.4 228.9h2.3m-1.1-1.1v2.3M65.4 211.7h2.3m-1.1-1.1v2.3M59.6 212.8h2.3m-1.1-1.1v2.3M57.8 174.9h2.3m-1.1-1.1v2.3M74.5 180.5h2.3m-1.1-1.1v2.3M72.8 178.7h2.3m-1.1-1.1v2.3M76.1 178.7h2.3m-1.1-1.1v2.3M74.6 220.4h2.3m-1.1-1.1v2.3M72.1 197h2.3m-1.1-1.1v2.3M78.2 234h2.3m-1.1-1.1v2.3M73.1 230.5h2.3m-1.1-1.1v2.3M77.4 181.3h2.3m-1.1-1.1v2.3M71 232.6h2.3m-1.1-1.1v2.3M72.3 220.8h2.3m-1.1-1.1v2.3M66.6 229.7h2.3m-1.1-1.1v2.3M71.2 206.4h2.3m-1.1-1.1v2.3M72.1 229.6h2.3m-1.1-1.1v2.3M65.4 217.7h2.3m-1.1-1.1v2.3M74.8 171.1h2.3m-1.1-1.1v2.3M69.2 174.6h2.3m-1.1-1.1v2.3M78.2 187.7h2.3m-1.1-1.1v2.3M57.4 225.1h2.3m-1.1-1.1v2.3M73.6 176.2h2.3m-1.1-1.1v2.3M65.9 232.8h2.3m-1.1-1.1v2.3M74.6 222.2h2.3m-1.1-1.1v2.3M61.6 195.9h2.3m-1.1-1.1v2.3M66.1 169.7h2.3m-1.1-1.1v2.3M72.1 167h2.3m-1.1-1.1v2.3M60.1 211.6h2.3m-1.1-1.1v2.3M75.6 232.4h2.3m-1.1-1.1v2.3M68.1 233.6h2.3m-1.1-1.1v2.3M73.7 207.8h2.3m-1.1-1.1v2.3M76.9 233h2.3m-1.1-1.1v2.3M51.8 214.9h2.3m-1.1-1.1v2.3M73.4 204.3h2.3m-1.1-1.1v2.3M77.1 224.2h2.3m-1.1-1.1v2.3M66.9 198.9h2.3m-1.1-1.1v2.3M68.9 188.6h2.3m-1.1-1.1v2.3M73.9 186.3h2.3m-1.1-1.1v2.3M72.6 221.3h2.3m-1.1-1.1v2.3M66.3 192.7h2.3m-1.1-1.1v2.3M64 176.9h2.3m-1.1-1.1v2.3M77.5 225.5h2.3m-1.1-1.1v2.3M67.3 203.3h2.3m-1.1-1.1v2.3M65.4 232.1h2.3m-1.1-1.1v2.3M69.1 195.7h2.3m-1.1-1.1v2.3M71.9 218.4h2.3m-1.1-1.1v2.3M66.8 179.3h2.3m-1.1-1.1v2.3M78.1 184.2h2.3m-1.1-1.1v2.3M60.4 196.1h2.3m-1.1-1.1v2.3M71.8 223.8h2.3m-1.1-1.1v2.3M78.4 207.2h2.3m-1.1-1.1v2.3M78.2 230.8h2.3m-1.1-1.1v2.3M63.8 211h2.3m-1.1-1.1v2.3M75.4 215.1h2.3m-1.1-1.1v2.3M78.8 177.7h2.3m-1.1-1.1v2.3M65.6 184.4h2.3m-1.1-1.1v2.3M73.3 228.7h2.3m-1.1-1.1v2.3M70.5 224.8h2.3m-1.1-1.1v2.3M55.4 234.5h2.3m-1.1-1.1v2.3M74.9 172.3h2.3m-1.1-1.1v2.3M73.6 194.1h2.3m-1.1-1.1v2.3M71.2 223.8h2.3m-1.1-1.1v2.3M68 229.4h2.3m-1.1-1.1v2.3M70.9 200.8h2.3m-1.1-1.1v2.3M75 213.9h2.3m-1.1-1.1v2.3M51.6 233.2h2.3m-1.1-1.1v2.3M68.6 176.4h2.3m-1.1-1.1v2.3M68.4 206.4h2.3m-1.1-1.1v2.3M78.8 181.7h2.3m-1.1-1.1v2.3M63.6 193.2h2.3m-1.1-1.1v2.3M67.5 183.8h2.3m-1.1-1.1v2.3M66.9 203.1h2.3m-1.1-1.1v2.3M77.9 184.8h2.3m-1.1-1.1v2.3M76.3 202.1h2.3m-1.1-1.1v2.3M70.4 189.5h2.3m-1.1-1.1v2.3M63.4 185.1h2.3m-1.1-1.1v2.3M76.9 230.9h2.3m-1.1-1.1v2.3M59.3 203.7h2.3m-1.1-1.1v2.3M54.3 198.5h2.3m-1.1-1.1v2.3M68 178.6h2.3m-1.1-1.1v2.3M78.8 159.1h2.3m-1.1-1.1v2.3M69.5 170.3h2.3m-1.1-1.1v2.3M75.7 193.1h2.3m-1.1-1.1v2.3M52.4 212.5h2.3m-1.1-1.1v2.3M66.8 212.2h2.3m-1.1-1.1v2.3M64.2 171.3h2.3m-1.1-1.1v2.3M76.7 178.6h2.3m-1.1-1.1v2.3M68.4 229.2h2.3m-1.1-1.1v2.3M65.7 208h2.3m-1.1-1.1v2.3M76.7 190.5h2.3m-1.1-1.1v2.3M69.6 193.3h2.3m-1.1-1.1v2.3M75.9 204.8h2.3m-1.1-1.1v2.3M75.1 213.6h2.3m-1.1-1.1v2.3M77.5 230.3h2.3m-1.1-1.1v2.3M67.4 217.3h2.3m-1.1-1.1v2.3M74.3 233.4h2.3m-1.1-1.1v2.3M52.5 226.4h2.3m-1.1-1.1v2.3M63.3 222.3h2.3m-1.1-1.1v2.3M55.4 207.1h2.3m-1.1-1.1v2.3M74.5 214.7h2.3m-1.1-1.1v2.3M69.2 206.1h2.3m-1.1-1.1v2.3M54.2 217.1h2.3m-1.1-1.1v2.3M67.4 217.7h2.3m-1.1-1.1v2.3M78.4 211h2.3m-1.1-1.1v2.3M77.5 174.7h2.3m-1.1-1.1v2.3M65 197.9h2.3m-1.1-1.1v2.3M72.1 218.7h2.3m-1.1-1.1v2.3M78.4 222.4h2.3m-1.1-1.1v2.3M78.3 196.2h2.3m-1.1-1.1v2.3M57.9 203.9h2.3m-1.1-1.1v2.3M76.8 189.6h2.3m-1.1-1.1v2.3M60 197.1h2.3m-1.1-1.1v2.3M56.5 231.6h2.3m-1.1-1.1v2.3M62 224h2.3m-1.1-1.1v2.3M73.7 216.3h2.3m-1.1-1.1v2.3M54.6 228.5h2.3m-1.1-1.1v2.3M78.8 199.3h2.3m-1.1-1.1v2.3M71.2 172.5h2.3m-1.1-1.1v2.3M48.7 221.7h2.3m-1.1-1.1v2.3M50.4 219.6h2.3m-1.1-1.1v2.3M50.4 222.4h2.3m-1.1-1.1v2.3M70.4 233.4h2.3m-1.1-1.1v2.3M78.3 210.3h2.3m-1.1-1.1v2.3M60.9 168.4h2.3m-1.1-1.1v2.3M74.1 227.6h2.3m-1.1-1.1v2.3M77.1 188.9h2.3m-1.1-1.1v2.3M74.1 204.9h2.3m-1.1-1.1v2.3M71.3 177.4h2.3m-1.1-1.1v2.3M73.2 180.7h2.3m-1.1-1.1v2.3M64.9 184.8h2.3m-1.1-1.1v2.3M61.5 198.5h2.3m-1.1-1.1v2.3M62.9 231h2.3m-1.1-1.1v2.3M67.3 233.5h2.3m-1.1-1.1v2.3M76.8 196.3h2.3m-1.1-1.1v2.3M68 216.2h2.3m-1.1-1.1v2.3M68.8 211.9h2.3m-1.1-1.1v2.3M75.1 203.8h2.3m-1.1-1.1v2.3M67.1 183h2.3m-1.1-1.1v2.3M76.1 172.6h2.3m-1.1-1.1v2.3M65.8 195h2.3m-1.1-1.1v2.3M55.6 216.2h2.3m-1.1-1.1v2.3M62.3 164.6h2.3m-1.1-1.1v2.3M78.2 190.5h2.3m-1.1-1.1v2.3M59.6 196.2h2.3m-1.1-1.1v2.3M73.5 166.9h2.3m-1.1-1.1v2.3M74.1 180.6h2.3m-1.1-1.1v2.3M56.7 208.4h2.3m-1.1-1.1v2.3M70 169.1h2.3m-1.1-1.1v2.3M61.1 182.6h2.3m-1.1-1.1v2.3M67 225.8h2.3m-1.1-1.1v2.3M77.6 214.6h2.3m-1.1-1.1v2.3M72 220.3h2.3m-1.1-1.1v2.3M75.9 210.5h2.3m-1.1-1.1v2.3M72.4 202.6h2.3m-1.1-1.1v2.3M71.2 227.5h2.3m-1.1-1.1v2.3M69.8 173h2.3m-1.1-1.1v2.3M68.6 205h2.3m-1.1-1.1v2.3M77.7 222.8h2.3m-1.1-1.1v2.3M68.2 162.9h2.3m-1.1-1.1v2.3M77.5 182.2h2.3m-1.1-1.1v2.3M77.2 195h2.3m-1.1-1.1v2.3M52.1 229.1h2.3m-1.1-1.1v2.3M52.9 233.7h2.3m-1.1-1.1v2.3M77.5 234h2.3m-1.1-1.1v2.3M64.1 227.2h2.3m-1.1-1.1v2.3M54.2 195.7h2.3m-1.1-1.1v2.3M66.4 214.1h2.3m-1.1-1.1v2.3M70.6 174.8h2.3m-1.1-1.1v2.3M76.7 221.4h2.3m-1.1-1.1v2.3M78.7 233.9h2.3m-1.1-1.1v2.3M74.8 195.2h2.3m-1.1-1.1v2.3M73.1 231.4h2.3m-1.1-1.1v2.3M74.9 214.1h2.3m-1.1-1.1v2.3M71.8 205.9h2.3m-1.1-1.1v2.3M68.2 200.8h2.3m-1.1-1.1v2.3M66.6 218.5h2.3m-1.1-1.1v2.3M70.5 210.9h2.3m-1.1-1.1v2.3M66.7 217.8h2.3m-1.1-1.1v2.3M66.3 218.6h2.3m-1.1-1.1v2.3M65.4 227.4h2.3m-1.1-1.1v2.3M76 158.1h2.3m-1.1-1.1v2.3M66 188.1h2.3m-1.1-1.1v2.3M57.8 202.1h2.3m-1.1-1.1v2.3M75.3 202.2h2.3m-1.1-1.1v2.3M73 157.1h2.3m-1.1-1.1v2.3M73.1 194.6h2.3m-1.1-1.1v2.3M74.5 175.9h2.3m-1.1-1.1v2.3M72.4 211.6h2.3m-1.1-1.1v2.3M75 177.4h2.3m-1.1-1.1v2.3M67.9 196.4h2.3m-1.1-1.1v2.3M77.8 213.1h2.3m-1.1-1.1v2.3M51.8 221.9h2.3m-1.1-1.1v2.3M71.1 233.8h2.3m-1.1-1.1v2.3M72.4 175.6h2.3m-1.1-1.1v2.3M64.6 213h2.3m-1.1-1.1v2.3M62.8 193.9h2.3m-1.1-1.1v2.3M77.2 224.1h2.3m-1.1-1.1v2.3M78.6 213.3h2.3m-1.1-1.1v2.3M68.5 209h2.3m-1.1-1.1v2.3M78.5 227.6h2.3m-1.1-1.1v2.3M70.7 190.9h2.3m-1.1-1.1v2.3M75.2 226.2h2.3m-1.1-1.1v2.3M62.7 194.4h2.3m-1.1-1.1v2.3M66.2 180.5h2.3m-1.1-1.1v2.3M78.7 215h2.3m-1.1-1.1v2.3M73.3 217.6h2.3m-1.1-1.1v2.3M76 232.2h2.3m-1.1-1.1v2.3M77.9 176.7h2.3m-1.1-1.1v2.3M76.7 203.8h2.3m-1.1-1.1v2.3M74.6 180.7h2.3m-1.1-1.1v2.3M67.1 182.8h2.3m-1.1-1.1v2.3M66.3 217h2.3m-1.1-1.1v2.3M68.3 174.6h2.3m-1.1-1.1v2.3M78 173.5h2.3m-1.1-1.1v2.3M75.5 214.6h2.3m-1.1-1.1v2.3M73.5 216.3h2.3m-1.1-1.1v2.3M65.6 176.7h2.3m-1.1-1.1v2.3M53.6 217.9h2.3m-1.1-1.1v2.3M68.2 209.2h2.3m-1.1-1.1v2.3M76.6 203.3h2.3m-1.1-1.1v2.3M67.2 221.4h2.3m-1.1-1.1v2.3M77.1 169.2h2.3m-1.1-1.1v2.3M70.5 212.7h2.3m-1.1-1.1v2.3M61.6 192.2h2.3m-1.1-1.1v2.3M78.5 228.7h2.3m-1.1-1.1v2.3M78.6 182.7h2.3m-1.1-1.1v2.3M61.8 193.1h2.3m-1.1-1.1v2.3M71.1 214.4h2.3m-1.1-1.1v2.3M78.2 213.1h2.3m-1.1-1.1v2.3M78.8 210.8h2.3m-1.1-1.1v2.3M56.1 198.6h2.3m-1.1-1.1v2.3M68.9 226h2.3m-1.1-1.1v2.3M74.8 173.2h2.3m-1.1-1.1v2.3M67.9 175.2h2.3m-1.1-1.1v2.3M76.2 193.3h2.3m-1.1-1.1v2.3M70.8 184.6h2.3m-1.1-1.1v2.3M67.8 227.8h2.3m-1.1-1.1v2.3M78 185.3h2.3m-1.1-1.1v2.3M61.5 183.6h2.3m-1.1-1.1v2.3M68.9 184.3h2.3m-1.1-1.1v2.3M61.7 231.3h2.3m-1.1-1.1v2.3M72.6 178.2h2.3m-1.1-1.1v2.3M71.5 233.8h2.3m-1.1-1.1v2.3M75.7 159.3h2.3m-1.1-1.1v2.3M73.7 192.7h2.3m-1.1-1.1v2.3M66.9 169h2.3m-1.1-1.1v2.3M65.7 191h2.3m-1.1-1.1v2.3M78.4 216.8h2.3m-1.1-1.1v2.3M65.8 198.8h2.3m-1.1-1.1v2.3M60.2 172.2h2.3m-1.1-1.1v2.3M78.6 184h2.3m-1.1-1.1v2.3M75.5 168.8h2.3m-1.1-1.1v2.3M70 209.7h2.3m-1.1-1.1v2.3M70 191.1h2.3m-1.1-1.1v2.3M70.1 216.6h2.3m-1.1-1.1v2.3M62.3 220.7h2.3m-1.1-1.1v2.3M62.1 184.1h2.3m-1.1-1.1v2.3M61.5 206h2.3m-1.1-1.1v2.3M66.6 180.8h2.3m-1.1-1.1v2.3M67.1 203.3h2.3m-1.1-1.1v2.3M72.4 200.4h2.3m-1.1-1.1v2.3M58.2 185.8h2.3m-1.1-1.1v2.3M71.3 214.4h2.3m-1.1-1.1v2.3M65.6 212.7h2.3m-1.1-1.1v2.3M78.5 191.4h2.3m-1.1-1.1v2.3M69.2 169.5h2.3m-1.1-1.1v2.3M71.3 206h2.3m-1.1-1.1v2.3M54.8 204.9h2.3m-1.1-1.1v2.3M60.3 228.8h2.3m-1.1-1.1v2.3M65.9 214.9h2.3m-1.1-1.1v2.3M76.4 209h2.3m-1.1-1.1v2.3M73.7 183.9h2.3m-1.1-1.1v2.3M60.5 229.1h2.3m-1.1-1.1v2.3M61.4 207.5h2.3m-1.1-1.1v2.3M75.5 213.8h2.3m-1.1-1.1v2.3M63.2 203.1h2.3m-1.1-1.1v2.3" stroke="#3E4468" stroke-width="0.95" fill="none" stroke-opacity="0.75"/>
<path d="M50 232.9h2.3m-1.1-1.1v2.3M47.4 224.7h2.3m-1.1-1.1v2.3M43.3 200.9h2.3m-1.1-1.1v2.3M47.7 228.5h2.3m-1.1-1.1v2.3M48.6 196.6h2.3m-1.1-1.1v2.3M47.9 199.4h2.3m-1.1-1.1v2.3M49.4 214.2h2.3m-1.1-1.1v2.3M42.6 202.3h2.3m-1.1-1.1v2.3M50.5 223.7h2.3m-1.1-1.1v2.3M48.5 211.8h2.3m-1.1-1.1v2.3M41.2 207.5h2.3m-1.1-1.1v2.3M46.5 213.8h2.3m-1.1-1.1v2.3M50.8 195.8h2.3m-1.1-1.1v2.3M46.9 194.7h2.3m-1.1-1.1v2.3M40.9 218.7h2.3m-1.1-1.1v2.3M45 228.4h2.3m-1.1-1.1v2.3M40.4 205.8h2.3m-1.1-1.1v2.3M42.9 203.1h2.3m-1.1-1.1v2.3M47.7 204.8h2.3m-1.1-1.1v2.3" stroke="#3E4468" stroke-width="0.95" fill="none" stroke-opacity="0.75"/>
<path d="M43.1 154.4h2.3m-1.1-1.1v2.3M43.1 165.3h2.3m-1.1-1.1v2.3M60.9 159h2.3m-1.1-1.1v2.3M63.9 158.5h2.3m-1.1-1.1v2.3M70.8 157.5h2.3m-1.1-1.1v2.3M45.9 172h2.3m-1.1-1.1v2.3M51.9 185h2.3m-1.1-1.1v2.3M22.9 215.5h2.3m-1.1-1.1v2.3M25.9 213h2.3m-1.1-1.1v2.3M29.4 211.5h2.3m-1.1-1.1v2.3M32.4 218h2.3m-1.1-1.1v2.3M33.9 215.5h2.3m-1.1-1.1v2.3M34.9 222h2.3m-1.1-1.1v2.3M36.9 219h2.3m-1.1-1.1v2.3M24.4 219h2.3m-1.1-1.1v2.3M48.9 204h2.3m-1.1-1.1v2.3M50.9 207h2.3m-1.1-1.1v2.3M47.9 200h2.3m-1.1-1.1v2.3" stroke="#3E4468" stroke-width="0.95" fill="none" stroke-opacity="0.75"/>
<path d="M108.1 232.1h2.3m-1.1-1.1v2.3M103.8 230.7h2.3m-1.1-1.1v2.3M109.3 228h2.3m-1.1-1.1v2.3M108.6 225.4h2.3m-1.1-1.1v2.3M104.5 231.4h2.3m-1.1-1.1v2.3M107.1 226.2h2.3m-1.1-1.1v2.3M105.5 230.4h2.3m-1.1-1.1v2.3M111.9 230.2h2.3m-1.1-1.1v2.3M103.2 228.4h2.3m-1.1-1.1v2.3M108.2 225.4h2.3m-1.1-1.1v2.3M112.5 227.9h2.3m-1.1-1.1v2.3M113.8 228.9h2.3m-1.1-1.1v2.3M106 233h2.3m-1.1-1.1v2.3M103.6 227.3h2.3m-1.1-1.1v2.3M107.6 224.7h2.3m-1.1-1.1v2.3M111.1 226.8h2.3m-1.1-1.1v2.3M115.1 233.5h2.3m-1.1-1.1v2.3M111.5 231.3h2.3m-1.1-1.1v2.3M105.8 227.2h2.3m-1.1-1.1v2.3M115.7 233.8h2.3m-1.1-1.1v2.3M107.6 231.2h2.3m-1.1-1.1v2.3M108.3 233.8h2.3m-1.1-1.1v2.3M110.4 230.9h2.3m-1.1-1.1v2.3M106.5 234.2h2.3m-1.1-1.1v2.3M112.2 227.5h2.3m-1.1-1.1v2.3M110.7 228.3h2.3m-1.1-1.1v2.3M109.2 227.3h2.3m-1.1-1.1v2.3M114.9 231.7h2.3m-1.1-1.1v2.3M103.6 230.2h2.3m-1.1-1.1v2.3M109.8 227.6h2.3m-1.1-1.1v2.3M110 231h2.3m-1.1-1.1v2.3M108.5 230.2h2.3m-1.1-1.1v2.3M110.6 229.8h2.3m-1.1-1.1v2.3M109.6 225.8h2.3m-1.1-1.1v2.3M106.4 230.9h2.3m-1.1-1.1v2.3M103.5 228.5h2.3m-1.1-1.1v2.3M115.1 233.2h2.3m-1.1-1.1v2.3M105.7 230.2h2.3m-1.1-1.1v2.3M103.8 232.4h2.3m-1.1-1.1v2.3M103.7 233.9h2.3m-1.1-1.1v2.3M107.5 226.9h2.3m-1.1-1.1v2.3M107.3 224.8h2.3m-1.1-1.1v2.3M107.5 225.8h2.3m-1.1-1.1v2.3M103.3 228.7h2.3m-1.1-1.1v2.3M113.7 231.8h2.3m-1.1-1.1v2.3M109.9 224.8h2.3m-1.1-1.1v2.3M108.8 226.3h2.3m-1.1-1.1v2.3M108.8 233.2h2.3m-1.1-1.1v2.3M105.4 229.4h2.3m-1.1-1.1v2.3M108.9 228.4h2.3m-1.1-1.1v2.3M103.8 233.6h2.3m-1.1-1.1v2.3M114.1 228.5h2.3m-1.1-1.1v2.3M103.6 234.4h2.3m-1.1-1.1v2.3M107.5 224h2.3m-1.1-1.1v2.3M105.7 227.2h2.3m-1.1-1.1v2.3M113.7 234.1h2.3m-1.1-1.1v2.3M106.4 224.8h2.3m-1.1-1.1v2.3M104.4 234.3h2.3m-1.1-1.1v2.3M109 224.9h2.3m-1.1-1.1v2.3M106.9 229.1h2.3m-1.1-1.1v2.3M111 229.4h2.3m-1.1-1.1v2.3M112.9 228.4h2.3m-1.1-1.1v2.3" stroke="#E6765B" stroke-width="0.95" fill="none" stroke-opacity="0.75"/>
<path d="M107 207.9h2.3m-1.1-1.1v2.3M104.1 208.2h2.3m-1.1-1.1v2.3M103.8 212.9h2.3m-1.1-1.1v2.3M108.1 213.8h2.3m-1.1-1.1v2.3M123.1 213.4h2.3m-1.1-1.1v2.3M104.1 219.3h2.3m-1.1-1.1v2.3M122.5 231h2.3m-1.1-1.1v2.3M143.9 195.7h2.3m-1.1-1.1v2.3M104.8 222h2.3m-1.1-1.1v2.3M110.8 221h2.3m-1.1-1.1v2.3M112.8 225h2.3m-1.1-1.1v2.3M116.8 231h2.3m-1.1-1.1v2.3" stroke="#E6765B" stroke-width="0.95" fill="none" stroke-opacity="0.75"/>
<line x1="19" y1="234.2" x2="150" y2="234.2" stroke="#505050" stroke-width="1.25" stroke-dasharray="3.3 2.54"/>
<text x="35.7" y="154.8" font-size="3.4" fill="#3E4468" text-anchor="middle">MT-ACO</text>
<text x="60" y="157.6" font-size="3.4" fill="#3E4468" text-anchor="middle">TBL1XR1</text>
<text x="77" y="157.2" font-size="3.4" fill="#3E4468" text-anchor="middle">PNMA3</text>
<text x="53.6" y="165.8" font-size="3.4" fill="#3E4468" text-anchor="middle">MT-ND6</text>
<text x="73.7" y="168.2" font-size="3.4" fill="#3E4468" text-anchor="middle">ASB9P</text>
<text x="127.3" y="196.9" font-size="3.4" fill="#E6765B" text-anchor="middle">ENSG00000288623</text>
<text x="113.9" y="205.7" font-size="3.4" fill="#E6765B" text-anchor="middle">LY6E</text>
<text x="98" y="210.2" font-size="3.4" fill="#E6765B" text-anchor="middle">MT1A</text>
<text x="111" y="218.4" font-size="3.4" fill="#E6765B" text-anchor="middle">ZNF350</text>
<text x="129.8" y="218.8" font-size="3.4" fill="#E6765B" text-anchor="middle">TMEM158</text>
<line x1="16.7" y1="240.6" x2="18.5" y2="240.6" stroke="#333333" stroke-width="0.9"/>
<text x="15.9" y="242.4" font-size="5.0" fill="#555555" text-anchor="end">0</text>
<line x1="16.7" y1="216" x2="18.5" y2="216" stroke="#333333" stroke-width="0.9"/>
<text x="15.9" y="217.8" font-size="5.0" fill="#555555" text-anchor="end">5</text>
<line x1="16.7" y1="191.5" x2="18.5" y2="191.5" stroke="#333333" stroke-width="0.9"/>
<text x="15.9" y="193.3" font-size="5.0" fill="#555555" text-anchor="end">10</text>
<line x1="16.7" y1="166.9" x2="18.5" y2="166.9" stroke="#333333" stroke-width="0.9"/>
<text x="15.9" y="168.8" font-size="5.0" fill="#555555" text-anchor="end">15</text>
<line x1="31.3" y1="244.5" x2="31.3" y2="246.3" stroke="#333333" stroke-width="0.9"/>
<text x="31.3" y="251.1" font-size="5.0" fill="#555555" text-anchor="middle">-5.0</text>
<line x1="62" y1="244.5" x2="62" y2="246.3" stroke="#333333" stroke-width="0.9"/>
<text x="62" y="251.1" font-size="5.0" fill="#555555" text-anchor="middle">-2.5</text>
<line x1="92.6" y1="244.5" x2="92.6" y2="246.3" stroke="#333333" stroke-width="0.9"/>
<text x="92.6" y="251.1" font-size="5.0" fill="#555555" text-anchor="middle">0.0</text>
<line x1="123.2" y1="244.5" x2="123.2" y2="246.3" stroke="#333333" stroke-width="0.9"/>
<text x="123.2" y="251.1" font-size="5.0" fill="#555555" text-anchor="middle">2.5</text>
<text x="84.5" y="146.4" font-size="5.85" fill="#000" text-anchor="middle">mRNA Vocano Plot (edgeR)</text>
<text x="84.5" y="258.5" font-size="6.3" fill="#000" text-anchor="middle">log2FC</text>
<text transform="translate(6.8 197.5) rotate(-90)" font-size="6.3" text-anchor="middle" fill="#000">-log10(P-value)</text>
<text x="1.9" y="149.9" font-size="12.5" fill="#000" text-anchor="start">E</text>
<rect x="18.5" y="150.5" width="132" height="94" fill="none" stroke="#9a9a9a" stroke-width="1"/>
<path d="M265.6 236.3h0M240.2 197.4h0M276.5 221.8h0M260.1 240.2h0M246.8 218.9h0M273.7 233.5h0M258.6 239.4h0M248.7 233.5h0M265 238.3h0M273.3 218.8h0M265.7 238.2h0M244.1 215.7h0M276.7 231.4h0M271.1 229.6h0M266.2 236.9h0M264.2 236.4h0M274.2 212.3h0M255.6 238h0M243.6 233.2h0M279.9 217.7h0M249.5 235.4h0M246.6 235.5h0M270.4 233.2h0M262 238.7h0M256 238.9h0M257.5 238.8h0M272.3 223.5h0M271.1 221.5h0M254.1 232.8h0M260.7 240h0M259.5 240h0M258.4 238.1h0M248.1 232h0M281 198.7h0M252.2 226.9h0M267.8 238h0M271.1 234.6h0M264 237.3h0M268.4 237.7h0M259.1 239.9h0M248.9 229.3h0M239.7 228.9h0M263.9 237.7h0M247.3 232.6h0M256.1 238.6h0M262.6 238h0M240.7 188.3h0M261.6 238.3h0M270.7 228.1h0M270.5 225.3h0M235.8 178.1h0M267.7 233.4h0M271.2 224.1h0M249.6 230.9h0M254 234.8h0M260.9 239.6h0M263.4 238.7h0M250.9 237.3h0M269.6 234h0M255.1 235.5h0M249.8 235.5h0M267.8 237.7h0M259.8 240h0M261.3 238.9h0M278.9 182.5h0M263.7 238.7h0M243.1 232h0M280.1 166.4h0M269.6 234.1h0M285.3 197.6h0M264.2 237.6h0M240.2 214.8h0M268.6 226h0M266.3 236.8h0M255.2 237.7h0M256.3 235.1h0M272.7 227.7h0M269.9 236.6h0M248.2 214.9h0M247.6 234.6h0M273.4 235h0M267.8 237.6h0M269.6 235h0M252.5 237h0M277.4 232.7h0M280.3 212.4h0M262.3 238.4h0M248.2 233.5h0M278.5 233.2h0M267.9 231.1h0M264.4 238.7h0M258.4 238.8h0M271.6 236h0M257.6 236.9h0M277.7 226.4h0M270.6 232.1h0M266.8 234h0M261.5 238.6h0M279 232.4h0M259.3 239.9h0M257.6 239.2h0M263.8 235.5h0M248.2 229.6h0M256.5 235.3h0M272.1 207.3h0M266.1 236.2h0M265.4 233.2h0M267.4 235.5h0M254.1 232.9h0M265.2 237.2h0M269.9 223.2h0M253.9 234h0M261 239.9h0M274.5 228.1h0M263.8 237.3h0M269.2 232h0M229.3 197.2h0M283.2 220.1h0M256.7 239h0M244.5 218.6h0M245.2 206.6h0M234.3 213.9h0M257.1 236.1h0M262.7 239.2h0M273.3 208.2h0M271.6 226.6h0M273.7 233.3h0M262.9 237.5h0M237.1 189.2h0M250.1 231.4h0M256.5 236.1h0M238.2 221.7h0M264 239.1h0M263.8 234.9h0M276.3 228.9h0M251.2 235.8h0M254.8 236.2h0M252.7 230h0M272.3 234.2h0M245.2 210.5h0M253 237.2h0M255.4 238.3h0M277.5 227.9h0M259.6 240h0M272.5 205.7h0M268.4 231.8h0M280.1 158.7h0M278.3 232.4h0M271.3 235.3h0M256.3 234.7h0M261.1 239.1h0M261.3 238.7h0M262.3 239.1h0M255.9 236.2h0M267.9 228.7h0M268.7 237.6h0M249 231.9h0M270 233.9h0M251.4 225.1h0M261.2 239.9h0M264.4 238.6h0M271.4 231.9h0M279.3 218.9h0M253.6 230.2h0M249.6 236h0M253.2 235.5h0M253.1 234.9h0M241 230.3h0M265.3 238.6h0M256.3 239h0M266.3 233.1h0M252.1 227h0M245.1 219.4h0M275.9 183.7h0M258.5 239.5h0M264.4 238.5h0M264.4 236.8h0M258 237.9h0M278 221.4h0M248.8 236.3h0M241 217.7h0M257.7 238.4h0M281.4 219.3h0M259.4 240h0M248.4 211.5h0M244.1 198.8h0M271.8 233.8h0M269.7 223.5h0M254.6 237.6h0M259.9 240.1h0M286.7 215.1h0M276.2 197.8h0M256.2 238.6h0M265.3 238.5h0M263.3 238.6h0M266.4 237.9h0M259.2 239.4h0M247.8 231.6h0M240.8 221.5h0M265.6 237.8h0M275.4 233.9h0M257.3 237.7h0M260.3 240.1h0M256.3 236.6h0M261.2 239.8h0M248.5 214.4h0M270.4 235.8h0M245.4 206h0M275.1 229.9h0M249 210.7h0M262.3 239h0M262.8 238.4h0M255.7 232.9h0M289.4 211.6h0M259 239.6h0M265.2 237.9h0M262.5 239.3h0M282.1 207.7h0M258.6 238.9h0M250.2 232.8h0M257.4 239.4h0M230.2 213.4h0M269.2 220.2h0M259.8 240.1h0M243.8 180h0M269.5 233.2h0M251.1 225.7h0M261.9 238.5h0M260.5 239.9h0M262.3 239.3h0M263.3 238.9h0M265.8 237.6h0M254.8 237.3h0M279.2 208.9h0M272.2 217.5h0M270.4 224.2h0M283.1 200h0M250.1 234.2h0M257.1 236.3h0M246.8 230.6h0M266.4 236.6h0M258.2 239.7h0M275.8 223.4h0M247 218.5h0M243.5 209h0M269.3 231.6h0M258.4 239h0M274 234.5h0M259.5 239.7h0M257.3 237.9h0M275.9 229h0M255.6 234.1h0M259.9 240.1h0M253.3 232.4h0M258.6 238.4h0M259.1 239.6h0M269.6 233.9h0M270.7 234.8h0M246 217.4h0M242.2 232.1h0M260.6 239.8h0M263.7 238.1h0M260.4 240.1h0M271.2 233.1h0M276.1 232.8h0M264.4 238.6h0M257 236.6h0M268.3 233.8h0M267.7 226h0M259 239.1h0M266.9 228.9h0M267.8 232h0M261.3 239.5h0M254.9 236.6h0M245.7 218.9h0M254.6 233.2h0M255.3 233.6h0M257.1 237.3h0M254.8 235.5h0M245.3 228.4h0M253.8 236.6h0M268.7 236h0M283 202.6h0M248.5 215.5h0M268.9 235.1h0M268.8 233.5h0M254 233.3h0M269.2 230.5h0M254.3 237.5h0M243.3 218.2h0M277.4 225h0M255.1 236.7h0M274 205.2h0M265.1 237.3h0M255.9 238.2h0M250.4 231.5h0M262 239.7h0M283.1 217.3h0M261.8 239.2h0M249.8 235.8h0M248 236.1h0M249.8 228.6h0M259.1 239.9h0M255.9 237.9h0M260.6 239.7h0M250.9 234.4h0M273.3 228.8h0M267.4 238h0M246.8 233.8h0M258.4 239h0M279.4 232.1h0M251.6 227h0M252.2 237.2h0M258.9 239.8h0M261.7 238.2h0M262.8 239h0M260.9 239.8h0M234.3 201.1h0M262.8 237.6h0M265.5 231.3h0M260 240.1h0M271.5 226.5h0M258.4 239h0M247.3 231.5h0M273.7 218.6h0M267.6 235.3h0M279.1 218.5h0M269.4 233.2h0M289.1 224.5h0M252.8 225.4h0M246 234.6h0M262.8 236.8h0M256.6 238.6h0M256.5 239.2h0M253.8 230.1h0M248.5 225.3h0M254.8 237.6h0M242.4 229.8h0M267 226.2h0M253.7 233.4h0M272.4 231.3h0M265.2 236.9h0M261.1 239.4h0M263.1 238.7h0M271.2 233.4h0M249.5 229.8h0M252.5 237.4h0M275.6 234.2h0M242.1 226.9h0M265.5 234.7h0M276.5 212.2h0M257.8 238.7h0M261.8 238.7h0M261.4 239.7h0M271.8 232.7h0M253 234h0M276.4 216.1h0M252.4 228.3h0M265.1 238.8h0M246.7 230.4h0M250.9 232.9h0M259.2 239.2h0M259.1 239.7h0M258.4 238.7h0M260.5 239.9h0M280.8 156.6h0M255.8 236.9h0M256.6 237h0M265 238.9h0M267.7 236.9h0M255.7 234.5h0M256.9 238.7h0M256.6 238.4h0M274.7 234.3h0M259.5 239.8h0M254.7 231.6h0M254.7 238.7h0M270.3 227.5h0M261.9 238.6h0M271.6 227.1h0M245.5 227.8h0M262 239.4h0M256.7 239.1h0M249.4 224.4h0M251.8 227.1h0M264.7 235.7h0M269.5 235.9h0M263.2 239.1h0M265 236.7h0M275.5 191.2h0M273.6 223.2h0M249 222.9h0M267.6 237.7h0M251.5 235.1h0M255.3 236.3h0M246.2 215.9h0M254.6 238.3h0M281.6 207.9h0M274.4 226.5h0M270.5 227.6h0M268.4 235.2h0M258.1 237.8h0M255.4 238.7h0M264.7 238.2h0M276.2 231.4h0M275.9 232.6h0M260.6 239.6h0M283.1 221.6h0M261.1 239.8h0M261.9 238.5h0M244.9 205.2h0M276.3 228.6h0M261.6 239.8h0M260.3 240.1h0M266.3 238.3h0M262 239.4h0M282.9 224.8h0M275.1 221.2h0M273.4 232.8h0M269 234.1h0M262.9 237.8h0M255 234.8h0M258.8 239.6h0M245.6 220.6h0M287.1 174.7h0M247.2 222h0M269.3 237.3h0M264.7 238.7h0M274.1 216.9h0M261.5 239.8h0M273.3 234.3h0M271 215.5h0M246.3 234.8h0M261.2 239.6h0M261.7 238.2h0M267.1 238.1h0M262.1 238.6h0M275.9 208.1h0M238.8 166.6h0M263.4 238.7h0M275.6 216.2h0M260.9 239.3h0M255.9 236.8h0M248.5 236.1h0M242 232.2h0M275.1 222.7h0M257.2 236.4h0M237.7 225.9h0M249.7 230.9h0M248.1 236.3h0M245.3 231.2h0M236.4 229.9h0M245 187.5h0M269.1 218.3h0M258 238.6h0M260.7 240h0M260.7 239.8h0M273.6 214.4h0M271.7 225.8h0M251.9 236.3h0M265.5 233.5h0M264.8 236.7h0M248.7 225.7h0M267.3 234h0M256 236.2h0M261.8 239.5h0M261.7 239.7h0M255.2 238.4h0M271 213.9h0M257.4 237.7h0M278 203.2h0M251.4 225.8h0M258.5 238.3h0M280.3 193.9h0M258 237.9h0M246.4 235h0M258.3 239h0M274.7 206.3h0M275.9 210h0" stroke="#F1EEDB" stroke-width="1.5" stroke-linecap="round" fill="none"/>
<path d="M293.6 154.6h0M285.4 184.6h0" stroke="#F1EEDB" stroke-width="1.6" stroke-linecap="round" fill="none"/>
<path d="M221.8 180.1h2.3m-1.1-1.1v2.3M196.8 195.4h2.3m-1.1-1.1v2.3M207.8 198.4h2.3m-1.1-1.1v2.3M208.4 203.2h2.3m-1.1-1.1v2.3M223.2 198.6h2.3m-1.1-1.1v2.3M217.2 207.2h2.3m-1.1-1.1v2.3M215.7 212.8h2.3m-1.1-1.1v2.3M219.8 217.7h2.3m-1.1-1.1v2.3M223.8 218.6h2.3m-1.1-1.1v2.3M219.3 218.5h2.3m-1.1-1.1v2.3" stroke="#3E4468" stroke-width="0.95" fill="none" stroke-opacity="0.75"/>
<path d="M307.9 198.3h2.3m-1.1-1.1v2.3M298.2 209h2.3m-1.1-1.1v2.3M296.8 213.9h2.3m-1.1-1.1v2.3M320.2 215.4h2.3m-1.1-1.1v2.3M297.2 216.7h2.3m-1.1-1.1v2.3M297.8 217.6h2.3m-1.1-1.1v2.3" stroke="#E6765B" stroke-width="0.95" fill="none" stroke-opacity="0.75"/>
<line x1="192" y1="226.1" x2="327" y2="226.1" stroke="#505050" stroke-width="1.25" stroke-dasharray="3.3 2.54"/>
<text x="217" y="185.8" font-size="3.4" fill="#3E4468" text-anchor="middle">hsa-miR-548ac-5p</text>
<text x="206" y="192.9" font-size="3.4" fill="#3E4468" text-anchor="middle">hsa-miR-888-5p</text>
<text x="235" y="196.7" font-size="3.4" fill="#3E4468" text-anchor="middle">hsa-miR-374a-5p</text>
<text x="207" y="204" font-size="3.4" fill="#3E4468" text-anchor="middle">hsa-miR-3613-3p</text>
<text x="233.5" y="210.8" font-size="3.4" fill="#3E4468" text-anchor="middle">hsa-miR-570-3p</text>
<text x="297" y="195.8" font-size="3.4" fill="#E6765B" text-anchor="middle">hsa-miR-1178-3p</text>
<text x="294" y="205.9" font-size="3.4" fill="#E6765B" text-anchor="middle">hsa-miR-6787-3p</text>
<text x="282.5" y="212.7" font-size="3.4" fill="#E6765B" text-anchor="middle">hsa-miR-433-3p</text>
<text x="312" y="212.7" font-size="3.4" fill="#E6765B" text-anchor="middle">hsa-miR-4482-3p</text>
<text x="292.5" y="221.8" font-size="3.4" fill="#E6765B" text-anchor="middle">hsa-miR-133-5p</text>
<line x1="220" y1="201" x2="227" y2="207" stroke="#3E4468" stroke-width="0.5"/>
<line x1="189.7" y1="240.2" x2="191.5" y2="240.2" stroke="#333333" stroke-width="0.9"/>
<text x="188.9" y="242" font-size="5.0" fill="#555555" text-anchor="end">0</text>
<line x1="189.7" y1="218.5" x2="191.5" y2="218.5" stroke="#333333" stroke-width="0.9"/>
<text x="188.9" y="220.3" font-size="5.0" fill="#555555" text-anchor="end">2</text>
<line x1="189.7" y1="196.8" x2="191.5" y2="196.8" stroke="#333333" stroke-width="0.9"/>
<text x="188.9" y="198.6" font-size="5.0" fill="#555555" text-anchor="end">4</text>
<line x1="189.7" y1="175.2" x2="191.5" y2="175.2" stroke="#333333" stroke-width="0.9"/>
<text x="188.9" y="177" font-size="5.0" fill="#555555" text-anchor="end">6</text>
<line x1="189.7" y1="153.5" x2="191.5" y2="153.5" stroke="#333333" stroke-width="0.9"/>
<text x="188.9" y="155.3" font-size="5.0" fill="#555555" text-anchor="end">8</text>
<line x1="225.4" y1="244.5" x2="225.4" y2="246.3" stroke="#333333" stroke-width="0.9"/>
<text x="225.4" y="251.1" font-size="5.0" fill="#555555" text-anchor="middle">-1</text>
<line x1="260.1" y1="244.5" x2="260.1" y2="246.3" stroke="#333333" stroke-width="0.9"/>
<text x="260.1" y="251.1" font-size="5.0" fill="#555555" text-anchor="middle">0</text>
<line x1="294.8" y1="244.5" x2="294.8" y2="246.3" stroke="#333333" stroke-width="0.9"/>
<text x="294.8" y="251.1" font-size="5.0" fill="#555555" text-anchor="middle">1</text>
<text x="259.5" y="146.4" font-size="5.85" fill="#000" text-anchor="middle">miRNA Vocano Plot (edgeR)</text>
<text x="259.5" y="258.5" font-size="6.3" fill="#000" text-anchor="middle">log2FC</text>
<text transform="translate(183.4 197.5) rotate(-90)" font-size="6.3" text-anchor="middle" fill="#000">-log10(P-value)</text>
<text x="177.2" y="149.7" font-size="12.5" fill="#000" text-anchor="start">F</text>
<rect x="191.5" y="150.5" width="136" height="94" fill="none" stroke="#9a9a9a" stroke-width="1"/>
<polygon points="424,217 427,216 428.5,218 430.5,225 432.8,236 434.6,225 435.6,216 438,214.5 440.5,215.5 441,234 452,234 448,238 440,241 425,241 415,238 410,234.5 424,234" fill="#F1EEDB"/>
<path d="M437.3 216.4h0M427.8 236.4h0M436.4 239.6h0M423 236.1h0M436.8 224.4h0M438.6 225.8h0M429 222.4h0M432.1 237.7h0M440.6 222.1h0M427.6 234.6h0M439.2 230.3h0M434.4 226.6h0M429.9 232.1h0M437.2 240.8h0M426.2 232.2h0M412.5 234.9h0M426.4 237.6h0M433.1 237.9h0M444.4 237.4h0M425.1 237.9h0M425.5 229.5h0M431.7 230.9h0M438.4 215.9h0M447.8 235.2h0M446.7 235.6h0M426.5 225.1h0M435.8 218.4h0M425.3 217.8h0M429.6 227.3h0M424.4 221.5h0M432.2 240.4h0M417 235h0M432.4 235.1h0M445.8 235.9h0M444.4 234.1h0M436.2 238.4h0M437.4 235.7h0M448.2 235.2h0M417.5 235.4h0M424 235.7h0M426.9 239.6h0M440.4 219h0M448 235.9h0M416.1 236.4h0M424.7 229h0M432.1 239.2h0M428.2 237.6h0M424.9 226.6h0M434.5 238.5h0M427.7 238.8h0M431.1 228.6h0M428.5 219.4h0M440.5 229.2h0M433.3 235.3h0M433.6 234.6h0M435.7 227.9h0M431.5 232.9h0M429 228.6h0M430.1 239.4h0M439.4 237.7h0M433.5 239.5h0M442.9 238.3h0M437.7 218.3h0M426.7 227.4h0M436.2 228.1h0M411.7 235.1h0M427.7 238.7h0M434 233.1h0M438.9 225.8h0M436.6 235.7h0M429.1 223.5h0M433.2 239.1h0M440.8 229.1h0M430.8 236.6h0M426.5 227.9h0M438.9 240.5h0M424.4 236.6h0M439.7 231.4h0M427 223.7h0M413.5 236.8h0M429.9 227.8h0M434.6 228.5h0M440.1 237.8h0M426.4 223.1h0M440.4 231.5h0M440.8 236h0M431.2 236.6h0M443.8 236.4h0M434.5 238.2h0M438.7 232.9h0" stroke="#F1EEDB" stroke-width="1.5" stroke-linecap="round" fill="none"/>
<path d="M425.1 209.2h0M424.7 211.9h0M424.5 215.7h0M426.8 214h0M427.1 214.4h0M426.4 209h0M428 215h0M426.5 213.3h0M427.3 209.5h0M427.7 211h0M424.4 211.1h0M427.6 210.6h0M427.7 216.8h0M426.5 212.1h0" stroke="#F1EEDB" stroke-width="1.6" stroke-linecap="round" fill="none"/>
<path d="M437.9 214.1h0M439.4 213.7h0M438.7 210.5h0M436.3 211.5h0M439.2 211.8h0M438.4 210.1h0M435.9 211.6h0M438.9 214.2h0" stroke="#F1EEDB" stroke-width="1.6" stroke-linecap="round" fill="none"/>
<path d="M440 173.6h0M437 200h0M426 205h0M429 208h0" stroke="#F1EEDB" stroke-width="1.5" stroke-linecap="round" fill="none"/>
<path d="M416 217.8h2.3m-1.1-1.1v2.3M412.7 221.9h2.3m-1.1-1.1v2.3M420.6 215.7h2.3m-1.1-1.1v2.3M422.4 233h2.3m-1.1-1.1v2.3M419.1 233.8h2.3m-1.1-1.1v2.3M411.3 217.3h2.3m-1.1-1.1v2.3M406.3 233.2h2.3m-1.1-1.1v2.3M406.3 224.7h2.3m-1.1-1.1v2.3M404.8 223.3h2.3m-1.1-1.1v2.3M421.9 214.1h2.3m-1.1-1.1v2.3M419.1 223h2.3m-1.1-1.1v2.3M420.5 227.5h2.3m-1.1-1.1v2.3M406.7 232.1h2.3m-1.1-1.1v2.3M411.3 218.1h2.3m-1.1-1.1v2.3M408.5 230.7h2.3m-1.1-1.1v2.3M419.5 213.8h2.3m-1.1-1.1v2.3M421.3 227.8h2.3m-1.1-1.1v2.3M420.8 217.8h2.3m-1.1-1.1v2.3M409.7 220.2h2.3m-1.1-1.1v2.3M422.8 224.8h2.3m-1.1-1.1v2.3M409.4 221.1h2.3m-1.1-1.1v2.3M404 230.6h2.3m-1.1-1.1v2.3M407.8 233h2.3m-1.1-1.1v2.3M409.7 233.5h2.3m-1.1-1.1v2.3M420.4 230.1h2.3m-1.1-1.1v2.3M415.1 232.5h2.3m-1.1-1.1v2.3M421.6 223.9h2.3m-1.1-1.1v2.3M417.2 221.6h2.3m-1.1-1.1v2.3M417.7 226.1h2.3m-1.1-1.1v2.3M421.3 214h2.3m-1.1-1.1v2.3M411.8 219.1h2.3m-1.1-1.1v2.3M408.1 228.4h2.3m-1.1-1.1v2.3M422.4 217.1h2.3m-1.1-1.1v2.3M415.6 218.1h2.3m-1.1-1.1v2.3M413.6 220.3h2.3m-1.1-1.1v2.3M406.2 232.3h2.3m-1.1-1.1v2.3M420.9 234.4h2.3m-1.1-1.1v2.3M413.8 231.9h2.3m-1.1-1.1v2.3M417.6 220.7h2.3m-1.1-1.1v2.3M410.5 223.3h2.3m-1.1-1.1v2.3M409.8 218.9h2.3m-1.1-1.1v2.3M422.2 214h2.3m-1.1-1.1v2.3M412.4 225.8h2.3m-1.1-1.1v2.3M420 216.1h2.3m-1.1-1.1v2.3M410.2 221.5h2.3m-1.1-1.1v2.3M421.9 230.9h2.3m-1.1-1.1v2.3M402.5 227.7h2.3m-1.1-1.1v2.3M420.7 222.1h2.3m-1.1-1.1v2.3M410.1 232.8h2.3m-1.1-1.1v2.3M419.2 231.1h2.3m-1.1-1.1v2.3M422.3 216.8h2.3m-1.1-1.1v2.3M412.8 227h2.3m-1.1-1.1v2.3M421.6 228h2.3m-1.1-1.1v2.3M415.4 229h2.3m-1.1-1.1v2.3M411.5 224h2.3m-1.1-1.1v2.3M402.7 229.4h2.3m-1.1-1.1v2.3M406.7 232.6h2.3m-1.1-1.1v2.3M415.4 218.1h2.3m-1.1-1.1v2.3M415.2 227.4h2.3m-1.1-1.1v2.3M412.9 224.7h2.3m-1.1-1.1v2.3M408.2 221.8h2.3m-1.1-1.1v2.3M422 226.1h2.3m-1.1-1.1v2.3M420.4 222.2h2.3m-1.1-1.1v2.3M422 227.6h2.3m-1.1-1.1v2.3M412.3 226.8h2.3m-1.1-1.1v2.3M415.9 232.7h2.3m-1.1-1.1v2.3M408.9 220.9h2.3m-1.1-1.1v2.3M416.2 215.7h2.3m-1.1-1.1v2.3M418.6 228.4h2.3m-1.1-1.1v2.3M422.2 218.3h2.3m-1.1-1.1v2.3M419.1 216.4h2.3m-1.1-1.1v2.3M406.5 228.9h2.3m-1.1-1.1v2.3M408 233.4h2.3m-1.1-1.1v2.3M406.5 220.8h2.3m-1.1-1.1v2.3M415.8 233.3h2.3m-1.1-1.1v2.3M406.3 233.9h2.3m-1.1-1.1v2.3M420.7 231.8h2.3m-1.1-1.1v2.3M417.2 234.4h2.3m-1.1-1.1v2.3M421.4 218.7h2.3m-1.1-1.1v2.3M405.7 233h2.3m-1.1-1.1v2.3M415.8 219.9h2.3m-1.1-1.1v2.3M409.7 218.8h2.3m-1.1-1.1v2.3M407.7 219.3h2.3m-1.1-1.1v2.3M421.9 213.9h2.3m-1.1-1.1v2.3M422.1 215.9h2.3m-1.1-1.1v2.3M409.3 230.3h2.3m-1.1-1.1v2.3M419.1 221.2h2.3m-1.1-1.1v2.3M409.7 232.6h2.3m-1.1-1.1v2.3M410.5 230.1h2.3m-1.1-1.1v2.3M421.2 217h2.3m-1.1-1.1v2.3M417.5 232.1h2.3m-1.1-1.1v2.3M422 225.5h2.3m-1.1-1.1v2.3M407.4 227.8h2.3m-1.1-1.1v2.3M421.1 225.9h2.3m-1.1-1.1v2.3M406.8 222.2h2.3m-1.1-1.1v2.3M421.9 233.4h2.3m-1.1-1.1v2.3M410.9 222.6h2.3m-1.1-1.1v2.3M421.3 215.3h2.3m-1.1-1.1v2.3M418.7 228.4h2.3m-1.1-1.1v2.3M419.1 229.2h2.3m-1.1-1.1v2.3M414.6 218.7h2.3m-1.1-1.1v2.3M408.6 219.5h2.3m-1.1-1.1v2.3M406 228.7h2.3m-1.1-1.1v2.3M402.6 224h2.3m-1.1-1.1v2.3M408.7 234h2.3m-1.1-1.1v2.3M420.4 234.2h2.3m-1.1-1.1v2.3M403.9 222.7h2.3m-1.1-1.1v2.3M416.8 221.5h2.3m-1.1-1.1v2.3M406.8 220.8h2.3m-1.1-1.1v2.3M414.9 226.8h2.3m-1.1-1.1v2.3M417.6 230.9h2.3m-1.1-1.1v2.3M419.5 217.9h2.3m-1.1-1.1v2.3M413.8 219.8h2.3m-1.1-1.1v2.3M417.3 215.7h2.3m-1.1-1.1v2.3M405.1 231.8h2.3m-1.1-1.1v2.3M414 218.7h2.3m-1.1-1.1v2.3M410.2 234.3h2.3m-1.1-1.1v2.3M412.5 216.4h2.3m-1.1-1.1v2.3M418.8 226.4h2.3m-1.1-1.1v2.3M422.7 213.4h2.3m-1.1-1.1v2.3M411.8 230.2h2.3m-1.1-1.1v2.3M419.5 232.5h2.3m-1.1-1.1v2.3M422.3 224.7h2.3m-1.1-1.1v2.3M421.4 219.7h2.3m-1.1-1.1v2.3M420 221.6h2.3m-1.1-1.1v2.3M407.3 229.3h2.3m-1.1-1.1v2.3M421.7 213.5h2.3m-1.1-1.1v2.3M414.4 225.6h2.3m-1.1-1.1v2.3M407.2 225.1h2.3m-1.1-1.1v2.3M415.5 215.8h2.3m-1.1-1.1v2.3M416.1 215.4h2.3m-1.1-1.1v2.3M418.6 223.9h2.3m-1.1-1.1v2.3M410.2 223.9h2.3m-1.1-1.1v2.3M405.3 227.3h2.3m-1.1-1.1v2.3M410.5 217.7h2.3m-1.1-1.1v2.3M408.3 233.4h2.3m-1.1-1.1v2.3M408.4 224.3h2.3m-1.1-1.1v2.3M409.4 220.8h2.3m-1.1-1.1v2.3M420 234.4h2.3m-1.1-1.1v2.3M417.1 215.8h2.3m-1.1-1.1v2.3M410.7 230.3h2.3m-1.1-1.1v2.3M410.4 231.7h2.3m-1.1-1.1v2.3M402.2 224h2.3m-1.1-1.1v2.3M415.3 232.4h2.3m-1.1-1.1v2.3M403.7 225.6h2.3m-1.1-1.1v2.3M409.6 222.9h2.3m-1.1-1.1v2.3M412.8 232.7h2.3m-1.1-1.1v2.3M404.1 222.5h2.3m-1.1-1.1v2.3M418.8 233.7h2.3m-1.1-1.1v2.3M421.7 233.9h2.3m-1.1-1.1v2.3M421.3 220.1h2.3m-1.1-1.1v2.3M420.8 225.6h2.3m-1.1-1.1v2.3M419.2 214.8h2.3m-1.1-1.1v2.3M418.4 216.2h2.3m-1.1-1.1v2.3M410.3 230.9h2.3m-1.1-1.1v2.3M419.3 215.3h2.3m-1.1-1.1v2.3M406.4 220.4h2.3m-1.1-1.1v2.3M412.7 220h2.3m-1.1-1.1v2.3M417.1 232.1h2.3m-1.1-1.1v2.3M402.7 224.2h2.3m-1.1-1.1v2.3M419.5 213.8h2.3m-1.1-1.1v2.3M414.4 223.9h2.3m-1.1-1.1v2.3M415 218.2h2.3m-1.1-1.1v2.3M410.7 224.7h2.3m-1.1-1.1v2.3M410.8 226.5h2.3m-1.1-1.1v2.3M411.2 221.3h2.3m-1.1-1.1v2.3M402.3 225.5h2.3m-1.1-1.1v2.3M412.1 216.5h2.3m-1.1-1.1v2.3M417.9 229.3h2.3m-1.1-1.1v2.3M417.3 229.3h2.3m-1.1-1.1v2.3M412.4 219.9h2.3m-1.1-1.1v2.3M421.8 214.2h2.3m-1.1-1.1v2.3M419.8 234.4h2.3m-1.1-1.1v2.3M417.2 230.2h2.3m-1.1-1.1v2.3M405.9 234.1h2.3m-1.1-1.1v2.3M412.2 233.5h2.3m-1.1-1.1v2.3M421.1 214.9h2.3m-1.1-1.1v2.3M418.4 232.9h2.3m-1.1-1.1v2.3M417.7 214.7h2.3m-1.1-1.1v2.3M420.7 217.5h2.3m-1.1-1.1v2.3M419 214.4h2.3m-1.1-1.1v2.3M412.4 232.6h2.3m-1.1-1.1v2.3M412.5 218.5h2.3m-1.1-1.1v2.3M405.2 233h2.3m-1.1-1.1v2.3M416.1 232h2.3m-1.1-1.1v2.3M405.4 229.4h2.3m-1.1-1.1v2.3M404.3 223.5h2.3m-1.1-1.1v2.3M415.2 219.5h2.3m-1.1-1.1v2.3M420.2 224h2.3m-1.1-1.1v2.3M414 231.7h2.3m-1.1-1.1v2.3M404 234.3h2.3m-1.1-1.1v2.3M415.1 220.3h2.3m-1.1-1.1v2.3M418.6 217.2h2.3m-1.1-1.1v2.3M422.7 224.6h2.3m-1.1-1.1v2.3M409.4 229h2.3m-1.1-1.1v2.3M419.1 217h2.3m-1.1-1.1v2.3M415.3 234.1h2.3m-1.1-1.1v2.3M414.2 226.6h2.3m-1.1-1.1v2.3M414.8 221.2h2.3m-1.1-1.1v2.3M412.6 232h2.3m-1.1-1.1v2.3M406.6 224.7h2.3m-1.1-1.1v2.3M414.2 215.8h2.3m-1.1-1.1v2.3M415 222.2h2.3m-1.1-1.1v2.3M404.7 233h2.3m-1.1-1.1v2.3M403.9 226h2.3m-1.1-1.1v2.3M420.1 229.4h2.3m-1.1-1.1v2.3M413.7 219.2h2.3m-1.1-1.1v2.3M415.4 221.4h2.3m-1.1-1.1v2.3M421.5 228.2h2.3m-1.1-1.1v2.3M407.1 232.2h2.3m-1.1-1.1v2.3M402.8 223.5h2.3m-1.1-1.1v2.3M403.1 229.3h2.3m-1.1-1.1v2.3M402.1 223.9h2.3m-1.1-1.1v2.3M421.6 214.3h2.3m-1.1-1.1v2.3M406 225.3h2.3m-1.1-1.1v2.3M412.5 226.1h2.3m-1.1-1.1v2.3M418.9 215.1h2.3m-1.1-1.1v2.3M402.9 231.9h2.3m-1.1-1.1v2.3M418.3 227.8h2.3m-1.1-1.1v2.3M417.5 221.9h2.3m-1.1-1.1v2.3M417.4 221.6h2.3m-1.1-1.1v2.3M408.9 228.6h2.3m-1.1-1.1v2.3M416.4 230.9h2.3m-1.1-1.1v2.3M416.8 217.3h2.3m-1.1-1.1v2.3M413.5 221.2h2.3m-1.1-1.1v2.3M418.4 223.3h2.3m-1.1-1.1v2.3M407.4 226.1h2.3m-1.1-1.1v2.3M422.1 216.1h2.3m-1.1-1.1v2.3M417.5 233.2h2.3m-1.1-1.1v2.3M417.5 218.7h2.3m-1.1-1.1v2.3M420.3 218.7h2.3m-1.1-1.1v2.3M406.9 232.3h2.3m-1.1-1.1v2.3M415.1 227.3h2.3m-1.1-1.1v2.3M415.8 234h2.3m-1.1-1.1v2.3M411.7 230.7h2.3m-1.1-1.1v2.3M416.5 231.2h2.3m-1.1-1.1v2.3M411 228h2.3m-1.1-1.1v2.3M413.8 218.2h2.3m-1.1-1.1v2.3M406.3 225.6h2.3m-1.1-1.1v2.3M403.5 232.4h2.3m-1.1-1.1v2.3" stroke="#3E4468" stroke-width="0.95" fill="none" stroke-opacity="0.75"/>
<path d="M411.1 207.8h2.3m-1.1-1.1v2.3M415.1 204.7h2.3m-1.1-1.1v2.3M401.1 212.9h2.3m-1.1-1.1v2.3M399.9 223.8h2.3m-1.1-1.1v2.3M402.6 209h2.3m-1.1-1.1v2.3M391.8 212.5h2.3m-1.1-1.1v2.3M408.1 205.1h2.3m-1.1-1.1v2.3M418.4 200.4h2.3m-1.1-1.1v2.3M417.1 203.4h2.3m-1.1-1.1v2.3M396.8 215.5h2.3m-1.1-1.1v2.3M399.9 205.1h2.3m-1.1-1.1v2.3M413.2 215.7h2.3m-1.1-1.1v2.3M394.4 220.9h2.3m-1.1-1.1v2.3M410.9 210.3h2.3m-1.1-1.1v2.3M403.7 211.8h2.3m-1.1-1.1v2.3M419.3 200.2h2.3m-1.1-1.1v2.3M419.3 197.9h2.3m-1.1-1.1v2.3M397.4 206.9h2.3m-1.1-1.1v2.3M398.3 214.3h2.3m-1.1-1.1v2.3M402 209.2h2.3m-1.1-1.1v2.3M396.3 213.5h2.3m-1.1-1.1v2.3M394.9 214.3h2.3m-1.1-1.1v2.3M419.2 205.9h2.3m-1.1-1.1v2.3M397 208.3h2.3m-1.1-1.1v2.3M398.8 209.2h2.3m-1.1-1.1v2.3M407.6 203h2.3m-1.1-1.1v2.3M401.3 204.1h2.3m-1.1-1.1v2.3M394.1 211.4h2.3m-1.1-1.1v2.3M414.3 213.3h2.3m-1.1-1.1v2.3M397.1 220.9h2.3m-1.1-1.1v2.3M413 215.8h2.3m-1.1-1.1v2.3M411.1 214.4h2.3m-1.1-1.1v2.3M395.4 219.6h2.3m-1.1-1.1v2.3M404.3 205.6h2.3m-1.1-1.1v2.3M411.4 214h2.3m-1.1-1.1v2.3M400.9 220.6h2.3m-1.1-1.1v2.3M394 212.7h2.3m-1.1-1.1v2.3M411 206.4h2.3m-1.1-1.1v2.3M404.4 214.1h2.3m-1.1-1.1v2.3M410.7 212.4h2.3m-1.1-1.1v2.3M396.7 221.5h2.3m-1.1-1.1v2.3M415.8 211.6h2.3m-1.1-1.1v2.3M394.1 218.5h2.3m-1.1-1.1v2.3M397.6 222.7h2.3m-1.1-1.1v2.3M399.6 212h2.3m-1.1-1.1v2.3M391.3 212.7h2.3m-1.1-1.1v2.3M402.1 206.9h2.3m-1.1-1.1v2.3M398 224.8h2.3m-1.1-1.1v2.3M397.9 227.1h2.3m-1.1-1.1v2.3M403.4 205h2.3m-1.1-1.1v2.3M405.9 218.1h2.3m-1.1-1.1v2.3M402.2 221h2.3m-1.1-1.1v2.3M405.8 208h2.3m-1.1-1.1v2.3M408.4 201.7h2.3m-1.1-1.1v2.3M417.5 210.3h2.3m-1.1-1.1v2.3M418.1 207h2.3m-1.1-1.1v2.3M402.9 206.5h2.3m-1.1-1.1v2.3M404.5 204h2.3m-1.1-1.1v2.3M399.8 206.2h2.3m-1.1-1.1v2.3M400.5 215h2.3m-1.1-1.1v2.3M404.6 220.9h2.3m-1.1-1.1v2.3M411.9 210.6h2.3m-1.1-1.1v2.3M411.8 206.4h2.3m-1.1-1.1v2.3M398.3 226.1h2.3m-1.1-1.1v2.3M397.2 223h2.3m-1.1-1.1v2.3M408.6 206.9h2.3m-1.1-1.1v2.3M405.8 202.4h2.3m-1.1-1.1v2.3M406.6 215.7h2.3m-1.1-1.1v2.3M405.8 218.1h2.3m-1.1-1.1v2.3M402.8 212.7h2.3m-1.1-1.1v2.3M421.6 199.8h2.3m-1.1-1.1v2.3M401.4 233.8h2.3m-1.1-1.1v2.3M407.2 215.2h2.3m-1.1-1.1v2.3M419.6 198.3h2.3m-1.1-1.1v2.3M401.7 229.3h2.3m-1.1-1.1v2.3M402.6 214.8h2.3m-1.1-1.1v2.3M397.6 213.3h2.3m-1.1-1.1v2.3M404.4 217.8h2.3m-1.1-1.1v2.3M417.3 208h2.3m-1.1-1.1v2.3M417.3 212.1h2.3m-1.1-1.1v2.3M407 207.2h2.3m-1.1-1.1v2.3M401.4 208.9h2.3m-1.1-1.1v2.3M400.4 219h2.3m-1.1-1.1v2.3M412.6 205h2.3m-1.1-1.1v2.3M412.2 214.2h2.3m-1.1-1.1v2.3M415.3 200.8h2.3m-1.1-1.1v2.3M411.8 210.8h2.3m-1.1-1.1v2.3M408.8 206.7h2.3m-1.1-1.1v2.3M400.5 212.8h2.3m-1.1-1.1v2.3M401 213.2h2.3m-1.1-1.1v2.3M411.5 205h2.3m-1.1-1.1v2.3M413.9 206.1h2.3m-1.1-1.1v2.3M414.3 204h2.3m-1.1-1.1v2.3M414.2 200.2h2.3m-1.1-1.1v2.3M417 200h2.3m-1.1-1.1v2.3M400.8 224.4h2.3m-1.1-1.1v2.3M402.6 218.6h2.3m-1.1-1.1v2.3M402.5 221.2h2.3m-1.1-1.1v2.3M411 212.7h2.3m-1.1-1.1v2.3M409 208h2.3m-1.1-1.1v2.3M401.5 219.7h2.3m-1.1-1.1v2.3M410.1 208.6h2.3m-1.1-1.1v2.3M416.7 207.6h2.3m-1.1-1.1v2.3M404.4 219h2.3m-1.1-1.1v2.3M409.2 207.3h2.3m-1.1-1.1v2.3M397.3 225.1h2.3m-1.1-1.1v2.3M420.7 205.8h2.3m-1.1-1.1v2.3M405.7 204.7h2.3m-1.1-1.1v2.3M399 225.2h2.3m-1.1-1.1v2.3M416.2 214.2h2.3m-1.1-1.1v2.3M415.6 205.7h2.3m-1.1-1.1v2.3M406.1 219.1h2.3m-1.1-1.1v2.3M396.6 223.3h2.3m-1.1-1.1v2.3M402.5 218.2h2.3m-1.1-1.1v2.3M403.7 216.4h2.3m-1.1-1.1v2.3M422.8 211h2.3m-1.1-1.1v2.3M394.2 220.7h2.3m-1.1-1.1v2.3M416 202.9h2.3m-1.1-1.1v2.3M410 209.9h2.3m-1.1-1.1v2.3M409 206.8h2.3m-1.1-1.1v2.3M415.8 213h2.3m-1.1-1.1v2.3M420 199.4h2.3m-1.1-1.1v2.3M410 211.9h2.3m-1.1-1.1v2.3M399.1 218.2h2.3m-1.1-1.1v2.3M412.3 211.7h2.3m-1.1-1.1v2.3M405.2 203h2.3m-1.1-1.1v2.3M399 210.2h2.3m-1.1-1.1v2.3M417.6 198.8h2.3m-1.1-1.1v2.3M412.5 208.2h2.3m-1.1-1.1v2.3M394.2 209.1h2.3m-1.1-1.1v2.3M406.3 203.3h2.3m-1.1-1.1v2.3M413.8 204.3h2.3m-1.1-1.1v2.3M395.3 213.8h2.3m-1.1-1.1v2.3M405.3 209.7h2.3m-1.1-1.1v2.3M411 202.4h2.3m-1.1-1.1v2.3M399.4 212.4h2.3m-1.1-1.1v2.3M417.7 209.5h2.3m-1.1-1.1v2.3M396.2 215.4h2.3m-1.1-1.1v2.3M401 230.9h2.3m-1.1-1.1v2.3M412.2 204.9h2.3m-1.1-1.1v2.3M406.1 207.7h2.3m-1.1-1.1v2.3M419.5 199.2h2.3m-1.1-1.1v2.3M414.1 208h2.3m-1.1-1.1v2.3M422.2 197.6h2.3m-1.1-1.1v2.3M416.7 209.8h2.3m-1.1-1.1v2.3M396.8 213.3h2.3m-1.1-1.1v2.3M420 205.2h2.3m-1.1-1.1v2.3M409.1 202.2h2.3m-1.1-1.1v2.3M396.6 225.9h2.3m-1.1-1.1v2.3M413.6 204.4h2.3m-1.1-1.1v2.3M410.3 215.6h2.3m-1.1-1.1v2.3M399.6 204.7h2.3m-1.1-1.1v2.3M414.3 212.3h2.3m-1.1-1.1v2.3M416.8 209.6h2.3m-1.1-1.1v2.3M418.8 207h2.3m-1.1-1.1v2.3M402.7 219.3h2.3m-1.1-1.1v2.3M405.1 216.3h2.3m-1.1-1.1v2.3M401.1 223.7h2.3m-1.1-1.1v2.3M407.3 216.9h2.3m-1.1-1.1v2.3M421.8 205.4h2.3m-1.1-1.1v2.3M398.9 227.6h2.3m-1.1-1.1v2.3M413.2 204.3h2.3m-1.1-1.1v2.3M409.3 216.6h2.3m-1.1-1.1v2.3M413.3 200.9h2.3m-1.1-1.1v2.3M406.6 215.8h2.3m-1.1-1.1v2.3M395.6 218.5h2.3m-1.1-1.1v2.3M414.7 203.2h2.3m-1.1-1.1v2.3M403.3 212.8h2.3m-1.1-1.1v2.3" stroke="#3E4468" stroke-width="0.95" fill="none" stroke-opacity="0.75"/>
<path d="M418.2 197h2.3m-1.1-1.1v2.3M416.4 193.4h2.3m-1.1-1.1v2.3M400.8 193.4h2.3m-1.1-1.1v2.3M395.4 196.8h2.3m-1.1-1.1v2.3M401.1 195h2.3m-1.1-1.1v2.3M412.2 193.9h2.3m-1.1-1.1v2.3M406.4 196.6h2.3m-1.1-1.1v2.3M421 199h2.3m-1.1-1.1v2.3M419.5 187.7h2.3m-1.1-1.1v2.3M412.5 192h2.3m-1.1-1.1v2.3M413.5 192.2h2.3m-1.1-1.1v2.3M411.9 191.8h2.3m-1.1-1.1v2.3M408.9 195.2h2.3m-1.1-1.1v2.3M421.4 192.5h2.3m-1.1-1.1v2.3M402.7 199.3h2.3m-1.1-1.1v2.3M397.3 198.3h2.3m-1.1-1.1v2.3M421.6 196.8h2.3m-1.1-1.1v2.3M401.6 195.9h2.3m-1.1-1.1v2.3M409.3 189.8h2.3m-1.1-1.1v2.3M402.4 194.7h2.3m-1.1-1.1v2.3M402.2 191.6h2.3m-1.1-1.1v2.3M396.4 197.4h2.3m-1.1-1.1v2.3M418.2 198.6h2.3m-1.1-1.1v2.3M410.4 199.4h2.3m-1.1-1.1v2.3M399.7 200.5h2.3m-1.1-1.1v2.3" stroke="#3E4468" stroke-width="0.95" fill="none" stroke-opacity="0.75"/>
<path d="M371.5 154.3h2.3m-1.1-1.1v2.3M402.2 161.4h2.3m-1.1-1.1v2.3M411.9 179h2.3m-1.1-1.1v2.3M412.7 182.8h2.3m-1.1-1.1v2.3M375.5 200.7h2.3m-1.1-1.1v2.3M383.5 189.7h2.3m-1.1-1.1v2.3M383.2 194.9h2.3m-1.1-1.1v2.3M385.7 200h2.3m-1.1-1.1v2.3M384.2 203.6h2.3m-1.1-1.1v2.3M384.7 208.7h2.3m-1.1-1.1v2.3M391.9 192h2.3m-1.1-1.1v2.3M398.9 190h2.3m-1.1-1.1v2.3M402.9 191h2.3m-1.1-1.1v2.3M406.9 192.5h2.3m-1.1-1.1v2.3M416.9 188h2.3m-1.1-1.1v2.3" stroke="#3E4468" stroke-width="0.95" fill="none" stroke-opacity="0.75"/>
<path d="M443.5 230.4h2.3m-1.1-1.1v2.3M444.8 229.7h2.3m-1.1-1.1v2.3M442.3 227.7h2.3m-1.1-1.1v2.3M441.6 230.1h2.3m-1.1-1.1v2.3M442.9 230.8h2.3m-1.1-1.1v2.3M439.9 228.7h2.3m-1.1-1.1v2.3M444.3 229.9h2.3m-1.1-1.1v2.3M442.1 234.4h2.3m-1.1-1.1v2.3M442.2 232.4h2.3m-1.1-1.1v2.3M441.1 226.1h2.3m-1.1-1.1v2.3M446.8 229.5h2.3m-1.1-1.1v2.3M440.3 229h2.3m-1.1-1.1v2.3M443.4 232.1h2.3m-1.1-1.1v2.3M440.7 227.5h2.3m-1.1-1.1v2.3M441.1 228.5h2.3m-1.1-1.1v2.3M442.7 231.6h2.3m-1.1-1.1v2.3M444.8 233.1h2.3m-1.1-1.1v2.3M446.4 230.2h2.3m-1.1-1.1v2.3M445.8 232.2h2.3m-1.1-1.1v2.3M445.9 229.8h2.3m-1.1-1.1v2.3M446.1 231.9h2.3m-1.1-1.1v2.3M446 230.8h2.3m-1.1-1.1v2.3M443.8 234.2h2.3m-1.1-1.1v2.3M444.4 229.3h2.3m-1.1-1.1v2.3" stroke="#E6765B" stroke-width="0.95" fill="none" stroke-opacity="0.75"/>
<path d="M440.5 213.9h2.3m-1.1-1.1v2.3M444.7 212.7h2.3m-1.1-1.1v2.3M440.5 217.3h2.3m-1.1-1.1v2.3M444.4 219.2h2.3m-1.1-1.1v2.3M441.9 222h2.3m-1.1-1.1v2.3M451.9 231h2.3m-1.1-1.1v2.3M454.9 232h2.3m-1.1-1.1v2.3M452.9 229h2.3m-1.1-1.1v2.3M446.9 227h2.3m-1.1-1.1v2.3M492.9 178.6h2.3m-1.1-1.1v2.3M463.5 196.8h2.3m-1.1-1.1v2.3M460.8 210.3h2.3m-1.1-1.1v2.3M484.9 206.9h2.3m-1.1-1.1v2.3M469.9 219.7h2.3m-1.1-1.1v2.3" stroke="#E6765B" stroke-width="0.95" fill="none" stroke-opacity="0.75"/>
<line x1="368" y1="233.8" x2="500" y2="233.8" stroke="#505050" stroke-width="1.25" stroke-dasharray="3.3 2.54"/>
<text x="376" y="155.8" font-size="3.4" fill="#3E4468" text-anchor="start">ENSG00000260601</text>
<text x="398.3" y="166.2" font-size="3.4" fill="#3E4468" text-anchor="middle">ENSG00000230019</text>
<text x="407.8" y="176.8" font-size="3.4" fill="#3E4468" text-anchor="middle">LINC00861</text>
<text x="428.8" y="188" font-size="3.4" fill="#3E4468" text-anchor="middle">ENSG00000260392</text>
<text x="404.4" y="194.3" font-size="3.4" fill="#3E4468" text-anchor="middle">ENSG00000261553</text>
<text x="436.9" y="196.1" font-size="3.4" fill="#E6765B" text-anchor="middle">ENSG00000250805</text>
<text x="477" y="175.8" font-size="3.4" fill="#E6765B" text-anchor="middle">ENSG00000260673</text>
<text x="480" y="186.2" font-size="3.4" fill="#E6765B" text-anchor="middle">ENSG00000260614</text>
<text x="470.5" y="192.7" font-size="3.4" fill="#E6765B" text-anchor="middle">ENSG00000261181</text>
<text x="470" y="202.9" font-size="3.4" fill="#E6765B" text-anchor="middle">ENSG00000261383</text>
<line x1="453" y1="195" x2="464" y2="195.5" stroke="#E6765B" stroke-width="0.5"/>
<line x1="464.6" y1="196.8" x2="472" y2="188" stroke="#E6765B" stroke-width="0.5"/>
<line x1="365.7" y1="240.3" x2="367.5" y2="240.3" stroke="#333333" stroke-width="0.9"/>
<text x="364.9" y="242.1" font-size="5.0" fill="#555555" text-anchor="end">0</text>
<line x1="365.7" y1="215.2" x2="367.5" y2="215.2" stroke="#333333" stroke-width="0.9"/>
<text x="364.9" y="217.1" font-size="5.0" fill="#555555" text-anchor="end">5</text>
<line x1="365.7" y1="190.2" x2="367.5" y2="190.2" stroke="#333333" stroke-width="0.9"/>
<text x="364.9" y="192" font-size="5.0" fill="#555555" text-anchor="end">10</text>
<line x1="365.7" y1="165.2" x2="367.5" y2="165.2" stroke="#333333" stroke-width="0.9"/>
<text x="364.9" y="167" font-size="5.0" fill="#555555" text-anchor="end">15</text>
<line x1="398.1" y1="244.5" x2="398.1" y2="246.3" stroke="#333333" stroke-width="0.9"/>
<text x="398.1" y="251.1" font-size="5.0" fill="#555555" text-anchor="middle">-4</text>
<line x1="432.5" y1="244.5" x2="432.5" y2="246.3" stroke="#333333" stroke-width="0.9"/>
<text x="432.5" y="251.1" font-size="5.0" fill="#555555" text-anchor="middle">0</text>
<line x1="466.9" y1="244.5" x2="466.9" y2="246.3" stroke="#333333" stroke-width="0.9"/>
<text x="466.9" y="251.1" font-size="5.0" fill="#555555" text-anchor="middle">4</text>
<text x="434" y="146.4" font-size="5.85" fill="#000" text-anchor="middle">lncRNA Vocano Plot (edgeR)</text>
<text x="434" y="258.5" font-size="6.3" fill="#000" text-anchor="middle">log2FC</text>
<text transform="translate(355.5 197.5) rotate(-90)" font-size="6.3" text-anchor="middle" fill="#000">-log10(P-value)</text>
<text x="347.6" y="150.3" font-size="12.5" fill="#000" text-anchor="start">G</text>
<rect x="367.5" y="150.5" width="133" height="94" fill="none" stroke="#9a9a9a" stroke-width="1"/>
<path d="M624.1 234.2h0M642.8 237.6h0M654.2 232.4h0M633.2 238.8h0M622.8 233.8h0M624.4 236h0M631.2 237.7h0M619.7 232.9h0M617.8 231.6h0M641 237.6h0M634.7 239h0M638 239.6h0M652.1 232.9h0M652.1 232.2h0M649.6 234.4h0M649.5 234.4h0M619.1 231.7h0M652.3 231.6h0M623 234.9h0M635.2 239.3h0M635.1 239.9h0M624.8 236.1h0M625.7 235.7h0M647.8 234.1h0M630.7 237.8h0M653.3 232.7h0M627 236.5h0M628.6 237.2h0M624.3 235h0M631.6 238.2h0M619 234h0M635.6 239.6h0M635 239.1h0M617.8 233.7h0M630.3 237.2h0M629 236.9h0M647.8 234.8h0M616.6 229.6h0M653.9 231.9h0M653.1 232.8h0M638.9 238.6h0M621.3 234.3h0M632.9 238.9h0M643.6 236.2h0M630.6 238h0M623 234.7h0M643.5 236.1h0M616.2 231.6h0M618.9 230.8h0M634.9 239.8h0M624.2 234.5h0M640.5 238.1h0M650.7 232.2h0M653.5 233h0M636.6 239.7h0M652 231.7h0M639.6 237.7h0M626.8 235.7h0M629.7 236.4h0M627.5 236.4h0M648.1 233.6h0M643.7 235.9h0M629.4 237.2h0M635.9 240h0M618 231.5h0M631.6 238h0M626 235.6h0M634.9 239.2h0M631.3 237.6h0M646.1 235.2h0M647 234.4h0M629.6 236.6h0M630.4 237.1h0M654 230.2h0M620.6 232.7h0M618.7 232h0M650.6 232.7h0M638.9 238.2h0M627.8 236.6h0M648.8 233.9h0M647.6 233.8h0M638.7 239h0M629.2 237.2h0M619.7 232.3h0M621.5 234.2h0M632.1 238.5h0M624 235.4h0M644.5 237.1h0M637 239.1h0M637.1 239h0M644 236.3h0M651.8 231h0M620.5 233.6h0M621.9 233.5h0M649.9 233.3h0M631.5 237.6h0M650.2 232.3h0M653.6 232.1h0M648.2 234.5h0M641.8 237.7h0M647.9 234h0M636.1 240h0M623.8 234.2h0M647.4 234.8h0M630.6 238.2h0M652.1 232.8h0M639.5 238.3h0M618.4 233h0M620.3 231.8h0M639.8 238.2h0M654.2 233h0M640.8 237.4h0M652.2 232.2h0M621.9 234.5h0M628.8 236.7h0M629.9 237.6h0M620.8 232.3h0M627.5 237.1h0M629.3 237.1h0M627.1 235.5h0M645.8 235h0M625.5 234.9h0M648.8 234.1h0M634.7 239.6h0M637.8 239.1h0M638.7 238.7h0M630.2 237.2h0M622.1 234.3h0M618.7 231.2h0M623.8 234.5h0M649.6 234.8h0M616.7 231h0M627.5 235.4h0M644 236h0M615.7 230h0M648.6 234h0M615.3 229.5h0M635.2 239.2h0M643.2 235.6h0M631.9 238.8h0" stroke="#F1EEDB" stroke-width="1.6" stroke-linecap="round" fill="none"/>
<path d="M549.5 154.6h2.3m-1.1-1.1v2.3M550.1 166.6h2.3m-1.1-1.1v2.3M580.1 194.4h2.3m-1.1-1.1v2.3M582.2 197.9h2.3m-1.1-1.1v2.3M581.6 203.2h2.3m-1.1-1.1v2.3M599.2 213.7h2.3m-1.1-1.1v2.3M603.9 214.2h2.3m-1.1-1.1v2.3M600.9 217.2h2.3m-1.1-1.1v2.3M598.9 220.3h2.3m-1.1-1.1v2.3M609.5 218h2.3m-1.1-1.1v2.3M605.4 220.6h2.3m-1.1-1.1v2.3M605.9 222.5h2.3m-1.1-1.1v2.3M607.9 223.5h2.3m-1.1-1.1v2.3M609.9 225.4h2.3m-1.1-1.1v2.3M611.4 226.5h2.3m-1.1-1.1v2.3M612.4 227h2.3m-1.1-1.1v2.3M606.9 224h2.3m-1.1-1.1v2.3" stroke="#3E4468" stroke-width="0.95" fill="none" stroke-opacity="0.75"/>
<path d="M668.4 218.5h2.3m-1.1-1.1v2.3M659.9 220h2.3m-1.1-1.1v2.3M661.9 218.5h2.3m-1.1-1.1v2.3M657.9 223.7h2.3m-1.1-1.1v2.3M654.9 228h2.3m-1.1-1.1v2.3M662.9 226h2.3m-1.1-1.1v2.3M658.9 229h2.3m-1.1-1.1v2.3" stroke="#E6765B" stroke-width="0.95" fill="none" stroke-opacity="0.75"/>
<line x1="545.3" y1="228.4" x2="676" y2="228.4" stroke="#505050" stroke-width="1.25" stroke-dasharray="3.3 2.54"/>
<text x="553.5" y="156" font-size="3.4" fill="#3E4468" text-anchor="start">hsa_circ_0000095</text>
<text x="554.5" y="167.8" font-size="3.4" fill="#3E4468" text-anchor="start">hsa_circ_0058480</text>
<text x="576" y="192" font-size="3.4" fill="#3E4468" text-anchor="middle">hsa_circ_0000799</text>
<text x="578.6" y="208.7" font-size="3.4" fill="#3E4468" text-anchor="middle">hsa_circ_0006174</text>
<text x="599.6" y="202.1" font-size="3.4" fill="#3E4468" text-anchor="middle">hsa_circ_0002484</text>
<text x="651.4" y="208.6" font-size="3.4" fill="#E6765B" text-anchor="middle">hsa_circ_0000689</text>
<text x="660.5" y="215.3" font-size="3.4" fill="#E6765B" text-anchor="middle">hsa_circ_0000002</text>
<text x="641.8" y="221.9" font-size="3.4" fill="#E6765B" text-anchor="middle">hsa_circ_0006058</text>
<text x="629.8" y="228.2" font-size="3.4" fill="#E6765B" text-anchor="middle">hsa_circ_0085370</text>
<text x="660.6" y="228.2" font-size="3.4" fill="#E6765B" text-anchor="middle">hsa_circ_0004812</text>
<line x1="666" y1="207.5" x2="670" y2="218" stroke="#E6765B" stroke-width="0.5"/>
<line x1="644" y1="227.5" x2="660" y2="223.5" stroke="#E6765B" stroke-width="0.5"/>
<line x1="655.5" y1="221" x2="661" y2="220" stroke="#E6765B" stroke-width="0.5"/>
<line x1="543" y1="240.2" x2="544.8" y2="240.2" stroke="#333333" stroke-width="0.9"/>
<text x="542.2" y="242" font-size="5.0" fill="#555555" text-anchor="end">0.0</text>
<line x1="543" y1="217.5" x2="544.8" y2="217.5" stroke="#333333" stroke-width="0.9"/>
<text x="542.2" y="219.3" font-size="5.0" fill="#555555" text-anchor="end">2.5</text>
<line x1="543" y1="194.8" x2="544.8" y2="194.8" stroke="#333333" stroke-width="0.9"/>
<text x="542.2" y="196.6" font-size="5.0" fill="#555555" text-anchor="end">5.0</text>
<line x1="543" y1="172.1" x2="544.8" y2="172.1" stroke="#333333" stroke-width="0.9"/>
<text x="542.2" y="173.9" font-size="5.0" fill="#555555" text-anchor="end">7.5</text>
<line x1="553.8" y1="244.5" x2="553.8" y2="246.3" stroke="#333333" stroke-width="0.9"/>
<text x="553.8" y="251.1" font-size="5.0" fill="#555555" text-anchor="middle">-4</text>
<line x1="594.8" y1="244.5" x2="594.8" y2="246.3" stroke="#333333" stroke-width="0.9"/>
<text x="594.8" y="251.1" font-size="5.0" fill="#555555" text-anchor="middle">-2</text>
<line x1="635.8" y1="244.5" x2="635.8" y2="246.3" stroke="#333333" stroke-width="0.9"/>
<text x="635.8" y="251.1" font-size="5.0" fill="#555555" text-anchor="middle">0</text>
<text x="610.6" y="146.4" font-size="5.85" fill="#000" text-anchor="middle">circRNA Vocano Plot (edgeR)</text>
<text x="610.6" y="258.5" font-size="6.3" fill="#000" text-anchor="middle">log2FC</text>
<text transform="translate(532.8 197.5) rotate(-90)" font-size="6.3" text-anchor="middle" fill="#000">-log10(P-value)</text>
<text x="524.9" y="149.6" font-size="12.5" fill="#000" text-anchor="start">H</text>
<rect x="544.8" y="150.5" width="131.7" height="94" fill="none" stroke="#9a9a9a" stroke-width="1"/>
<circle cx="49.6" cy="341.5" r="42" fill="#7DABB3"/>
<circle cx="105.6" cy="341.5" r="42" fill="#FEDE9F"/>
<path d="M77.6 310.2A42 42 0 0 1 77.6 372.8A42 42 0 0 1 77.6 310.2Z" fill="#C2B67E"/>
<circle cx="49.6" cy="341.5" r="42" fill="none" stroke="#262626" stroke-width="0.9"/>
<circle cx="105.6" cy="341.5" r="42" fill="none" stroke="#262626" stroke-width="0.9"/>
<text x="43.8" y="339.9" font-size="6.4" fill="#1a1a1a" text-anchor="middle">290</text>
<text x="43.8" y="349.4" font-size="6.4" fill="#1a1a1a" text-anchor="middle">(80.3%)</text>
<text x="77.6" y="339.9" font-size="6.4" fill="#1a1a1a" text-anchor="middle">52</text>
<text x="77.6" y="349.4" font-size="6.4" fill="#1a1a1a" text-anchor="middle">(14.4%)</text>
<text x="111.4" y="339.9" font-size="6.4" fill="#1a1a1a" text-anchor="middle">19</text>
<text x="111.4" y="349.4" font-size="6.4" fill="#1a1a1a" text-anchor="middle">(5.3%)</text>
<text x="44.1" y="291.9" font-size="6.5" fill="#2E7482" text-anchor="middle">limma mRNA</text>
<text x="111.1" y="291.9" font-size="6.5" fill="#F5C14E" text-anchor="middle">edgeR mRNA</text>
<text x="2.9" y="285.8" font-size="12.5" fill="#000" text-anchor="start">I</text>
<circle cx="225.6" cy="341.5" r="42" fill="#7DABB3"/>
<circle cx="282" cy="341.5" r="42" fill="#FEDE9F"/>
<path d="M253.8 310.4A42 42 0 0 1 253.8 372.6A42 42 0 0 1 253.8 310.4Z" fill="#C2B67E"/>
<circle cx="225.6" cy="341.5" r="42" fill="none" stroke="#262626" stroke-width="0.9"/>
<circle cx="282" cy="341.5" r="42" fill="none" stroke="#262626" stroke-width="0.9"/>
<text x="219.8" y="339.9" font-size="6.4" fill="#1a1a1a" text-anchor="middle">2</text>
<text x="219.8" y="349.4" font-size="6.4" fill="#1a1a1a" text-anchor="middle">(22.2%)</text>
<text x="253.8" y="339.9" font-size="6.4" fill="#1a1a1a" text-anchor="middle">3</text>
<text x="253.8" y="349.4" font-size="6.4" fill="#1a1a1a" text-anchor="middle">(33.3%)</text>
<text x="287.8" y="339.9" font-size="6.4" fill="#1a1a1a" text-anchor="middle">4</text>
<text x="287.8" y="349.4" font-size="6.4" fill="#1a1a1a" text-anchor="middle">(44.4%)</text>
<text x="220.1" y="291.9" font-size="6.5" fill="#2E7482" text-anchor="middle">limma miRNA</text>
<text x="287.5" y="291.9" font-size="6.5" fill="#F5C14E" text-anchor="middle">edgeR miRNA</text>
<text x="180.8" y="286" font-size="12.5" fill="#000" text-anchor="start">J</text>
<circle cx="408.3" cy="341.5" r="42" fill="#7DABB3"/>
<circle cx="464.3" cy="341.5" r="42" fill="#FEDE9F"/>
<path d="M436.3 310.2A42 42 0 0 1 436.3 372.8A42 42 0 0 1 436.3 310.2Z" fill="#C2B67E"/>
<circle cx="408.3" cy="341.5" r="42" fill="none" stroke="#262626" stroke-width="0.9"/>
<circle cx="464.3" cy="341.5" r="42" fill="none" stroke="#262626" stroke-width="0.9"/>
<text x="402.5" y="339.9" font-size="6.4" fill="#1a1a1a" text-anchor="middle">163</text>
<text x="402.5" y="349.4" font-size="6.4" fill="#1a1a1a" text-anchor="middle">(75.5%)</text>
<text x="436.3" y="339.9" font-size="6.4" fill="#1a1a1a" text-anchor="middle">35</text>
<text x="436.3" y="349.4" font-size="6.4" fill="#1a1a1a" text-anchor="middle">(16.2%)</text>
<text x="470.1" y="339.9" font-size="6.4" fill="#1a1a1a" text-anchor="middle">18</text>
<text x="470.1" y="349.4" font-size="6.4" fill="#1a1a1a" text-anchor="middle">(8.3%)</text>
<text x="402.8" y="291.9" font-size="6.5" fill="#2E7482" text-anchor="middle">limma lncRNA</text>
<text x="469.8" y="291.9" font-size="6.5" fill="#F5C14E" text-anchor="middle">edgeR lncRNA</text>
<text x="348.8" y="286" font-size="12.5" fill="#000" text-anchor="start">K</text>
<circle cx="584.9" cy="342.9" r="42" fill="#7DABB3"/>
<circle cx="640.6" cy="342.9" r="42" fill="#FEDE9F"/>
<path d="M612.8 311.5A42 42 0 0 1 612.8 374.3A42 42 0 0 1 612.8 311.5Z" fill="#C2B67E"/>
<circle cx="584.9" cy="342.9" r="42" fill="none" stroke="#262626" stroke-width="0.9"/>
<circle cx="640.6" cy="342.9" r="42" fill="none" stroke="#262626" stroke-width="0.9"/>
<text x="579.1" y="341.3" font-size="6.4" fill="#1a1a1a" text-anchor="middle">6</text>
<text x="579.1" y="350.8" font-size="6.4" fill="#1a1a1a" text-anchor="middle">(40.0%)</text>
<text x="612.8" y="341.3" font-size="6.4" fill="#1a1a1a" text-anchor="middle">3</text>
<text x="612.8" y="350.8" font-size="6.4" fill="#1a1a1a" text-anchor="middle">(20.0%)</text>
<text x="646.4" y="341.3" font-size="6.4" fill="#1a1a1a" text-anchor="middle">6</text>
<text x="646.4" y="350.8" font-size="6.4" fill="#1a1a1a" text-anchor="middle">(40.0%)</text>
<text x="579.4" y="294.2" font-size="6.5" fill="#2E7482" text-anchor="middle">limma circRNA</text>
<text x="646.1" y="294.2" font-size="6.5" fill="#F5C14E" text-anchor="middle">edgeR circRNA</text>
<text x="525.8" y="286" font-size="12.5" fill="#000" text-anchor="start">L</text>
<circle cx="52.5" cy="469.8" r="42" fill="#7DABB3"/>
<circle cx="108.8" cy="469.8" r="42" fill="#FEDE9F"/>
<path d="M80.7 438.6A42 42 0 0 1 80.7 501A42 42 0 0 1 80.7 438.6Z" fill="#C2B67E"/>
<circle cx="52.5" cy="469.8" r="42" fill="none" stroke="#262626" stroke-width="0.9"/>
<circle cx="108.8" cy="469.8" r="42" fill="none" stroke="#262626" stroke-width="0.9"/>
<text x="46.7" y="468.2" font-size="6.4" fill="#1a1a1a" text-anchor="middle">174</text>
<text x="46.7" y="477.7" font-size="6.4" fill="#1a1a1a" text-anchor="middle">(8.6%)</text>
<text x="80.7" y="468.2" font-size="6.4" fill="#1a1a1a" text-anchor="middle">1227</text>
<text x="80.7" y="477.7" font-size="6.4" fill="#1a1a1a" text-anchor="middle">(60.7%)</text>
<text x="114.6" y="468.2" font-size="6.4" fill="#1a1a1a" text-anchor="middle">621</text>
<text x="114.6" y="477.7" font-size="6.4" fill="#1a1a1a" text-anchor="middle">(30.7%)</text>
<text x="47" y="419.9" font-size="6.5" fill="#2E7482" text-anchor="middle">limma mRNA</text>
<text x="114.3" y="419.9" font-size="6.5" fill="#F5C14E" text-anchor="middle">edgeR mRNA</text>
<text x="2.5" y="415.2" font-size="12.5" fill="#000" text-anchor="start">M</text>
<circle cx="225.6" cy="469.8" r="42" fill="#7DABB3"/>
<circle cx="282" cy="469.8" r="42" fill="#FEDE9F"/>
<path d="M253.8 438.7A42 42 0 0 1 253.8 500.9A42 42 0 0 1 253.8 438.7Z" fill="#C2B67E"/>
<circle cx="225.6" cy="469.8" r="42" fill="none" stroke="#262626" stroke-width="0.9"/>
<circle cx="282" cy="469.8" r="42" fill="none" stroke="#262626" stroke-width="0.9"/>
<text x="219.8" y="468.2" font-size="6.4" fill="#1a1a1a" text-anchor="middle">2</text>
<text x="219.8" y="477.7" font-size="6.4" fill="#1a1a1a" text-anchor="middle">(13.3%)</text>
<text x="253.8" y="468.2" font-size="6.4" fill="#1a1a1a" text-anchor="middle">6</text>
<text x="253.8" y="477.7" font-size="6.4" fill="#1a1a1a" text-anchor="middle">(40.0%)</text>
<text x="287.8" y="468.2" font-size="6.4" fill="#1a1a1a" text-anchor="middle">7</text>
<text x="287.8" y="477.7" font-size="6.4" fill="#1a1a1a" text-anchor="middle">(46.7%)</text>
<text x="220.1" y="419.9" font-size="6.5" fill="#2E7482" text-anchor="middle">limma miRNA</text>
<text x="287.5" y="419.9" font-size="6.5" fill="#F5C14E" text-anchor="middle">edgeR miRNA</text>
<text x="180.2" y="415.2" font-size="12.5" fill="#000" text-anchor="start">N</text>
<circle cx="408.3" cy="469.8" r="42" fill="#7DABB3"/>
<circle cx="464.3" cy="469.8" r="42" fill="#FEDE9F"/>
<path d="M436.3 438.5A42 42 0 0 1 436.3 501.1A42 42 0 0 1 436.3 438.5Z" fill="#C2B67E"/>
<circle cx="408.3" cy="469.8" r="42" fill="none" stroke="#262626" stroke-width="0.9"/>
<circle cx="464.3" cy="469.8" r="42" fill="none" stroke="#262626" stroke-width="0.9"/>
<text x="402.5" y="468.2" font-size="6.4" fill="#1a1a1a" text-anchor="middle">154</text>
<text x="402.5" y="477.7" font-size="6.4" fill="#1a1a1a" text-anchor="middle">(15.8%)</text>
<text x="436.3" y="468.2" font-size="6.4" fill="#1a1a1a" text-anchor="middle">617</text>
<text x="436.3" y="477.7" font-size="6.4" fill="#1a1a1a" text-anchor="middle">(63.3%)</text>
<text x="470.1" y="468.2" font-size="6.4" fill="#1a1a1a" text-anchor="middle">203</text>
<text x="470.1" y="477.7" font-size="6.4" fill="#1a1a1a" text-anchor="middle">(20.8%)</text>
<text x="402.8" y="419.9" font-size="6.5" fill="#2E7482" text-anchor="middle">limma lncRNA</text>
<text x="469.8" y="419.9" font-size="6.5" fill="#F5C14E" text-anchor="middle">edgeR lncRNA</text>
<text x="349" y="415.7" font-size="12.5" fill="#000" text-anchor="start">O</text>
<circle cx="585.2" cy="469.8" r="42" fill="#7DABB3"/>
<circle cx="641.2" cy="469.8" r="42" fill="#FEDE9F"/>
<path d="M613.2 438.5A42 42 0 0 1 613.2 501.1A42 42 0 0 1 613.2 438.5Z" fill="#C2B67E"/>
<circle cx="585.2" cy="469.8" r="42" fill="none" stroke="#262626" stroke-width="0.9"/>
<circle cx="641.2" cy="469.8" r="42" fill="none" stroke="#262626" stroke-width="0.9"/>
<text x="579.4" y="468.2" font-size="6.4" fill="#1a1a1a" text-anchor="middle">0</text>
<text x="579.4" y="477.7" font-size="6.4" fill="#1a1a1a" text-anchor="middle">(0.0%)</text>
<text x="613.2" y="468.2" font-size="6.4" fill="#1a1a1a" text-anchor="middle">15</text>
<text x="613.2" y="477.7" font-size="6.4" fill="#1a1a1a" text-anchor="middle">(62.5%)</text>
<text x="647" y="468.2" font-size="6.4" fill="#1a1a1a" text-anchor="middle">9</text>
<text x="647" y="477.7" font-size="6.4" fill="#1a1a1a" text-anchor="middle">(37.5%)</text>
<g clip-path="url(#clipP)">
<text x="579.7" y="419.9" font-size="6.5" fill="#2E7482" text-anchor="middle">limma circRNA</text>
<text x="646.7" y="419.9" font-size="6.5" fill="#F5C14E" text-anchor="middle">edgeR circRNA</text>
</g>
<text x="525.8" y="414.7" font-size="12.5" fill="#000" text-anchor="start">P</text>
</svg></body></html>
